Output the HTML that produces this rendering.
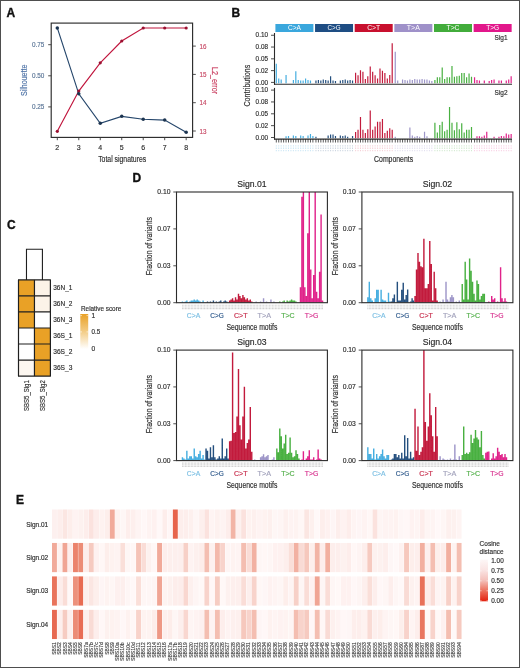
<!DOCTYPE html>
<html><head><meta charset="utf-8"><title>Figure</title>
<style>
html,body{margin:0;padding:0;background:#fff;}
body{width:520px;height:668px;overflow:hidden;}
svg{display:block;font-family:"Liberation Sans", sans-serif;will-change:transform;}
</style></head>
<body>
<svg width="520" height="668" viewBox="0 0 520 668">
<rect x="0" y="0" width="520" height="668" fill="#ffffff"/>
<text x="6.60" y="16.70" font-size="12" fill="#111" text-anchor="start" font-weight="bold" stroke="#111" stroke-width="0.35">A</text>
<polyline points="57.30,131.28 78.78,91.10 100.26,62.80 121.74,41.01 143.22,27.99 164.70,27.99 186.18,27.99" fill="none" stroke="#c0143c" stroke-width="1.15"/>
<polyline points="57.30,27.91 78.78,93.84 100.26,123.32 121.74,116.35 143.22,119.22 164.70,120.09 186.18,132.28" fill="none" stroke="#25466b" stroke-width="1.15"/>
<circle cx="57.30" cy="131.28" r="1.6" fill="#9a1030"/>
<circle cx="78.78" cy="91.10" r="1.6" fill="#9a1030"/>
<circle cx="100.26" cy="62.80" r="1.6" fill="#9a1030"/>
<circle cx="121.74" cy="41.01" r="1.6" fill="#9a1030"/>
<circle cx="143.22" cy="27.99" r="1.6" fill="#9a1030"/>
<circle cx="164.70" cy="27.99" r="1.6" fill="#9a1030"/>
<circle cx="186.18" cy="27.99" r="1.6" fill="#9a1030"/>
<circle cx="57.30" cy="27.91" r="1.75" fill="#1c3450"/>
<circle cx="78.78" cy="93.84" r="1.75" fill="#1c3450"/>
<circle cx="100.26" cy="123.32" r="1.75" fill="#1c3450"/>
<circle cx="121.74" cy="116.35" r="1.75" fill="#1c3450"/>
<circle cx="143.22" cy="119.22" r="1.75" fill="#1c3450"/>
<circle cx="164.70" cy="120.09" r="1.75" fill="#1c3450"/>
<circle cx="186.18" cy="132.28" r="1.75" fill="#1c3450"/>
<rect x="51.2" y="23.1" width="141.40" height="114.30" fill="none" stroke="#2b2b2b" stroke-width="1.15"/>
<line x1="48.20" y1="106.90" x2="51.20" y2="106.90" stroke="#3a3a3a" stroke-width="0.9"/>
<text x="44.40" y="109.40" font-size="7" fill="#5b7697" text-anchor="end" stroke="#5b7697" stroke-width="0.16" textLength="12.4" lengthAdjust="spacingAndGlyphs">0.25</text>
<line x1="48.20" y1="75.80" x2="51.20" y2="75.80" stroke="#3a3a3a" stroke-width="0.9"/>
<text x="44.40" y="78.30" font-size="7" fill="#5b7697" text-anchor="end" stroke="#5b7697" stroke-width="0.16" textLength="12.4" lengthAdjust="spacingAndGlyphs">0.50</text>
<line x1="48.20" y1="44.70" x2="51.20" y2="44.70" stroke="#3a3a3a" stroke-width="0.9"/>
<text x="44.40" y="47.20" font-size="7" fill="#5b7697" text-anchor="end" stroke="#5b7697" stroke-width="0.16" textLength="12.4" lengthAdjust="spacingAndGlyphs">0.75</text>
<line x1="192.60" y1="131.00" x2="195.80" y2="131.00" stroke="#3a3a3a" stroke-width="0.9"/>
<text x="199.40" y="133.50" font-size="7" fill="#c84a66" text-anchor="start" stroke="#c84a66" stroke-width="0.16" textLength="7" lengthAdjust="spacingAndGlyphs">13</text>
<line x1="192.60" y1="102.70" x2="195.80" y2="102.70" stroke="#3a3a3a" stroke-width="0.9"/>
<text x="199.40" y="105.20" font-size="7" fill="#c84a66" text-anchor="start" stroke="#c84a66" stroke-width="0.16" textLength="7" lengthAdjust="spacingAndGlyphs">14</text>
<line x1="192.60" y1="74.40" x2="195.80" y2="74.40" stroke="#3a3a3a" stroke-width="0.9"/>
<text x="199.40" y="76.90" font-size="7" fill="#c84a66" text-anchor="start" stroke="#c84a66" stroke-width="0.16" textLength="7" lengthAdjust="spacingAndGlyphs">15</text>
<line x1="192.60" y1="46.10" x2="195.80" y2="46.10" stroke="#3a3a3a" stroke-width="0.9"/>
<text x="199.40" y="48.60" font-size="7" fill="#c84a66" text-anchor="start" stroke="#c84a66" stroke-width="0.16" textLength="7" lengthAdjust="spacingAndGlyphs">16</text>
<line x1="57.30" y1="137.40" x2="57.30" y2="140.20" stroke="#3a3a3a" stroke-width="0.9"/>
<text x="57.30" y="149.70" font-size="7" fill="#2e2e2e" text-anchor="middle" stroke="#2e2e2e" stroke-width="0.16">2</text>
<line x1="78.78" y1="137.40" x2="78.78" y2="140.20" stroke="#3a3a3a" stroke-width="0.9"/>
<text x="78.78" y="149.70" font-size="7" fill="#2e2e2e" text-anchor="middle" stroke="#2e2e2e" stroke-width="0.16">3</text>
<line x1="100.26" y1="137.40" x2="100.26" y2="140.20" stroke="#3a3a3a" stroke-width="0.9"/>
<text x="100.26" y="149.70" font-size="7" fill="#2e2e2e" text-anchor="middle" stroke="#2e2e2e" stroke-width="0.16">4</text>
<line x1="121.74" y1="137.40" x2="121.74" y2="140.20" stroke="#3a3a3a" stroke-width="0.9"/>
<text x="121.74" y="149.70" font-size="7" fill="#2e2e2e" text-anchor="middle" stroke="#2e2e2e" stroke-width="0.16">5</text>
<line x1="143.22" y1="137.40" x2="143.22" y2="140.20" stroke="#3a3a3a" stroke-width="0.9"/>
<text x="143.22" y="149.70" font-size="7" fill="#2e2e2e" text-anchor="middle" stroke="#2e2e2e" stroke-width="0.16">6</text>
<line x1="164.70" y1="137.40" x2="164.70" y2="140.20" stroke="#3a3a3a" stroke-width="0.9"/>
<text x="164.70" y="149.70" font-size="7" fill="#2e2e2e" text-anchor="middle" stroke="#2e2e2e" stroke-width="0.16">7</text>
<line x1="186.18" y1="137.40" x2="186.18" y2="140.20" stroke="#3a3a3a" stroke-width="0.9"/>
<text x="186.18" y="149.70" font-size="7" fill="#2e2e2e" text-anchor="middle" stroke="#2e2e2e" stroke-width="0.16">8</text>
<text x="122.20" y="161.80" font-size="8.4" fill="#2e2e2e" text-anchor="middle" stroke="#2e2e2e" stroke-width="0.16" textLength="48" lengthAdjust="spacingAndGlyphs">Total signatures</text>
<text x="27.40" y="80.30" font-size="8.4" fill="#4d72a6" text-anchor="middle" stroke="#4d72a6" stroke-width="0.16" textLength="31.4" lengthAdjust="spacingAndGlyphs" transform="rotate(-90 27.40 80.30)">Silhouette</text>
<text x="212.00" y="80.60" font-size="8.4" fill="#c83a5c" text-anchor="middle" stroke="#c83a5c" stroke-width="0.16" textLength="27" lengthAdjust="spacingAndGlyphs" transform="rotate(90 212.00 80.60)">L2_error</text>
<text x="231.40" y="16.90" font-size="12" fill="#111" text-anchor="start" font-weight="bold" stroke="#111" stroke-width="0.35">B</text>
<rect x="275.40" y="24.00" width="38.00" height="8.00" fill="#3aa7dd"/>
<text x="294.40" y="30.40" font-size="6.3" fill="#ffffff" text-anchor="middle" textLength="13" lengthAdjust="spacingAndGlyphs">C&gt;A</text>
<rect x="315.05" y="24.00" width="38.00" height="8.00" fill="#1e4d83"/>
<text x="334.05" y="30.40" font-size="6.3" fill="#ffffff" text-anchor="middle" textLength="13" lengthAdjust="spacingAndGlyphs">C&gt;G</text>
<rect x="354.70" y="24.00" width="38.00" height="8.00" fill="#c8102e"/>
<text x="373.70" y="30.40" font-size="6.3" fill="#ffffff" text-anchor="middle" textLength="13" lengthAdjust="spacingAndGlyphs">C&gt;T</text>
<rect x="394.35" y="24.00" width="38.00" height="8.00" fill="#9f91c9"/>
<text x="413.35" y="30.40" font-size="6.3" fill="#ffffff" text-anchor="middle" textLength="13" lengthAdjust="spacingAndGlyphs">T&gt;A</text>
<rect x="434.00" y="24.00" width="38.00" height="8.00" fill="#42ac3b"/>
<text x="453.00" y="30.40" font-size="6.3" fill="#ffffff" text-anchor="middle" textLength="13" lengthAdjust="spacingAndGlyphs">T&gt;C</text>
<rect x="473.65" y="24.00" width="38.00" height="8.00" fill="#e2178b"/>
<text x="492.65" y="30.40" font-size="6.3" fill="#ffffff" text-anchor="middle" textLength="13" lengthAdjust="spacingAndGlyphs">T&gt;G</text>
<path fill="#46aee0" d="M275.70 63.73h1.20v19.47h-1.20zM278.14 78.61h1.20v4.59h-1.20zM280.58 79.54h1.20v3.66h-1.20zM285.46 74.89h1.20v8.31h-1.20zM292.78 80.01h1.20v3.20h-1.20zM295.22 71.17h1.20v12.03h-1.20zM297.66 80.01h1.20v3.20h-1.20zM300.10 80.47h1.20v2.73h-1.20zM302.54 80.47h1.20v2.73h-1.20zM304.98 78.61h1.20v4.59h-1.20zM307.42 80.01h1.20v3.20h-1.20zM309.86 80.47h1.20v2.73h-1.20zM285.46 136.36h1.20v1.94h-1.20zM287.90 135.88h1.20v2.42h-1.20zM292.78 135.41h1.20v2.89h-1.20zM295.22 135.88h1.20v2.42h-1.20zM300.10 135.41h1.20v2.89h-1.20zM302.54 135.88h1.20v2.42h-1.20zM307.42 135.41h1.20v2.89h-1.20zM309.86 134.00h1.20v4.30h-1.20zM312.30 135.88h1.20v2.42h-1.20z"/>
<path fill="#244f7e" d="M315.35 80.47h1.20v2.73h-1.20zM317.79 80.01h1.20v3.20h-1.20zM320.23 80.47h1.20v2.73h-1.20zM322.67 79.54h1.20v3.66h-1.20zM325.11 80.01h1.20v3.20h-1.20zM327.55 80.47h1.20v2.73h-1.20zM329.99 76.29h1.20v6.91h-1.20zM332.43 80.47h1.20v2.73h-1.20zM334.87 80.94h1.20v2.27h-1.20zM339.75 80.47h1.20v2.73h-1.20zM342.19 80.01h1.20v3.20h-1.20zM344.63 79.54h1.20v3.66h-1.20zM347.07 80.47h1.20v2.73h-1.20zM349.51 80.01h1.20v3.20h-1.20zM351.95 80.47h1.20v2.73h-1.20zM315.35 136.83h1.20v1.47h-1.20zM327.55 135.41h1.20v2.89h-1.20zM329.99 134.47h1.20v3.83h-1.20zM332.43 134.47h1.20v3.83h-1.20zM334.87 135.88h1.20v2.42h-1.20zM339.75 135.41h1.20v2.89h-1.20zM342.19 135.88h1.20v2.42h-1.20zM344.63 135.41h1.20v2.89h-1.20zM347.07 136.83h1.20v1.47h-1.20zM351.95 135.88h1.20v2.42h-1.20z"/>
<path fill="#c21a3c" d="M355.00 72.80h1.20v10.40h-1.20zM357.44 75.36h1.20v7.84h-1.20zM359.88 70.24h1.20v12.96h-1.20zM362.32 71.64h1.20v11.57h-1.20zM364.76 79.08h1.20v4.12h-1.20zM367.20 76.29h1.20v6.91h-1.20zM369.64 66.52h1.20v16.68h-1.20zM372.08 71.64h1.20v11.57h-1.20zM374.52 75.36h1.20v7.84h-1.20zM376.96 78.61h1.20v4.59h-1.20zM379.40 68.38h1.20v14.82h-1.20zM381.84 70.71h1.20v12.50h-1.20zM384.28 73.03h1.20v10.17h-1.20zM386.72 78.61h1.20v4.59h-1.20zM389.16 74.89h1.20v8.31h-1.20zM391.60 43.27h1.20v39.93h-1.20zM355.00 132.11h1.20v6.19h-1.20zM357.44 129.75h1.20v8.55h-1.20zM359.88 117.00h1.20v21.30h-1.20zM362.32 129.75h1.20v8.55h-1.20zM364.76 133.05h1.20v5.25h-1.20zM367.20 129.28h1.20v9.02h-1.20zM369.64 110.40h1.20v27.90h-1.20zM372.08 129.75h1.20v8.55h-1.20zM374.52 126.44h1.20v11.86h-1.20zM376.96 121.72h1.20v16.58h-1.20zM379.40 121.72h1.20v16.58h-1.20zM381.84 118.89h1.20v19.41h-1.20zM384.28 133.05h1.20v5.25h-1.20zM386.72 130.69h1.20v7.61h-1.20zM389.16 128.33h1.20v9.97h-1.20zM391.60 129.75h1.20v8.55h-1.20z"/>
<path fill="#9d95c8" d="M394.65 51.64h1.20v31.56h-1.20zM397.09 80.47h1.20v2.73h-1.20zM401.97 79.54h1.20v3.66h-1.20zM404.41 80.01h1.20v3.20h-1.20zM406.85 80.47h1.20v2.73h-1.20zM409.29 79.54h1.20v3.66h-1.20zM411.73 80.01h1.20v3.20h-1.20zM414.17 79.08h1.20v4.12h-1.20zM416.61 79.54h1.20v3.66h-1.20zM419.05 79.54h1.20v3.66h-1.20zM421.49 79.08h1.20v4.12h-1.20zM423.93 79.54h1.20v3.66h-1.20zM426.37 79.54h1.20v3.66h-1.20zM428.81 80.47h1.20v2.73h-1.20zM431.25 80.94h1.20v2.27h-1.20zM394.65 136.83h1.20v1.47h-1.20zM409.29 127.39h1.20v10.91h-1.20zM411.73 135.41h1.20v2.89h-1.20zM414.17 136.83h1.20v1.47h-1.20zM416.61 135.88h1.20v2.42h-1.20zM419.05 136.83h1.20v1.47h-1.20zM423.93 131.64h1.20v6.66h-1.20zM426.37 136.36h1.20v1.94h-1.20z"/>
<path fill="#48b040" d="M434.30 80.01h1.20v3.20h-1.20zM436.74 77.22h1.20v5.98h-1.20zM439.18 77.22h1.20v5.98h-1.20zM441.62 67.45h1.20v15.75h-1.20zM444.06 79.08h1.20v4.12h-1.20zM446.50 77.22h1.20v5.98h-1.20zM448.94 77.22h1.20v5.98h-1.20zM451.38 66.06h1.20v17.14h-1.20zM453.82 76.75h1.20v6.45h-1.20zM456.26 76.29h1.20v6.91h-1.20zM458.70 75.82h1.20v7.38h-1.20zM461.14 73.03h1.20v10.17h-1.20zM463.58 73.03h1.20v10.17h-1.20zM466.02 77.22h1.20v5.98h-1.20zM468.46 73.50h1.20v9.71h-1.20zM470.90 76.75h1.20v6.45h-1.20zM434.30 122.67h1.20v15.63h-1.20zM436.74 132.58h1.20v5.72h-1.20zM439.18 125.03h1.20v13.27h-1.20zM441.62 121.72h1.20v16.58h-1.20zM444.06 131.16h1.20v7.14h-1.20zM446.50 129.75h1.20v8.55h-1.20zM448.94 107.09h1.20v31.21h-1.20zM451.38 122.67h1.20v15.63h-1.20zM453.82 130.22h1.20v8.08h-1.20zM456.26 122.20h1.20v16.10h-1.20zM458.70 129.28h1.20v9.02h-1.20zM461.14 123.14h1.20v15.16h-1.20zM463.58 132.58h1.20v5.72h-1.20zM466.02 129.75h1.20v8.55h-1.20zM468.46 129.75h1.20v8.55h-1.20zM470.90 126.92h1.20v11.38h-1.20z"/>
<path fill="#e0228a" d="M473.95 77.22h1.20v5.98h-1.20zM476.39 80.01h1.20v3.20h-1.20zM478.83 80.47h1.20v2.73h-1.20zM483.71 80.47h1.20v2.73h-1.20zM488.59 80.94h1.20v2.27h-1.20zM491.03 80.01h1.20v3.20h-1.20zM493.47 79.54h1.20v3.66h-1.20zM498.35 80.47h1.20v2.73h-1.20zM500.79 80.47h1.20v2.73h-1.20zM505.67 80.47h1.20v2.73h-1.20zM508.11 79.54h1.20v3.66h-1.20zM510.55 76.29h1.20v6.91h-1.20zM476.39 136.36h1.20v1.94h-1.20zM478.83 136.36h1.20v1.94h-1.20zM481.27 136.83h1.20v1.47h-1.20zM483.71 135.41h1.20v2.89h-1.20zM486.15 131.64h1.20v6.66h-1.20zM493.47 136.83h1.20v1.47h-1.20zM498.35 136.83h1.20v1.47h-1.20zM500.79 135.88h1.20v2.42h-1.20zM503.23 136.36h1.20v1.94h-1.20zM505.67 133.52h1.20v4.78h-1.20zM508.11 134.47h1.20v3.83h-1.20zM510.55 134.00h1.20v4.30h-1.20z"/>
<line x1="274.50" y1="33.00" x2="274.50" y2="84.80" stroke="#2b2b2b" stroke-width="1.1"/>
<line x1="274.00" y1="84.30" x2="512.00" y2="84.30" stroke="#2b2b2b" stroke-width="1.1"/>
<line x1="274.50" y1="87.90" x2="274.50" y2="139.60" stroke="#2b2b2b" stroke-width="1.1"/>
<line x1="274.00" y1="139.10" x2="512.00" y2="139.10" stroke="#2b2b2b" stroke-width="1.1"/>
<line x1="271.00" y1="82.40" x2="274.60" y2="82.40" stroke="#3a3a3a" stroke-width="0.9"/>
<text x="268.00" y="84.50" font-size="7" fill="#2e2e2e" text-anchor="end" stroke="#2e2e2e" stroke-width="0.16" textLength="12.4" lengthAdjust="spacingAndGlyphs">0.00</text>
<line x1="271.00" y1="70.61" x2="274.60" y2="70.61" stroke="#3a3a3a" stroke-width="0.9"/>
<text x="268.00" y="72.71" font-size="7" fill="#2e2e2e" text-anchor="end" stroke="#2e2e2e" stroke-width="0.16" textLength="12.4" lengthAdjust="spacingAndGlyphs">0.02</text>
<line x1="271.00" y1="58.83" x2="274.60" y2="58.83" stroke="#3a3a3a" stroke-width="0.9"/>
<text x="268.00" y="60.93" font-size="7" fill="#2e2e2e" text-anchor="end" stroke="#2e2e2e" stroke-width="0.16" textLength="12.4" lengthAdjust="spacingAndGlyphs">0.05</text>
<line x1="271.00" y1="47.04" x2="274.60" y2="47.04" stroke="#3a3a3a" stroke-width="0.9"/>
<text x="268.00" y="49.14" font-size="7" fill="#2e2e2e" text-anchor="end" stroke="#2e2e2e" stroke-width="0.16" textLength="12.4" lengthAdjust="spacingAndGlyphs">0.08</text>
<line x1="271.00" y1="35.25" x2="274.60" y2="35.25" stroke="#3a3a3a" stroke-width="0.9"/>
<text x="268.00" y="37.35" font-size="7" fill="#2e2e2e" text-anchor="end" stroke="#2e2e2e" stroke-width="0.16" textLength="12.4" lengthAdjust="spacingAndGlyphs">0.10</text>
<line x1="271.00" y1="137.50" x2="274.60" y2="137.50" stroke="#3a3a3a" stroke-width="0.9"/>
<text x="268.00" y="139.60" font-size="7" fill="#2e2e2e" text-anchor="end" stroke="#2e2e2e" stroke-width="0.16" textLength="12.4" lengthAdjust="spacingAndGlyphs">0.00</text>
<line x1="271.00" y1="125.65" x2="274.60" y2="125.65" stroke="#3a3a3a" stroke-width="0.9"/>
<text x="268.00" y="127.75" font-size="7" fill="#2e2e2e" text-anchor="end" stroke="#2e2e2e" stroke-width="0.16" textLength="12.4" lengthAdjust="spacingAndGlyphs">0.02</text>
<line x1="271.00" y1="113.80" x2="274.60" y2="113.80" stroke="#3a3a3a" stroke-width="0.9"/>
<text x="268.00" y="115.90" font-size="7" fill="#2e2e2e" text-anchor="end" stroke="#2e2e2e" stroke-width="0.16" textLength="12.4" lengthAdjust="spacingAndGlyphs">0.05</text>
<line x1="271.00" y1="101.95" x2="274.60" y2="101.95" stroke="#3a3a3a" stroke-width="0.9"/>
<text x="268.00" y="104.05" font-size="7" fill="#2e2e2e" text-anchor="end" stroke="#2e2e2e" stroke-width="0.16" textLength="12.4" lengthAdjust="spacingAndGlyphs">0.08</text>
<line x1="271.00" y1="90.10" x2="274.60" y2="90.10" stroke="#3a3a3a" stroke-width="0.9"/>
<text x="268.00" y="92.20" font-size="7" fill="#2e2e2e" text-anchor="end" stroke="#2e2e2e" stroke-width="0.16" textLength="12.4" lengthAdjust="spacingAndGlyphs">0.10</text>
<line x1="276.30" y1="139.10" x2="276.30" y2="142.50" stroke="#222" stroke-width="0.75"/>
<line x1="278.74" y1="139.10" x2="278.74" y2="142.50" stroke="#222" stroke-width="0.75"/>
<line x1="281.18" y1="139.10" x2="281.18" y2="142.50" stroke="#222" stroke-width="0.75"/>
<line x1="283.62" y1="139.10" x2="283.62" y2="142.50" stroke="#222" stroke-width="0.75"/>
<line x1="286.06" y1="139.10" x2="286.06" y2="142.50" stroke="#222" stroke-width="0.75"/>
<line x1="288.50" y1="139.10" x2="288.50" y2="142.50" stroke="#222" stroke-width="0.75"/>
<line x1="290.94" y1="139.10" x2="290.94" y2="142.50" stroke="#222" stroke-width="0.75"/>
<line x1="293.38" y1="139.10" x2="293.38" y2="142.50" stroke="#222" stroke-width="0.75"/>
<line x1="295.82" y1="139.10" x2="295.82" y2="142.50" stroke="#222" stroke-width="0.75"/>
<line x1="298.26" y1="139.10" x2="298.26" y2="142.50" stroke="#222" stroke-width="0.75"/>
<line x1="300.70" y1="139.10" x2="300.70" y2="142.50" stroke="#222" stroke-width="0.75"/>
<line x1="303.14" y1="139.10" x2="303.14" y2="142.50" stroke="#222" stroke-width="0.75"/>
<line x1="305.58" y1="139.10" x2="305.58" y2="142.50" stroke="#222" stroke-width="0.75"/>
<line x1="308.02" y1="139.10" x2="308.02" y2="142.50" stroke="#222" stroke-width="0.75"/>
<line x1="310.46" y1="139.10" x2="310.46" y2="142.50" stroke="#222" stroke-width="0.75"/>
<line x1="312.90" y1="139.10" x2="312.90" y2="142.50" stroke="#222" stroke-width="0.75"/>
<line x1="315.95" y1="139.10" x2="315.95" y2="142.50" stroke="#222" stroke-width="0.75"/>
<line x1="318.39" y1="139.10" x2="318.39" y2="142.50" stroke="#222" stroke-width="0.75"/>
<line x1="320.83" y1="139.10" x2="320.83" y2="142.50" stroke="#222" stroke-width="0.75"/>
<line x1="323.27" y1="139.10" x2="323.27" y2="142.50" stroke="#222" stroke-width="0.75"/>
<line x1="325.71" y1="139.10" x2="325.71" y2="142.50" stroke="#222" stroke-width="0.75"/>
<line x1="328.15" y1="139.10" x2="328.15" y2="142.50" stroke="#222" stroke-width="0.75"/>
<line x1="330.59" y1="139.10" x2="330.59" y2="142.50" stroke="#222" stroke-width="0.75"/>
<line x1="333.03" y1="139.10" x2="333.03" y2="142.50" stroke="#222" stroke-width="0.75"/>
<line x1="335.47" y1="139.10" x2="335.47" y2="142.50" stroke="#222" stroke-width="0.75"/>
<line x1="337.91" y1="139.10" x2="337.91" y2="142.50" stroke="#222" stroke-width="0.75"/>
<line x1="340.35" y1="139.10" x2="340.35" y2="142.50" stroke="#222" stroke-width="0.75"/>
<line x1="342.79" y1="139.10" x2="342.79" y2="142.50" stroke="#222" stroke-width="0.75"/>
<line x1="345.23" y1="139.10" x2="345.23" y2="142.50" stroke="#222" stroke-width="0.75"/>
<line x1="347.67" y1="139.10" x2="347.67" y2="142.50" stroke="#222" stroke-width="0.75"/>
<line x1="350.11" y1="139.10" x2="350.11" y2="142.50" stroke="#222" stroke-width="0.75"/>
<line x1="352.55" y1="139.10" x2="352.55" y2="142.50" stroke="#222" stroke-width="0.75"/>
<line x1="355.60" y1="139.10" x2="355.60" y2="142.50" stroke="#222" stroke-width="0.75"/>
<line x1="358.04" y1="139.10" x2="358.04" y2="142.50" stroke="#222" stroke-width="0.75"/>
<line x1="360.48" y1="139.10" x2="360.48" y2="142.50" stroke="#222" stroke-width="0.75"/>
<line x1="362.92" y1="139.10" x2="362.92" y2="142.50" stroke="#222" stroke-width="0.75"/>
<line x1="365.36" y1="139.10" x2="365.36" y2="142.50" stroke="#222" stroke-width="0.75"/>
<line x1="367.80" y1="139.10" x2="367.80" y2="142.50" stroke="#222" stroke-width="0.75"/>
<line x1="370.24" y1="139.10" x2="370.24" y2="142.50" stroke="#222" stroke-width="0.75"/>
<line x1="372.68" y1="139.10" x2="372.68" y2="142.50" stroke="#222" stroke-width="0.75"/>
<line x1="375.12" y1="139.10" x2="375.12" y2="142.50" stroke="#222" stroke-width="0.75"/>
<line x1="377.56" y1="139.10" x2="377.56" y2="142.50" stroke="#222" stroke-width="0.75"/>
<line x1="380.00" y1="139.10" x2="380.00" y2="142.50" stroke="#222" stroke-width="0.75"/>
<line x1="382.44" y1="139.10" x2="382.44" y2="142.50" stroke="#222" stroke-width="0.75"/>
<line x1="384.88" y1="139.10" x2="384.88" y2="142.50" stroke="#222" stroke-width="0.75"/>
<line x1="387.32" y1="139.10" x2="387.32" y2="142.50" stroke="#222" stroke-width="0.75"/>
<line x1="389.76" y1="139.10" x2="389.76" y2="142.50" stroke="#222" stroke-width="0.75"/>
<line x1="392.20" y1="139.10" x2="392.20" y2="142.50" stroke="#222" stroke-width="0.75"/>
<line x1="395.25" y1="139.10" x2="395.25" y2="142.50" stroke="#222" stroke-width="0.75"/>
<line x1="397.69" y1="139.10" x2="397.69" y2="142.50" stroke="#222" stroke-width="0.75"/>
<line x1="400.13" y1="139.10" x2="400.13" y2="142.50" stroke="#222" stroke-width="0.75"/>
<line x1="402.57" y1="139.10" x2="402.57" y2="142.50" stroke="#222" stroke-width="0.75"/>
<line x1="405.01" y1="139.10" x2="405.01" y2="142.50" stroke="#222" stroke-width="0.75"/>
<line x1="407.45" y1="139.10" x2="407.45" y2="142.50" stroke="#222" stroke-width="0.75"/>
<line x1="409.89" y1="139.10" x2="409.89" y2="142.50" stroke="#222" stroke-width="0.75"/>
<line x1="412.33" y1="139.10" x2="412.33" y2="142.50" stroke="#222" stroke-width="0.75"/>
<line x1="414.77" y1="139.10" x2="414.77" y2="142.50" stroke="#222" stroke-width="0.75"/>
<line x1="417.21" y1="139.10" x2="417.21" y2="142.50" stroke="#222" stroke-width="0.75"/>
<line x1="419.65" y1="139.10" x2="419.65" y2="142.50" stroke="#222" stroke-width="0.75"/>
<line x1="422.09" y1="139.10" x2="422.09" y2="142.50" stroke="#222" stroke-width="0.75"/>
<line x1="424.53" y1="139.10" x2="424.53" y2="142.50" stroke="#222" stroke-width="0.75"/>
<line x1="426.97" y1="139.10" x2="426.97" y2="142.50" stroke="#222" stroke-width="0.75"/>
<line x1="429.41" y1="139.10" x2="429.41" y2="142.50" stroke="#222" stroke-width="0.75"/>
<line x1="431.85" y1="139.10" x2="431.85" y2="142.50" stroke="#222" stroke-width="0.75"/>
<line x1="434.90" y1="139.10" x2="434.90" y2="142.50" stroke="#222" stroke-width="0.75"/>
<line x1="437.34" y1="139.10" x2="437.34" y2="142.50" stroke="#222" stroke-width="0.75"/>
<line x1="439.78" y1="139.10" x2="439.78" y2="142.50" stroke="#222" stroke-width="0.75"/>
<line x1="442.22" y1="139.10" x2="442.22" y2="142.50" stroke="#222" stroke-width="0.75"/>
<line x1="444.66" y1="139.10" x2="444.66" y2="142.50" stroke="#222" stroke-width="0.75"/>
<line x1="447.10" y1="139.10" x2="447.10" y2="142.50" stroke="#222" stroke-width="0.75"/>
<line x1="449.54" y1="139.10" x2="449.54" y2="142.50" stroke="#222" stroke-width="0.75"/>
<line x1="451.98" y1="139.10" x2="451.98" y2="142.50" stroke="#222" stroke-width="0.75"/>
<line x1="454.42" y1="139.10" x2="454.42" y2="142.50" stroke="#222" stroke-width="0.75"/>
<line x1="456.86" y1="139.10" x2="456.86" y2="142.50" stroke="#222" stroke-width="0.75"/>
<line x1="459.30" y1="139.10" x2="459.30" y2="142.50" stroke="#222" stroke-width="0.75"/>
<line x1="461.74" y1="139.10" x2="461.74" y2="142.50" stroke="#222" stroke-width="0.75"/>
<line x1="464.18" y1="139.10" x2="464.18" y2="142.50" stroke="#222" stroke-width="0.75"/>
<line x1="466.62" y1="139.10" x2="466.62" y2="142.50" stroke="#222" stroke-width="0.75"/>
<line x1="469.06" y1="139.10" x2="469.06" y2="142.50" stroke="#222" stroke-width="0.75"/>
<line x1="471.50" y1="139.10" x2="471.50" y2="142.50" stroke="#222" stroke-width="0.75"/>
<line x1="474.55" y1="139.10" x2="474.55" y2="142.50" stroke="#222" stroke-width="0.75"/>
<line x1="476.99" y1="139.10" x2="476.99" y2="142.50" stroke="#222" stroke-width="0.75"/>
<line x1="479.43" y1="139.10" x2="479.43" y2="142.50" stroke="#222" stroke-width="0.75"/>
<line x1="481.87" y1="139.10" x2="481.87" y2="142.50" stroke="#222" stroke-width="0.75"/>
<line x1="484.31" y1="139.10" x2="484.31" y2="142.50" stroke="#222" stroke-width="0.75"/>
<line x1="486.75" y1="139.10" x2="486.75" y2="142.50" stroke="#222" stroke-width="0.75"/>
<line x1="489.19" y1="139.10" x2="489.19" y2="142.50" stroke="#222" stroke-width="0.75"/>
<line x1="491.63" y1="139.10" x2="491.63" y2="142.50" stroke="#222" stroke-width="0.75"/>
<line x1="494.07" y1="139.10" x2="494.07" y2="142.50" stroke="#222" stroke-width="0.75"/>
<line x1="496.51" y1="139.10" x2="496.51" y2="142.50" stroke="#222" stroke-width="0.75"/>
<line x1="498.95" y1="139.10" x2="498.95" y2="142.50" stroke="#222" stroke-width="0.75"/>
<line x1="501.39" y1="139.10" x2="501.39" y2="142.50" stroke="#222" stroke-width="0.75"/>
<line x1="503.83" y1="139.10" x2="503.83" y2="142.50" stroke="#222" stroke-width="0.75"/>
<line x1="506.27" y1="139.10" x2="506.27" y2="142.50" stroke="#222" stroke-width="0.75"/>
<line x1="508.71" y1="139.10" x2="508.71" y2="142.50" stroke="#222" stroke-width="0.75"/>
<line x1="511.15" y1="139.10" x2="511.15" y2="142.50" stroke="#222" stroke-width="0.75"/>
<path fill="#a8d6ef" opacity="0.6" d="M275.80 145.30h1.00v1.30h-1.00zM275.80 147.60h1.00v1.30h-1.00zM275.80 149.90h1.00v1.30h-1.00zM278.24 145.30h1.00v1.30h-1.00zM278.24 147.60h1.00v1.30h-1.00zM278.24 149.90h1.00v1.30h-1.00zM280.68 145.30h1.00v1.30h-1.00zM280.68 147.60h1.00v1.30h-1.00zM280.68 149.90h1.00v1.30h-1.00zM283.12 145.30h1.00v1.30h-1.00zM283.12 147.60h1.00v1.30h-1.00zM283.12 149.90h1.00v1.30h-1.00zM285.56 145.30h1.00v1.30h-1.00zM285.56 147.60h1.00v1.30h-1.00zM285.56 149.90h1.00v1.30h-1.00zM288.00 145.30h1.00v1.30h-1.00zM288.00 147.60h1.00v1.30h-1.00zM288.00 149.90h1.00v1.30h-1.00zM290.44 145.30h1.00v1.30h-1.00zM290.44 147.60h1.00v1.30h-1.00zM290.44 149.90h1.00v1.30h-1.00zM292.88 145.30h1.00v1.30h-1.00zM292.88 147.60h1.00v1.30h-1.00zM292.88 149.90h1.00v1.30h-1.00zM295.32 145.30h1.00v1.30h-1.00zM295.32 147.60h1.00v1.30h-1.00zM295.32 149.90h1.00v1.30h-1.00zM297.76 145.30h1.00v1.30h-1.00zM297.76 147.60h1.00v1.30h-1.00zM297.76 149.90h1.00v1.30h-1.00zM300.20 145.30h1.00v1.30h-1.00zM300.20 147.60h1.00v1.30h-1.00zM300.20 149.90h1.00v1.30h-1.00zM302.64 145.30h1.00v1.30h-1.00zM302.64 147.60h1.00v1.30h-1.00zM302.64 149.90h1.00v1.30h-1.00zM305.08 145.30h1.00v1.30h-1.00zM305.08 147.60h1.00v1.30h-1.00zM305.08 149.90h1.00v1.30h-1.00zM307.52 145.30h1.00v1.30h-1.00zM307.52 147.60h1.00v1.30h-1.00zM307.52 149.90h1.00v1.30h-1.00zM309.96 145.30h1.00v1.30h-1.00zM309.96 147.60h1.00v1.30h-1.00zM309.96 149.90h1.00v1.30h-1.00zM312.40 145.30h1.00v1.30h-1.00zM312.40 147.60h1.00v1.30h-1.00zM312.40 149.90h1.00v1.30h-1.00z"/>
<path fill="#a9b9cc" opacity="0.6" d="M315.45 145.30h1.00v1.30h-1.00zM315.45 147.60h1.00v1.30h-1.00zM315.45 149.90h1.00v1.30h-1.00zM317.89 145.30h1.00v1.30h-1.00zM317.89 147.60h1.00v1.30h-1.00zM317.89 149.90h1.00v1.30h-1.00zM320.33 145.30h1.00v1.30h-1.00zM320.33 147.60h1.00v1.30h-1.00zM320.33 149.90h1.00v1.30h-1.00zM322.77 145.30h1.00v1.30h-1.00zM322.77 147.60h1.00v1.30h-1.00zM322.77 149.90h1.00v1.30h-1.00zM325.21 145.30h1.00v1.30h-1.00zM325.21 147.60h1.00v1.30h-1.00zM325.21 149.90h1.00v1.30h-1.00zM327.65 145.30h1.00v1.30h-1.00zM327.65 147.60h1.00v1.30h-1.00zM327.65 149.90h1.00v1.30h-1.00zM330.09 145.30h1.00v1.30h-1.00zM330.09 147.60h1.00v1.30h-1.00zM330.09 149.90h1.00v1.30h-1.00zM332.53 145.30h1.00v1.30h-1.00zM332.53 147.60h1.00v1.30h-1.00zM332.53 149.90h1.00v1.30h-1.00zM334.97 145.30h1.00v1.30h-1.00zM334.97 147.60h1.00v1.30h-1.00zM334.97 149.90h1.00v1.30h-1.00zM337.41 145.30h1.00v1.30h-1.00zM337.41 147.60h1.00v1.30h-1.00zM337.41 149.90h1.00v1.30h-1.00zM339.85 145.30h1.00v1.30h-1.00zM339.85 147.60h1.00v1.30h-1.00zM339.85 149.90h1.00v1.30h-1.00zM342.29 145.30h1.00v1.30h-1.00zM342.29 147.60h1.00v1.30h-1.00zM342.29 149.90h1.00v1.30h-1.00zM344.73 145.30h1.00v1.30h-1.00zM344.73 147.60h1.00v1.30h-1.00zM344.73 149.90h1.00v1.30h-1.00zM347.17 145.30h1.00v1.30h-1.00zM347.17 147.60h1.00v1.30h-1.00zM347.17 149.90h1.00v1.30h-1.00zM349.61 145.30h1.00v1.30h-1.00zM349.61 147.60h1.00v1.30h-1.00zM349.61 149.90h1.00v1.30h-1.00zM352.05 145.30h1.00v1.30h-1.00zM352.05 147.60h1.00v1.30h-1.00zM352.05 149.90h1.00v1.30h-1.00z"/>
<path fill="#eeb0bd" opacity="0.6" d="M355.10 145.30h1.00v1.30h-1.00zM355.10 147.60h1.00v1.30h-1.00zM355.10 149.90h1.00v1.30h-1.00zM357.54 145.30h1.00v1.30h-1.00zM357.54 147.60h1.00v1.30h-1.00zM357.54 149.90h1.00v1.30h-1.00zM359.98 145.30h1.00v1.30h-1.00zM359.98 147.60h1.00v1.30h-1.00zM359.98 149.90h1.00v1.30h-1.00zM362.42 145.30h1.00v1.30h-1.00zM362.42 147.60h1.00v1.30h-1.00zM362.42 149.90h1.00v1.30h-1.00zM364.86 145.30h1.00v1.30h-1.00zM364.86 147.60h1.00v1.30h-1.00zM364.86 149.90h1.00v1.30h-1.00zM367.30 145.30h1.00v1.30h-1.00zM367.30 147.60h1.00v1.30h-1.00zM367.30 149.90h1.00v1.30h-1.00zM369.74 145.30h1.00v1.30h-1.00zM369.74 147.60h1.00v1.30h-1.00zM369.74 149.90h1.00v1.30h-1.00zM372.18 145.30h1.00v1.30h-1.00zM372.18 147.60h1.00v1.30h-1.00zM372.18 149.90h1.00v1.30h-1.00zM374.62 145.30h1.00v1.30h-1.00zM374.62 147.60h1.00v1.30h-1.00zM374.62 149.90h1.00v1.30h-1.00zM377.06 145.30h1.00v1.30h-1.00zM377.06 147.60h1.00v1.30h-1.00zM377.06 149.90h1.00v1.30h-1.00zM379.50 145.30h1.00v1.30h-1.00zM379.50 147.60h1.00v1.30h-1.00zM379.50 149.90h1.00v1.30h-1.00zM381.94 145.30h1.00v1.30h-1.00zM381.94 147.60h1.00v1.30h-1.00zM381.94 149.90h1.00v1.30h-1.00zM384.38 145.30h1.00v1.30h-1.00zM384.38 147.60h1.00v1.30h-1.00zM384.38 149.90h1.00v1.30h-1.00zM386.82 145.30h1.00v1.30h-1.00zM386.82 147.60h1.00v1.30h-1.00zM386.82 149.90h1.00v1.30h-1.00zM389.26 145.30h1.00v1.30h-1.00zM389.26 147.60h1.00v1.30h-1.00zM389.26 149.90h1.00v1.30h-1.00zM391.70 145.30h1.00v1.30h-1.00zM391.70 147.60h1.00v1.30h-1.00zM391.70 149.90h1.00v1.30h-1.00z"/>
<path fill="#cfcae4" opacity="0.6" d="M394.75 145.30h1.00v1.30h-1.00zM394.75 147.60h1.00v1.30h-1.00zM394.75 149.90h1.00v1.30h-1.00zM397.19 145.30h1.00v1.30h-1.00zM397.19 147.60h1.00v1.30h-1.00zM397.19 149.90h1.00v1.30h-1.00zM399.63 145.30h1.00v1.30h-1.00zM399.63 147.60h1.00v1.30h-1.00zM399.63 149.90h1.00v1.30h-1.00zM402.07 145.30h1.00v1.30h-1.00zM402.07 147.60h1.00v1.30h-1.00zM402.07 149.90h1.00v1.30h-1.00zM404.51 145.30h1.00v1.30h-1.00zM404.51 147.60h1.00v1.30h-1.00zM404.51 149.90h1.00v1.30h-1.00zM406.95 145.30h1.00v1.30h-1.00zM406.95 147.60h1.00v1.30h-1.00zM406.95 149.90h1.00v1.30h-1.00zM409.39 145.30h1.00v1.30h-1.00zM409.39 147.60h1.00v1.30h-1.00zM409.39 149.90h1.00v1.30h-1.00zM411.83 145.30h1.00v1.30h-1.00zM411.83 147.60h1.00v1.30h-1.00zM411.83 149.90h1.00v1.30h-1.00zM414.27 145.30h1.00v1.30h-1.00zM414.27 147.60h1.00v1.30h-1.00zM414.27 149.90h1.00v1.30h-1.00zM416.71 145.30h1.00v1.30h-1.00zM416.71 147.60h1.00v1.30h-1.00zM416.71 149.90h1.00v1.30h-1.00zM419.15 145.30h1.00v1.30h-1.00zM419.15 147.60h1.00v1.30h-1.00zM419.15 149.90h1.00v1.30h-1.00zM421.59 145.30h1.00v1.30h-1.00zM421.59 147.60h1.00v1.30h-1.00zM421.59 149.90h1.00v1.30h-1.00zM424.03 145.30h1.00v1.30h-1.00zM424.03 147.60h1.00v1.30h-1.00zM424.03 149.90h1.00v1.30h-1.00zM426.47 145.30h1.00v1.30h-1.00zM426.47 147.60h1.00v1.30h-1.00zM426.47 149.90h1.00v1.30h-1.00zM428.91 145.30h1.00v1.30h-1.00zM428.91 147.60h1.00v1.30h-1.00zM428.91 149.90h1.00v1.30h-1.00zM431.35 145.30h1.00v1.30h-1.00zM431.35 147.60h1.00v1.30h-1.00zM431.35 149.90h1.00v1.30h-1.00z"/>
<path fill="#b5dcb2" opacity="0.6" d="M434.40 145.30h1.00v1.30h-1.00zM434.40 147.60h1.00v1.30h-1.00zM434.40 149.90h1.00v1.30h-1.00zM436.84 145.30h1.00v1.30h-1.00zM436.84 147.60h1.00v1.30h-1.00zM436.84 149.90h1.00v1.30h-1.00zM439.28 145.30h1.00v1.30h-1.00zM439.28 147.60h1.00v1.30h-1.00zM439.28 149.90h1.00v1.30h-1.00zM441.72 145.30h1.00v1.30h-1.00zM441.72 147.60h1.00v1.30h-1.00zM441.72 149.90h1.00v1.30h-1.00zM444.16 145.30h1.00v1.30h-1.00zM444.16 147.60h1.00v1.30h-1.00zM444.16 149.90h1.00v1.30h-1.00zM446.60 145.30h1.00v1.30h-1.00zM446.60 147.60h1.00v1.30h-1.00zM446.60 149.90h1.00v1.30h-1.00zM449.04 145.30h1.00v1.30h-1.00zM449.04 147.60h1.00v1.30h-1.00zM449.04 149.90h1.00v1.30h-1.00zM451.48 145.30h1.00v1.30h-1.00zM451.48 147.60h1.00v1.30h-1.00zM451.48 149.90h1.00v1.30h-1.00zM453.92 145.30h1.00v1.30h-1.00zM453.92 147.60h1.00v1.30h-1.00zM453.92 149.90h1.00v1.30h-1.00zM456.36 145.30h1.00v1.30h-1.00zM456.36 147.60h1.00v1.30h-1.00zM456.36 149.90h1.00v1.30h-1.00zM458.80 145.30h1.00v1.30h-1.00zM458.80 147.60h1.00v1.30h-1.00zM458.80 149.90h1.00v1.30h-1.00zM461.24 145.30h1.00v1.30h-1.00zM461.24 147.60h1.00v1.30h-1.00zM461.24 149.90h1.00v1.30h-1.00zM463.68 145.30h1.00v1.30h-1.00zM463.68 147.60h1.00v1.30h-1.00zM463.68 149.90h1.00v1.30h-1.00zM466.12 145.30h1.00v1.30h-1.00zM466.12 147.60h1.00v1.30h-1.00zM466.12 149.90h1.00v1.30h-1.00zM468.56 145.30h1.00v1.30h-1.00zM468.56 147.60h1.00v1.30h-1.00zM468.56 149.90h1.00v1.30h-1.00zM471.00 145.30h1.00v1.30h-1.00zM471.00 147.60h1.00v1.30h-1.00zM471.00 149.90h1.00v1.30h-1.00z"/>
<path fill="#f3b2d3" opacity="0.6" d="M474.05 145.30h1.00v1.30h-1.00zM474.05 147.60h1.00v1.30h-1.00zM474.05 149.90h1.00v1.30h-1.00zM476.49 145.30h1.00v1.30h-1.00zM476.49 147.60h1.00v1.30h-1.00zM476.49 149.90h1.00v1.30h-1.00zM478.93 145.30h1.00v1.30h-1.00zM478.93 147.60h1.00v1.30h-1.00zM478.93 149.90h1.00v1.30h-1.00zM481.37 145.30h1.00v1.30h-1.00zM481.37 147.60h1.00v1.30h-1.00zM481.37 149.90h1.00v1.30h-1.00zM483.81 145.30h1.00v1.30h-1.00zM483.81 147.60h1.00v1.30h-1.00zM483.81 149.90h1.00v1.30h-1.00zM486.25 145.30h1.00v1.30h-1.00zM486.25 147.60h1.00v1.30h-1.00zM486.25 149.90h1.00v1.30h-1.00zM488.69 145.30h1.00v1.30h-1.00zM488.69 147.60h1.00v1.30h-1.00zM488.69 149.90h1.00v1.30h-1.00zM491.13 145.30h1.00v1.30h-1.00zM491.13 147.60h1.00v1.30h-1.00zM491.13 149.90h1.00v1.30h-1.00zM493.57 145.30h1.00v1.30h-1.00zM493.57 147.60h1.00v1.30h-1.00zM493.57 149.90h1.00v1.30h-1.00zM496.01 145.30h1.00v1.30h-1.00zM496.01 147.60h1.00v1.30h-1.00zM496.01 149.90h1.00v1.30h-1.00zM498.45 145.30h1.00v1.30h-1.00zM498.45 147.60h1.00v1.30h-1.00zM498.45 149.90h1.00v1.30h-1.00zM500.89 145.30h1.00v1.30h-1.00zM500.89 147.60h1.00v1.30h-1.00zM500.89 149.90h1.00v1.30h-1.00zM503.33 145.30h1.00v1.30h-1.00zM503.33 147.60h1.00v1.30h-1.00zM503.33 149.90h1.00v1.30h-1.00zM505.77 145.30h1.00v1.30h-1.00zM505.77 147.60h1.00v1.30h-1.00zM505.77 149.90h1.00v1.30h-1.00zM508.21 145.30h1.00v1.30h-1.00zM508.21 147.60h1.00v1.30h-1.00zM508.21 149.90h1.00v1.30h-1.00zM510.65 145.30h1.00v1.30h-1.00zM510.65 147.60h1.00v1.30h-1.00zM510.65 149.90h1.00v1.30h-1.00z"/>
<text x="507.60" y="39.60" font-size="7" fill="#2e2e2e" text-anchor="end" stroke="#2e2e2e" stroke-width="0.16" textLength="13" lengthAdjust="spacingAndGlyphs">Sig1</text>
<text x="507.60" y="95.20" font-size="7" fill="#2e2e2e" text-anchor="end" stroke="#2e2e2e" stroke-width="0.16" textLength="13" lengthAdjust="spacingAndGlyphs">Sig2</text>
<text x="249.60" y="85.60" font-size="8.4" fill="#2e2e2e" text-anchor="middle" stroke="#2e2e2e" stroke-width="0.16" textLength="41.9" lengthAdjust="spacingAndGlyphs" transform="rotate(-90 249.60 85.60)">Contributions</text>
<text x="393.60" y="161.70" font-size="8.4" fill="#2e2e2e" text-anchor="middle" stroke="#2e2e2e" stroke-width="0.16" textLength="39" lengthAdjust="spacingAndGlyphs">Components</text>
<text x="6.90" y="229.20" font-size="12" fill="#111" text-anchor="start" font-weight="bold" stroke="#111" stroke-width="0.35">C</text>
<rect x="18.50" y="279.90" width="15.95" height="16.03" fill="#e9a126"/>
<rect x="34.45" y="279.90" width="15.95" height="16.03" fill="#fcf3e8"/>
<rect x="18.50" y="295.93" width="15.95" height="16.03" fill="#e9a126"/>
<rect x="34.45" y="295.93" width="15.95" height="16.03" fill="#fcf3e8"/>
<rect x="18.50" y="311.96" width="15.95" height="16.03" fill="#e9a126"/>
<rect x="34.45" y="311.96" width="15.95" height="16.03" fill="#ffffff"/>
<rect x="18.50" y="327.99" width="15.95" height="16.03" fill="#ffffff"/>
<rect x="34.45" y="327.99" width="15.95" height="16.03" fill="#e9a126"/>
<rect x="18.50" y="344.02" width="15.95" height="16.03" fill="#ffffff"/>
<rect x="34.45" y="344.02" width="15.95" height="16.03" fill="#e9a126"/>
<rect x="18.50" y="360.05" width="15.95" height="16.03" fill="#fdf7f0"/>
<rect x="34.45" y="360.05" width="15.95" height="16.03" fill="#e9a126"/>
<line x1="18.00" y1="279.90" x2="50.90" y2="279.90" stroke="#1f1f1f" stroke-width="1.2"/>
<line x1="18.00" y1="295.93" x2="50.90" y2="295.93" stroke="#1f1f1f" stroke-width="1.2"/>
<line x1="18.00" y1="311.96" x2="50.90" y2="311.96" stroke="#1f1f1f" stroke-width="1.2"/>
<line x1="18.00" y1="327.99" x2="50.90" y2="327.99" stroke="#1f1f1f" stroke-width="1.2"/>
<line x1="18.00" y1="344.02" x2="50.90" y2="344.02" stroke="#1f1f1f" stroke-width="1.2"/>
<line x1="18.00" y1="360.05" x2="50.90" y2="360.05" stroke="#1f1f1f" stroke-width="1.2"/>
<line x1="18.00" y1="376.08" x2="50.90" y2="376.08" stroke="#1f1f1f" stroke-width="1.2"/>
<line x1="18.50" y1="279.90" x2="18.50" y2="376.08" stroke="#1f1f1f" stroke-width="1.2"/>
<line x1="34.45" y1="279.90" x2="34.45" y2="376.08" stroke="#1f1f1f" stroke-width="1.2"/>
<line x1="50.40" y1="279.90" x2="50.40" y2="376.08" stroke="#1f1f1f" stroke-width="1.2"/>
<polyline points="26.48,279.9 26.48,249.3 42.42,249.3 42.42,279.9" fill="none" stroke="#1f1f1f" stroke-width="1.1"/>
<text x="53.20" y="290.31" font-size="6.8" fill="#2e2e2e" text-anchor="start" stroke="#2e2e2e" stroke-width="0.16" textLength="19.2" lengthAdjust="spacingAndGlyphs">36N_1</text>
<text x="53.20" y="306.34" font-size="6.8" fill="#2e2e2e" text-anchor="start" stroke="#2e2e2e" stroke-width="0.16" textLength="19.2" lengthAdjust="spacingAndGlyphs">36N_2</text>
<text x="53.20" y="322.37" font-size="6.8" fill="#2e2e2e" text-anchor="start" stroke="#2e2e2e" stroke-width="0.16" textLength="19.2" lengthAdjust="spacingAndGlyphs">36N_3</text>
<text x="53.20" y="338.40" font-size="6.8" fill="#2e2e2e" text-anchor="start" stroke="#2e2e2e" stroke-width="0.16" textLength="19.2" lengthAdjust="spacingAndGlyphs">36S_1</text>
<text x="53.20" y="354.43" font-size="6.8" fill="#2e2e2e" text-anchor="start" stroke="#2e2e2e" stroke-width="0.16" textLength="19.2" lengthAdjust="spacingAndGlyphs">36S_2</text>
<text x="53.20" y="370.46" font-size="6.8" fill="#2e2e2e" text-anchor="start" stroke="#2e2e2e" stroke-width="0.16" textLength="19.2" lengthAdjust="spacingAndGlyphs">36S_3</text>
<text x="28.78" y="380.20" font-size="6.8" fill="#2e2e2e" text-anchor="end" stroke="#2e2e2e" stroke-width="0.16" textLength="30.8" lengthAdjust="spacingAndGlyphs" transform="rotate(-90 28.78 380.20)">SBS5_Sig1</text>
<text x="44.73" y="380.20" font-size="6.8" fill="#2e2e2e" text-anchor="end" stroke="#2e2e2e" stroke-width="0.16" textLength="30.8" lengthAdjust="spacingAndGlyphs" transform="rotate(-90 44.73 380.20)">SBS5_Sig2</text>
<defs><linearGradient id="gC" x1="0" y1="0" x2="0" y2="1"><stop offset="0" stop-color="#e9a126"/><stop offset="0.5" stop-color="#f3cc85"/><stop offset="1" stop-color="#ffffff"/></linearGradient><linearGradient id="gE" x1="0" y1="0" x2="0" y2="1"><stop offset="0" stop-color="#fdf6f6"/><stop offset="0.25" stop-color="#fae4e3"/><stop offset="0.5" stop-color="#f4c0ba"/><stop offset="0.75" stop-color="#ec6e5a"/><stop offset="1" stop-color="#e3200e"/></linearGradient></defs>
<rect x="80.30" y="314.00" width="7.90" height="35.00" fill="url(#gC)"/>
<line x1="80.30" y1="315.60" x2="82.00" y2="315.60" stroke="#ffffff" stroke-width="0.6"/>
<line x1="86.50" y1="315.60" x2="88.20" y2="315.60" stroke="#ffffff" stroke-width="0.6"/>
<line x1="80.30" y1="331.90" x2="82.00" y2="331.90" stroke="#ffffff" stroke-width="0.6"/>
<line x1="86.50" y1="331.90" x2="88.20" y2="331.90" stroke="#ffffff" stroke-width="0.6"/>
<text x="81.00" y="310.60" font-size="6.6" fill="#2e2e2e" text-anchor="start" stroke="#2e2e2e" stroke-width="0.16" textLength="40.3" lengthAdjust="spacingAndGlyphs">Relative score</text>
<text x="91.60" y="317.60" font-size="6.6" fill="#2e2e2e" text-anchor="start" stroke="#2e2e2e" stroke-width="0.16">1</text>
<text x="91.60" y="334.30" font-size="6.6" fill="#2e2e2e" text-anchor="start" stroke="#2e2e2e" stroke-width="0.16" textLength="8.7" lengthAdjust="spacingAndGlyphs">0.5</text>
<text x="91.60" y="350.70" font-size="6.6" fill="#2e2e2e" text-anchor="start" stroke="#2e2e2e" stroke-width="0.16">0</text>
<text x="132.60" y="181.90" font-size="12" fill="#111" text-anchor="start" font-weight="bold" stroke="#111" stroke-width="0.35">D</text>
<clipPath id="cp176192"><rect x="176.5" y="192.0" width="150.89999999999998" height="110.69999999999999"/></clipPath>
<g clip-path="url(#cp176192)">
<path fill="#46aee0" d="M181.73 301.60h1.42v1.10h-1.42zM184.68 301.60h1.42v1.10h-1.42zM186.15 300.49h1.42v2.21h-1.42zM189.10 301.60h1.42v1.10h-1.42zM190.58 300.49h1.42v2.21h-1.42zM192.05 300.49h1.42v2.21h-1.42zM193.53 299.39h1.42v3.31h-1.42zM195.00 300.49h1.42v2.21h-1.42zM196.48 299.39h1.42v3.31h-1.42zM197.95 300.49h1.42v2.21h-1.42zM199.43 301.60h1.42v1.10h-1.42zM202.38 300.49h1.42v2.21h-1.42z"/>
<path fill="#244f7e" d="M206.80 301.60h1.42v1.10h-1.42zM209.75 301.60h1.42v1.10h-1.42zM212.70 300.49h1.42v2.21h-1.42zM215.65 301.60h1.42v1.10h-1.42zM218.60 301.60h1.42v1.10h-1.42zM220.08 300.49h1.42v2.21h-1.42zM223.03 301.60h1.42v1.10h-1.42zM224.50 300.49h1.42v2.21h-1.42zM225.98 301.60h1.42v1.10h-1.42z"/>
<path fill="#c21a3c" d="M228.93 300.49h1.42v2.21h-1.42zM230.40 299.39h1.42v3.31h-1.42zM231.88 298.28h1.42v4.42h-1.42zM233.35 300.49h1.42v2.21h-1.42zM234.83 297.18h1.42v5.52h-1.42zM236.30 299.39h1.42v3.31h-1.42zM237.78 293.87h1.42v8.83h-1.42zM239.25 296.08h1.42v6.62h-1.42zM240.73 298.28h1.42v4.42h-1.42zM242.20 294.97h1.42v7.73h-1.42zM243.68 297.18h1.42v5.52h-1.42zM245.15 299.39h1.42v3.31h-1.42zM246.63 298.28h1.42v4.42h-1.42zM248.10 300.49h1.42v2.21h-1.42zM249.58 299.39h1.42v3.31h-1.42zM251.05 301.60h1.42v1.10h-1.42z"/>
<path fill="#9d95c8" d="M255.48 301.60h1.42v1.10h-1.42zM259.90 301.60h1.42v1.10h-1.42zM262.85 298.28h1.42v4.42h-1.42zM265.80 301.60h1.42v1.10h-1.42zM270.23 299.39h1.42v3.31h-1.42zM273.18 301.60h1.42v1.10h-1.42z"/>
<path fill="#48b040" d="M279.08 301.60h1.42v1.10h-1.42zM282.03 301.60h1.42v1.10h-1.42zM283.50 300.49h1.42v2.21h-1.42zM286.45 300.49h1.42v2.21h-1.42zM287.93 301.60h1.42v1.10h-1.42zM289.40 300.49h1.42v2.21h-1.42zM290.88 299.39h1.42v3.31h-1.42zM292.35 300.49h1.42v2.21h-1.42zM293.83 300.49h1.42v2.21h-1.42zM295.30 301.60h1.42v1.10h-1.42z"/>
<path fill="#e0228a" d="M299.73 287.24h1.42v15.46h-1.42zM301.20 196.72h1.42v105.98h-1.42zM302.68 170.22h1.42v132.48h-1.42zM304.15 287.24h1.42v15.46h-1.42zM305.63 296.08h1.42v6.62h-1.42zM307.10 233.15h1.42v69.55h-1.42zM308.58 170.22h1.42v132.48h-1.42zM310.05 269.58h1.42v33.12h-1.42zM311.53 298.28h1.42v4.42h-1.42zM313.00 275.10h1.42v27.60h-1.42zM314.48 170.22h1.42v132.48h-1.42zM315.95 291.66h1.42v11.04h-1.42zM317.43 298.28h1.42v4.42h-1.42zM318.90 271.79h1.42v30.91h-1.42zM320.38 214.38h1.42v88.32h-1.42zM321.85 300.49h1.42v2.21h-1.42z"/>
</g>
<rect x="176.5" y="192.0" width="150.90" height="110.70" fill="none" stroke="#2b2b2b" stroke-width="1.1"/>
<line x1="173.30" y1="302.70" x2="176.50" y2="302.70" stroke="#3a3a3a" stroke-width="0.9"/>
<text x="170.50" y="304.60" font-size="7.2" fill="#2e2e2e" text-anchor="end" stroke="#2e2e2e" stroke-width="0.16" textLength="13.2" lengthAdjust="spacingAndGlyphs">0.00</text>
<line x1="173.30" y1="265.80" x2="176.50" y2="265.80" stroke="#3a3a3a" stroke-width="0.9"/>
<text x="170.50" y="267.70" font-size="7.2" fill="#2e2e2e" text-anchor="end" stroke="#2e2e2e" stroke-width="0.16" textLength="13.2" lengthAdjust="spacingAndGlyphs">0.03</text>
<line x1="173.30" y1="228.90" x2="176.50" y2="228.90" stroke="#3a3a3a" stroke-width="0.9"/>
<text x="170.50" y="230.80" font-size="7.2" fill="#2e2e2e" text-anchor="end" stroke="#2e2e2e" stroke-width="0.16" textLength="13.2" lengthAdjust="spacingAndGlyphs">0.07</text>
<line x1="173.30" y1="192.00" x2="176.50" y2="192.00" stroke="#3a3a3a" stroke-width="0.9"/>
<text x="170.50" y="193.90" font-size="7.2" fill="#2e2e2e" text-anchor="end" stroke="#2e2e2e" stroke-width="0.16" textLength="13.2" lengthAdjust="spacingAndGlyphs">0.10</text>
<path fill="#9a9a9a" opacity="0.55" d="M182.04 304.70h0.80v1.10h-0.80zM182.04 306.40h0.80v1.10h-0.80zM182.04 308.10h0.80v1.10h-0.80zM183.51 304.70h0.80v1.10h-0.80zM183.51 306.40h0.80v1.10h-0.80zM183.51 308.10h0.80v1.10h-0.80zM184.99 304.70h0.80v1.10h-0.80zM184.99 306.40h0.80v1.10h-0.80zM184.99 308.10h0.80v1.10h-0.80zM186.46 304.70h0.80v1.10h-0.80zM186.46 306.40h0.80v1.10h-0.80zM186.46 308.10h0.80v1.10h-0.80zM187.94 304.70h0.80v1.10h-0.80zM187.94 306.40h0.80v1.10h-0.80zM187.94 308.10h0.80v1.10h-0.80zM189.41 304.70h0.80v1.10h-0.80zM189.41 306.40h0.80v1.10h-0.80zM189.41 308.10h0.80v1.10h-0.80zM190.89 304.70h0.80v1.10h-0.80zM190.89 306.40h0.80v1.10h-0.80zM190.89 308.10h0.80v1.10h-0.80zM192.36 304.70h0.80v1.10h-0.80zM192.36 306.40h0.80v1.10h-0.80zM192.36 308.10h0.80v1.10h-0.80zM193.84 304.70h0.80v1.10h-0.80zM193.84 306.40h0.80v1.10h-0.80zM193.84 308.10h0.80v1.10h-0.80zM195.31 304.70h0.80v1.10h-0.80zM195.31 306.40h0.80v1.10h-0.80zM195.31 308.10h0.80v1.10h-0.80zM196.79 304.70h0.80v1.10h-0.80zM196.79 306.40h0.80v1.10h-0.80zM196.79 308.10h0.80v1.10h-0.80zM198.26 304.70h0.80v1.10h-0.80zM198.26 306.40h0.80v1.10h-0.80zM198.26 308.10h0.80v1.10h-0.80zM199.74 304.70h0.80v1.10h-0.80zM199.74 306.40h0.80v1.10h-0.80zM199.74 308.10h0.80v1.10h-0.80zM201.21 304.70h0.80v1.10h-0.80zM201.21 306.40h0.80v1.10h-0.80zM201.21 308.10h0.80v1.10h-0.80zM202.69 304.70h0.80v1.10h-0.80zM202.69 306.40h0.80v1.10h-0.80zM202.69 308.10h0.80v1.10h-0.80zM204.16 304.70h0.80v1.10h-0.80zM204.16 306.40h0.80v1.10h-0.80zM204.16 308.10h0.80v1.10h-0.80zM205.64 304.70h0.80v1.10h-0.80zM205.64 306.40h0.80v1.10h-0.80zM205.64 308.10h0.80v1.10h-0.80zM207.11 304.70h0.80v1.10h-0.80zM207.11 306.40h0.80v1.10h-0.80zM207.11 308.10h0.80v1.10h-0.80zM208.59 304.70h0.80v1.10h-0.80zM208.59 306.40h0.80v1.10h-0.80zM208.59 308.10h0.80v1.10h-0.80zM210.06 304.70h0.80v1.10h-0.80zM210.06 306.40h0.80v1.10h-0.80zM210.06 308.10h0.80v1.10h-0.80zM211.54 304.70h0.80v1.10h-0.80zM211.54 306.40h0.80v1.10h-0.80zM211.54 308.10h0.80v1.10h-0.80zM213.01 304.70h0.80v1.10h-0.80zM213.01 306.40h0.80v1.10h-0.80zM213.01 308.10h0.80v1.10h-0.80zM214.49 304.70h0.80v1.10h-0.80zM214.49 306.40h0.80v1.10h-0.80zM214.49 308.10h0.80v1.10h-0.80zM215.96 304.70h0.80v1.10h-0.80zM215.96 306.40h0.80v1.10h-0.80zM215.96 308.10h0.80v1.10h-0.80zM217.44 304.70h0.80v1.10h-0.80zM217.44 306.40h0.80v1.10h-0.80zM217.44 308.10h0.80v1.10h-0.80zM218.91 304.70h0.80v1.10h-0.80zM218.91 306.40h0.80v1.10h-0.80zM218.91 308.10h0.80v1.10h-0.80zM220.39 304.70h0.80v1.10h-0.80zM220.39 306.40h0.80v1.10h-0.80zM220.39 308.10h0.80v1.10h-0.80zM221.86 304.70h0.80v1.10h-0.80zM221.86 306.40h0.80v1.10h-0.80zM221.86 308.10h0.80v1.10h-0.80zM223.34 304.70h0.80v1.10h-0.80zM223.34 306.40h0.80v1.10h-0.80zM223.34 308.10h0.80v1.10h-0.80zM224.81 304.70h0.80v1.10h-0.80zM224.81 306.40h0.80v1.10h-0.80zM224.81 308.10h0.80v1.10h-0.80zM226.29 304.70h0.80v1.10h-0.80zM226.29 306.40h0.80v1.10h-0.80zM226.29 308.10h0.80v1.10h-0.80zM227.76 304.70h0.80v1.10h-0.80zM227.76 306.40h0.80v1.10h-0.80zM227.76 308.10h0.80v1.10h-0.80zM229.24 304.70h0.80v1.10h-0.80zM229.24 306.40h0.80v1.10h-0.80zM229.24 308.10h0.80v1.10h-0.80zM230.71 304.70h0.80v1.10h-0.80zM230.71 306.40h0.80v1.10h-0.80zM230.71 308.10h0.80v1.10h-0.80zM232.19 304.70h0.80v1.10h-0.80zM232.19 306.40h0.80v1.10h-0.80zM232.19 308.10h0.80v1.10h-0.80zM233.66 304.70h0.80v1.10h-0.80zM233.66 306.40h0.80v1.10h-0.80zM233.66 308.10h0.80v1.10h-0.80zM235.14 304.70h0.80v1.10h-0.80zM235.14 306.40h0.80v1.10h-0.80zM235.14 308.10h0.80v1.10h-0.80zM236.61 304.70h0.80v1.10h-0.80zM236.61 306.40h0.80v1.10h-0.80zM236.61 308.10h0.80v1.10h-0.80zM238.09 304.70h0.80v1.10h-0.80zM238.09 306.40h0.80v1.10h-0.80zM238.09 308.10h0.80v1.10h-0.80zM239.56 304.70h0.80v1.10h-0.80zM239.56 306.40h0.80v1.10h-0.80zM239.56 308.10h0.80v1.10h-0.80zM241.04 304.70h0.80v1.10h-0.80zM241.04 306.40h0.80v1.10h-0.80zM241.04 308.10h0.80v1.10h-0.80zM242.51 304.70h0.80v1.10h-0.80zM242.51 306.40h0.80v1.10h-0.80zM242.51 308.10h0.80v1.10h-0.80zM243.99 304.70h0.80v1.10h-0.80zM243.99 306.40h0.80v1.10h-0.80zM243.99 308.10h0.80v1.10h-0.80zM245.46 304.70h0.80v1.10h-0.80zM245.46 306.40h0.80v1.10h-0.80zM245.46 308.10h0.80v1.10h-0.80zM246.94 304.70h0.80v1.10h-0.80zM246.94 306.40h0.80v1.10h-0.80zM246.94 308.10h0.80v1.10h-0.80zM248.41 304.70h0.80v1.10h-0.80zM248.41 306.40h0.80v1.10h-0.80zM248.41 308.10h0.80v1.10h-0.80zM249.89 304.70h0.80v1.10h-0.80zM249.89 306.40h0.80v1.10h-0.80zM249.89 308.10h0.80v1.10h-0.80zM251.36 304.70h0.80v1.10h-0.80zM251.36 306.40h0.80v1.10h-0.80zM251.36 308.10h0.80v1.10h-0.80zM252.84 304.70h0.80v1.10h-0.80zM252.84 306.40h0.80v1.10h-0.80zM252.84 308.10h0.80v1.10h-0.80zM254.31 304.70h0.80v1.10h-0.80zM254.31 306.40h0.80v1.10h-0.80zM254.31 308.10h0.80v1.10h-0.80zM255.79 304.70h0.80v1.10h-0.80zM255.79 306.40h0.80v1.10h-0.80zM255.79 308.10h0.80v1.10h-0.80zM257.26 304.70h0.80v1.10h-0.80zM257.26 306.40h0.80v1.10h-0.80zM257.26 308.10h0.80v1.10h-0.80zM258.74 304.70h0.80v1.10h-0.80zM258.74 306.40h0.80v1.10h-0.80zM258.74 308.10h0.80v1.10h-0.80zM260.21 304.70h0.80v1.10h-0.80zM260.21 306.40h0.80v1.10h-0.80zM260.21 308.10h0.80v1.10h-0.80zM261.69 304.70h0.80v1.10h-0.80zM261.69 306.40h0.80v1.10h-0.80zM261.69 308.10h0.80v1.10h-0.80zM263.16 304.70h0.80v1.10h-0.80zM263.16 306.40h0.80v1.10h-0.80zM263.16 308.10h0.80v1.10h-0.80zM264.64 304.70h0.80v1.10h-0.80zM264.64 306.40h0.80v1.10h-0.80zM264.64 308.10h0.80v1.10h-0.80zM266.11 304.70h0.80v1.10h-0.80zM266.11 306.40h0.80v1.10h-0.80zM266.11 308.10h0.80v1.10h-0.80zM267.59 304.70h0.80v1.10h-0.80zM267.59 306.40h0.80v1.10h-0.80zM267.59 308.10h0.80v1.10h-0.80zM269.06 304.70h0.80v1.10h-0.80zM269.06 306.40h0.80v1.10h-0.80zM269.06 308.10h0.80v1.10h-0.80zM270.54 304.70h0.80v1.10h-0.80zM270.54 306.40h0.80v1.10h-0.80zM270.54 308.10h0.80v1.10h-0.80zM272.01 304.70h0.80v1.10h-0.80zM272.01 306.40h0.80v1.10h-0.80zM272.01 308.10h0.80v1.10h-0.80zM273.49 304.70h0.80v1.10h-0.80zM273.49 306.40h0.80v1.10h-0.80zM273.49 308.10h0.80v1.10h-0.80zM274.96 304.70h0.80v1.10h-0.80zM274.96 306.40h0.80v1.10h-0.80zM274.96 308.10h0.80v1.10h-0.80zM276.44 304.70h0.80v1.10h-0.80zM276.44 306.40h0.80v1.10h-0.80zM276.44 308.10h0.80v1.10h-0.80zM277.91 304.70h0.80v1.10h-0.80zM277.91 306.40h0.80v1.10h-0.80zM277.91 308.10h0.80v1.10h-0.80zM279.39 304.70h0.80v1.10h-0.80zM279.39 306.40h0.80v1.10h-0.80zM279.39 308.10h0.80v1.10h-0.80zM280.86 304.70h0.80v1.10h-0.80zM280.86 306.40h0.80v1.10h-0.80zM280.86 308.10h0.80v1.10h-0.80zM282.34 304.70h0.80v1.10h-0.80zM282.34 306.40h0.80v1.10h-0.80zM282.34 308.10h0.80v1.10h-0.80zM283.81 304.70h0.80v1.10h-0.80zM283.81 306.40h0.80v1.10h-0.80zM283.81 308.10h0.80v1.10h-0.80zM285.29 304.70h0.80v1.10h-0.80zM285.29 306.40h0.80v1.10h-0.80zM285.29 308.10h0.80v1.10h-0.80zM286.76 304.70h0.80v1.10h-0.80zM286.76 306.40h0.80v1.10h-0.80zM286.76 308.10h0.80v1.10h-0.80zM288.24 304.70h0.80v1.10h-0.80zM288.24 306.40h0.80v1.10h-0.80zM288.24 308.10h0.80v1.10h-0.80zM289.71 304.70h0.80v1.10h-0.80zM289.71 306.40h0.80v1.10h-0.80zM289.71 308.10h0.80v1.10h-0.80zM291.19 304.70h0.80v1.10h-0.80zM291.19 306.40h0.80v1.10h-0.80zM291.19 308.10h0.80v1.10h-0.80zM292.66 304.70h0.80v1.10h-0.80zM292.66 306.40h0.80v1.10h-0.80zM292.66 308.10h0.80v1.10h-0.80zM294.14 304.70h0.80v1.10h-0.80zM294.14 306.40h0.80v1.10h-0.80zM294.14 308.10h0.80v1.10h-0.80zM295.61 304.70h0.80v1.10h-0.80zM295.61 306.40h0.80v1.10h-0.80zM295.61 308.10h0.80v1.10h-0.80zM297.09 304.70h0.80v1.10h-0.80zM297.09 306.40h0.80v1.10h-0.80zM297.09 308.10h0.80v1.10h-0.80zM298.56 304.70h0.80v1.10h-0.80zM298.56 306.40h0.80v1.10h-0.80zM298.56 308.10h0.80v1.10h-0.80zM300.04 304.70h0.80v1.10h-0.80zM300.04 306.40h0.80v1.10h-0.80zM300.04 308.10h0.80v1.10h-0.80zM301.51 304.70h0.80v1.10h-0.80zM301.51 306.40h0.80v1.10h-0.80zM301.51 308.10h0.80v1.10h-0.80zM302.99 304.70h0.80v1.10h-0.80zM302.99 306.40h0.80v1.10h-0.80zM302.99 308.10h0.80v1.10h-0.80zM304.46 304.70h0.80v1.10h-0.80zM304.46 306.40h0.80v1.10h-0.80zM304.46 308.10h0.80v1.10h-0.80zM305.94 304.70h0.80v1.10h-0.80zM305.94 306.40h0.80v1.10h-0.80zM305.94 308.10h0.80v1.10h-0.80zM307.41 304.70h0.80v1.10h-0.80zM307.41 306.40h0.80v1.10h-0.80zM307.41 308.10h0.80v1.10h-0.80zM308.89 304.70h0.80v1.10h-0.80zM308.89 306.40h0.80v1.10h-0.80zM308.89 308.10h0.80v1.10h-0.80zM310.36 304.70h0.80v1.10h-0.80zM310.36 306.40h0.80v1.10h-0.80zM310.36 308.10h0.80v1.10h-0.80zM311.84 304.70h0.80v1.10h-0.80zM311.84 306.40h0.80v1.10h-0.80zM311.84 308.10h0.80v1.10h-0.80zM313.31 304.70h0.80v1.10h-0.80zM313.31 306.40h0.80v1.10h-0.80zM313.31 308.10h0.80v1.10h-0.80zM314.79 304.70h0.80v1.10h-0.80zM314.79 306.40h0.80v1.10h-0.80zM314.79 308.10h0.80v1.10h-0.80zM316.26 304.70h0.80v1.10h-0.80zM316.26 306.40h0.80v1.10h-0.80zM316.26 308.10h0.80v1.10h-0.80zM317.74 304.70h0.80v1.10h-0.80zM317.74 306.40h0.80v1.10h-0.80zM317.74 308.10h0.80v1.10h-0.80zM319.21 304.70h0.80v1.10h-0.80zM319.21 306.40h0.80v1.10h-0.80zM319.21 308.10h0.80v1.10h-0.80zM320.69 304.70h0.80v1.10h-0.80zM320.69 306.40h0.80v1.10h-0.80zM320.69 308.10h0.80v1.10h-0.80zM322.16 304.70h0.80v1.10h-0.80zM322.16 306.40h0.80v1.10h-0.80zM322.16 308.10h0.80v1.10h-0.80z"/>
<text x="193.50" y="317.90" font-size="6.6" fill="#7cbfe3" text-anchor="middle" stroke="#7cbfe3" stroke-width="0.16" textLength="13.5" lengthAdjust="spacingAndGlyphs">C&gt;A</text>
<text x="217.10" y="317.90" font-size="6.6" fill="#2f5a8c" text-anchor="middle" stroke="#2f5a8c" stroke-width="0.16" textLength="13.5" lengthAdjust="spacingAndGlyphs">C&gt;G</text>
<text x="240.70" y="317.90" font-size="6.6" fill="#c8304e" text-anchor="middle" stroke="#c8304e" stroke-width="0.16" textLength="13.5" lengthAdjust="spacingAndGlyphs">C&gt;T</text>
<text x="264.30" y="317.90" font-size="6.6" fill="#a3a3bc" text-anchor="middle" stroke="#a3a3bc" stroke-width="0.16" textLength="13.5" lengthAdjust="spacingAndGlyphs">T&gt;A</text>
<text x="287.90" y="317.90" font-size="6.6" fill="#55b04c" text-anchor="middle" stroke="#55b04c" stroke-width="0.16" textLength="13.5" lengthAdjust="spacingAndGlyphs">T&gt;C</text>
<text x="311.50" y="317.90" font-size="6.6" fill="#d8338f" text-anchor="middle" stroke="#d8338f" stroke-width="0.16" textLength="13.5" lengthAdjust="spacingAndGlyphs">T&gt;G</text>
<text x="251.95" y="330.10" font-size="8.2" fill="#2e2e2e" text-anchor="middle" stroke="#2e2e2e" stroke-width="0.16" textLength="51" lengthAdjust="spacingAndGlyphs">Sequence motifs</text>
<text x="251.95" y="187.20" font-size="9.0" fill="#2a2a2a" text-anchor="middle" stroke="#2a2a2a" stroke-width="0.16" textLength="29.4" lengthAdjust="spacingAndGlyphs">Sign.01</text>
<text x="152.50" y="246.15" font-size="8.4" fill="#2e2e2e" text-anchor="middle" stroke="#2e2e2e" stroke-width="0.16" textLength="58.2" lengthAdjust="spacingAndGlyphs" transform="rotate(-90 152.50 246.15)">Fraction of variants</text>
<clipPath id="cp361192"><rect x="361.9" y="192.0" width="151.0" height="110.69999999999999"/></clipPath>
<g clip-path="url(#cp361192)">
<path fill="#46aee0" d="M367.13 297.18h1.42v5.52h-1.42zM368.60 281.72h1.42v20.98h-1.42zM370.08 298.28h1.42v4.42h-1.42zM371.55 300.49h1.42v2.21h-1.42zM374.50 298.28h1.42v4.42h-1.42zM375.98 289.78h1.42v12.92h-1.42zM377.45 289.78h1.42v12.92h-1.42zM380.40 289.78h1.42v12.92h-1.42zM381.88 299.39h1.42v3.31h-1.42zM383.35 300.49h1.42v2.21h-1.42zM384.83 300.49h1.42v2.21h-1.42zM387.78 292.76h1.42v9.94h-1.42zM389.25 301.60h1.42v1.10h-1.42z"/>
<path fill="#244f7e" d="M390.73 301.60h1.42v1.10h-1.42zM392.20 298.28h1.42v4.42h-1.42zM393.68 294.42h1.42v8.28h-1.42zM396.63 281.72h1.42v20.98h-1.42zM398.10 300.49h1.42v2.21h-1.42zM399.58 300.49h1.42v2.21h-1.42zM401.05 289.78h1.42v12.92h-1.42zM402.53 282.83h1.42v19.87h-1.42zM404.00 299.39h1.42v3.31h-1.42zM405.48 294.97h1.42v7.73h-1.42zM406.95 289.45h1.42v13.25h-1.42zM409.90 301.60h1.42v1.10h-1.42zM411.38 298.28h1.42v4.42h-1.42zM412.85 300.49h1.42v2.21h-1.42z"/>
<path fill="#c21a3c" d="M414.33 296.08h1.42v6.62h-1.42zM415.80 269.58h1.42v33.12h-1.42zM417.28 253.02h1.42v49.68h-1.42zM418.75 261.85h1.42v40.85h-1.42zM420.23 266.27h1.42v36.43h-1.42zM421.70 267.37h1.42v35.33h-1.42zM423.18 238.67h1.42v64.03h-1.42zM424.65 288.35h1.42v14.35h-1.42zM426.13 288.35h1.42v14.35h-1.42zM427.60 283.93h1.42v18.77h-1.42zM429.08 240.88h1.42v61.82h-1.42zM430.55 264.06h1.42v38.64h-1.42zM432.03 300.49h1.42v2.21h-1.42zM433.50 271.79h1.42v30.91h-1.42zM434.98 288.35h1.42v14.35h-1.42zM436.45 300.49h1.42v2.21h-1.42z"/>
<path fill="#9d95c8" d="M439.40 301.60h1.42v1.10h-1.42zM442.35 299.39h1.42v3.31h-1.42zM445.30 281.72h1.42v20.98h-1.42zM446.78 299.39h1.42v3.31h-1.42zM448.25 301.60h1.42v1.10h-1.42zM449.73 297.18h1.42v5.52h-1.42zM451.20 294.97h1.42v7.73h-1.42zM452.68 297.18h1.42v5.52h-1.42zM455.63 301.60h1.42v1.10h-1.42zM458.58 300.49h1.42v2.21h-1.42z"/>
<path fill="#48b040" d="M461.53 283.93h1.42v18.77h-1.42zM463.00 299.39h1.42v3.31h-1.42zM464.48 261.85h1.42v40.85h-1.42zM465.95 279.52h1.42v23.18h-1.42zM467.43 299.39h1.42v3.31h-1.42zM468.90 258.54h1.42v44.16h-1.42zM470.38 270.68h1.42v32.02h-1.42zM471.85 281.72h1.42v20.98h-1.42zM473.33 293.87h1.42v8.83h-1.42zM474.80 300.49h1.42v2.21h-1.42zM476.28 280.62h1.42v22.08h-1.42zM477.75 283.93h1.42v18.77h-1.42zM479.23 299.39h1.42v3.31h-1.42zM480.70 296.08h1.42v6.62h-1.42zM482.18 293.87h1.42v8.83h-1.42zM483.65 293.87h1.42v8.83h-1.42z"/>
<path fill="#e0228a" d="M488.08 301.60h1.42v1.10h-1.42zM491.03 296.08h1.42v6.62h-1.42zM492.50 299.39h1.42v3.31h-1.42zM493.98 298.28h1.42v4.42h-1.42zM496.93 301.60h1.42v1.10h-1.42zM499.88 267.37h1.42v35.33h-1.42zM501.35 298.28h1.42v4.42h-1.42zM502.83 301.60h1.42v1.10h-1.42zM504.30 298.28h1.42v4.42h-1.42zM505.78 301.60h1.42v1.10h-1.42z"/>
</g>
<rect x="361.9" y="192.0" width="151.00" height="110.70" fill="none" stroke="#2b2b2b" stroke-width="1.1"/>
<line x1="358.70" y1="302.70" x2="361.90" y2="302.70" stroke="#3a3a3a" stroke-width="0.9"/>
<text x="355.90" y="304.60" font-size="7.2" fill="#2e2e2e" text-anchor="end" stroke="#2e2e2e" stroke-width="0.16" textLength="13.2" lengthAdjust="spacingAndGlyphs">0.00</text>
<line x1="358.70" y1="265.80" x2="361.90" y2="265.80" stroke="#3a3a3a" stroke-width="0.9"/>
<text x="355.90" y="267.70" font-size="7.2" fill="#2e2e2e" text-anchor="end" stroke="#2e2e2e" stroke-width="0.16" textLength="13.2" lengthAdjust="spacingAndGlyphs">0.03</text>
<line x1="358.70" y1="228.90" x2="361.90" y2="228.90" stroke="#3a3a3a" stroke-width="0.9"/>
<text x="355.90" y="230.80" font-size="7.2" fill="#2e2e2e" text-anchor="end" stroke="#2e2e2e" stroke-width="0.16" textLength="13.2" lengthAdjust="spacingAndGlyphs">0.07</text>
<line x1="358.70" y1="192.00" x2="361.90" y2="192.00" stroke="#3a3a3a" stroke-width="0.9"/>
<text x="355.90" y="193.90" font-size="7.2" fill="#2e2e2e" text-anchor="end" stroke="#2e2e2e" stroke-width="0.16" textLength="13.2" lengthAdjust="spacingAndGlyphs">0.10</text>
<path fill="#9a9a9a" opacity="0.55" d="M367.44 304.70h0.80v1.10h-0.80zM367.44 306.40h0.80v1.10h-0.80zM367.44 308.10h0.80v1.10h-0.80zM368.91 304.70h0.80v1.10h-0.80zM368.91 306.40h0.80v1.10h-0.80zM368.91 308.10h0.80v1.10h-0.80zM370.39 304.70h0.80v1.10h-0.80zM370.39 306.40h0.80v1.10h-0.80zM370.39 308.10h0.80v1.10h-0.80zM371.86 304.70h0.80v1.10h-0.80zM371.86 306.40h0.80v1.10h-0.80zM371.86 308.10h0.80v1.10h-0.80zM373.34 304.70h0.80v1.10h-0.80zM373.34 306.40h0.80v1.10h-0.80zM373.34 308.10h0.80v1.10h-0.80zM374.81 304.70h0.80v1.10h-0.80zM374.81 306.40h0.80v1.10h-0.80zM374.81 308.10h0.80v1.10h-0.80zM376.29 304.70h0.80v1.10h-0.80zM376.29 306.40h0.80v1.10h-0.80zM376.29 308.10h0.80v1.10h-0.80zM377.76 304.70h0.80v1.10h-0.80zM377.76 306.40h0.80v1.10h-0.80zM377.76 308.10h0.80v1.10h-0.80zM379.24 304.70h0.80v1.10h-0.80zM379.24 306.40h0.80v1.10h-0.80zM379.24 308.10h0.80v1.10h-0.80zM380.71 304.70h0.80v1.10h-0.80zM380.71 306.40h0.80v1.10h-0.80zM380.71 308.10h0.80v1.10h-0.80zM382.19 304.70h0.80v1.10h-0.80zM382.19 306.40h0.80v1.10h-0.80zM382.19 308.10h0.80v1.10h-0.80zM383.66 304.70h0.80v1.10h-0.80zM383.66 306.40h0.80v1.10h-0.80zM383.66 308.10h0.80v1.10h-0.80zM385.14 304.70h0.80v1.10h-0.80zM385.14 306.40h0.80v1.10h-0.80zM385.14 308.10h0.80v1.10h-0.80zM386.61 304.70h0.80v1.10h-0.80zM386.61 306.40h0.80v1.10h-0.80zM386.61 308.10h0.80v1.10h-0.80zM388.09 304.70h0.80v1.10h-0.80zM388.09 306.40h0.80v1.10h-0.80zM388.09 308.10h0.80v1.10h-0.80zM389.56 304.70h0.80v1.10h-0.80zM389.56 306.40h0.80v1.10h-0.80zM389.56 308.10h0.80v1.10h-0.80zM391.04 304.70h0.80v1.10h-0.80zM391.04 306.40h0.80v1.10h-0.80zM391.04 308.10h0.80v1.10h-0.80zM392.51 304.70h0.80v1.10h-0.80zM392.51 306.40h0.80v1.10h-0.80zM392.51 308.10h0.80v1.10h-0.80zM393.99 304.70h0.80v1.10h-0.80zM393.99 306.40h0.80v1.10h-0.80zM393.99 308.10h0.80v1.10h-0.80zM395.46 304.70h0.80v1.10h-0.80zM395.46 306.40h0.80v1.10h-0.80zM395.46 308.10h0.80v1.10h-0.80zM396.94 304.70h0.80v1.10h-0.80zM396.94 306.40h0.80v1.10h-0.80zM396.94 308.10h0.80v1.10h-0.80zM398.41 304.70h0.80v1.10h-0.80zM398.41 306.40h0.80v1.10h-0.80zM398.41 308.10h0.80v1.10h-0.80zM399.89 304.70h0.80v1.10h-0.80zM399.89 306.40h0.80v1.10h-0.80zM399.89 308.10h0.80v1.10h-0.80zM401.36 304.70h0.80v1.10h-0.80zM401.36 306.40h0.80v1.10h-0.80zM401.36 308.10h0.80v1.10h-0.80zM402.84 304.70h0.80v1.10h-0.80zM402.84 306.40h0.80v1.10h-0.80zM402.84 308.10h0.80v1.10h-0.80zM404.31 304.70h0.80v1.10h-0.80zM404.31 306.40h0.80v1.10h-0.80zM404.31 308.10h0.80v1.10h-0.80zM405.79 304.70h0.80v1.10h-0.80zM405.79 306.40h0.80v1.10h-0.80zM405.79 308.10h0.80v1.10h-0.80zM407.26 304.70h0.80v1.10h-0.80zM407.26 306.40h0.80v1.10h-0.80zM407.26 308.10h0.80v1.10h-0.80zM408.74 304.70h0.80v1.10h-0.80zM408.74 306.40h0.80v1.10h-0.80zM408.74 308.10h0.80v1.10h-0.80zM410.21 304.70h0.80v1.10h-0.80zM410.21 306.40h0.80v1.10h-0.80zM410.21 308.10h0.80v1.10h-0.80zM411.69 304.70h0.80v1.10h-0.80zM411.69 306.40h0.80v1.10h-0.80zM411.69 308.10h0.80v1.10h-0.80zM413.16 304.70h0.80v1.10h-0.80zM413.16 306.40h0.80v1.10h-0.80zM413.16 308.10h0.80v1.10h-0.80zM414.64 304.70h0.80v1.10h-0.80zM414.64 306.40h0.80v1.10h-0.80zM414.64 308.10h0.80v1.10h-0.80zM416.11 304.70h0.80v1.10h-0.80zM416.11 306.40h0.80v1.10h-0.80zM416.11 308.10h0.80v1.10h-0.80zM417.59 304.70h0.80v1.10h-0.80zM417.59 306.40h0.80v1.10h-0.80zM417.59 308.10h0.80v1.10h-0.80zM419.06 304.70h0.80v1.10h-0.80zM419.06 306.40h0.80v1.10h-0.80zM419.06 308.10h0.80v1.10h-0.80zM420.54 304.70h0.80v1.10h-0.80zM420.54 306.40h0.80v1.10h-0.80zM420.54 308.10h0.80v1.10h-0.80zM422.01 304.70h0.80v1.10h-0.80zM422.01 306.40h0.80v1.10h-0.80zM422.01 308.10h0.80v1.10h-0.80zM423.49 304.70h0.80v1.10h-0.80zM423.49 306.40h0.80v1.10h-0.80zM423.49 308.10h0.80v1.10h-0.80zM424.96 304.70h0.80v1.10h-0.80zM424.96 306.40h0.80v1.10h-0.80zM424.96 308.10h0.80v1.10h-0.80zM426.44 304.70h0.80v1.10h-0.80zM426.44 306.40h0.80v1.10h-0.80zM426.44 308.10h0.80v1.10h-0.80zM427.91 304.70h0.80v1.10h-0.80zM427.91 306.40h0.80v1.10h-0.80zM427.91 308.10h0.80v1.10h-0.80zM429.39 304.70h0.80v1.10h-0.80zM429.39 306.40h0.80v1.10h-0.80zM429.39 308.10h0.80v1.10h-0.80zM430.86 304.70h0.80v1.10h-0.80zM430.86 306.40h0.80v1.10h-0.80zM430.86 308.10h0.80v1.10h-0.80zM432.34 304.70h0.80v1.10h-0.80zM432.34 306.40h0.80v1.10h-0.80zM432.34 308.10h0.80v1.10h-0.80zM433.81 304.70h0.80v1.10h-0.80zM433.81 306.40h0.80v1.10h-0.80zM433.81 308.10h0.80v1.10h-0.80zM435.29 304.70h0.80v1.10h-0.80zM435.29 306.40h0.80v1.10h-0.80zM435.29 308.10h0.80v1.10h-0.80zM436.76 304.70h0.80v1.10h-0.80zM436.76 306.40h0.80v1.10h-0.80zM436.76 308.10h0.80v1.10h-0.80zM438.24 304.70h0.80v1.10h-0.80zM438.24 306.40h0.80v1.10h-0.80zM438.24 308.10h0.80v1.10h-0.80zM439.71 304.70h0.80v1.10h-0.80zM439.71 306.40h0.80v1.10h-0.80zM439.71 308.10h0.80v1.10h-0.80zM441.19 304.70h0.80v1.10h-0.80zM441.19 306.40h0.80v1.10h-0.80zM441.19 308.10h0.80v1.10h-0.80zM442.66 304.70h0.80v1.10h-0.80zM442.66 306.40h0.80v1.10h-0.80zM442.66 308.10h0.80v1.10h-0.80zM444.14 304.70h0.80v1.10h-0.80zM444.14 306.40h0.80v1.10h-0.80zM444.14 308.10h0.80v1.10h-0.80zM445.61 304.70h0.80v1.10h-0.80zM445.61 306.40h0.80v1.10h-0.80zM445.61 308.10h0.80v1.10h-0.80zM447.09 304.70h0.80v1.10h-0.80zM447.09 306.40h0.80v1.10h-0.80zM447.09 308.10h0.80v1.10h-0.80zM448.56 304.70h0.80v1.10h-0.80zM448.56 306.40h0.80v1.10h-0.80zM448.56 308.10h0.80v1.10h-0.80zM450.04 304.70h0.80v1.10h-0.80zM450.04 306.40h0.80v1.10h-0.80zM450.04 308.10h0.80v1.10h-0.80zM451.51 304.70h0.80v1.10h-0.80zM451.51 306.40h0.80v1.10h-0.80zM451.51 308.10h0.80v1.10h-0.80zM452.99 304.70h0.80v1.10h-0.80zM452.99 306.40h0.80v1.10h-0.80zM452.99 308.10h0.80v1.10h-0.80zM454.46 304.70h0.80v1.10h-0.80zM454.46 306.40h0.80v1.10h-0.80zM454.46 308.10h0.80v1.10h-0.80zM455.94 304.70h0.80v1.10h-0.80zM455.94 306.40h0.80v1.10h-0.80zM455.94 308.10h0.80v1.10h-0.80zM457.41 304.70h0.80v1.10h-0.80zM457.41 306.40h0.80v1.10h-0.80zM457.41 308.10h0.80v1.10h-0.80zM458.89 304.70h0.80v1.10h-0.80zM458.89 306.40h0.80v1.10h-0.80zM458.89 308.10h0.80v1.10h-0.80zM460.36 304.70h0.80v1.10h-0.80zM460.36 306.40h0.80v1.10h-0.80zM460.36 308.10h0.80v1.10h-0.80zM461.84 304.70h0.80v1.10h-0.80zM461.84 306.40h0.80v1.10h-0.80zM461.84 308.10h0.80v1.10h-0.80zM463.31 304.70h0.80v1.10h-0.80zM463.31 306.40h0.80v1.10h-0.80zM463.31 308.10h0.80v1.10h-0.80zM464.79 304.70h0.80v1.10h-0.80zM464.79 306.40h0.80v1.10h-0.80zM464.79 308.10h0.80v1.10h-0.80zM466.26 304.70h0.80v1.10h-0.80zM466.26 306.40h0.80v1.10h-0.80zM466.26 308.10h0.80v1.10h-0.80zM467.74 304.70h0.80v1.10h-0.80zM467.74 306.40h0.80v1.10h-0.80zM467.74 308.10h0.80v1.10h-0.80zM469.21 304.70h0.80v1.10h-0.80zM469.21 306.40h0.80v1.10h-0.80zM469.21 308.10h0.80v1.10h-0.80zM470.69 304.70h0.80v1.10h-0.80zM470.69 306.40h0.80v1.10h-0.80zM470.69 308.10h0.80v1.10h-0.80zM472.16 304.70h0.80v1.10h-0.80zM472.16 306.40h0.80v1.10h-0.80zM472.16 308.10h0.80v1.10h-0.80zM473.64 304.70h0.80v1.10h-0.80zM473.64 306.40h0.80v1.10h-0.80zM473.64 308.10h0.80v1.10h-0.80zM475.11 304.70h0.80v1.10h-0.80zM475.11 306.40h0.80v1.10h-0.80zM475.11 308.10h0.80v1.10h-0.80zM476.59 304.70h0.80v1.10h-0.80zM476.59 306.40h0.80v1.10h-0.80zM476.59 308.10h0.80v1.10h-0.80zM478.06 304.70h0.80v1.10h-0.80zM478.06 306.40h0.80v1.10h-0.80zM478.06 308.10h0.80v1.10h-0.80zM479.54 304.70h0.80v1.10h-0.80zM479.54 306.40h0.80v1.10h-0.80zM479.54 308.10h0.80v1.10h-0.80zM481.01 304.70h0.80v1.10h-0.80zM481.01 306.40h0.80v1.10h-0.80zM481.01 308.10h0.80v1.10h-0.80zM482.49 304.70h0.80v1.10h-0.80zM482.49 306.40h0.80v1.10h-0.80zM482.49 308.10h0.80v1.10h-0.80zM483.96 304.70h0.80v1.10h-0.80zM483.96 306.40h0.80v1.10h-0.80zM483.96 308.10h0.80v1.10h-0.80zM485.44 304.70h0.80v1.10h-0.80zM485.44 306.40h0.80v1.10h-0.80zM485.44 308.10h0.80v1.10h-0.80zM486.91 304.70h0.80v1.10h-0.80zM486.91 306.40h0.80v1.10h-0.80zM486.91 308.10h0.80v1.10h-0.80zM488.39 304.70h0.80v1.10h-0.80zM488.39 306.40h0.80v1.10h-0.80zM488.39 308.10h0.80v1.10h-0.80zM489.86 304.70h0.80v1.10h-0.80zM489.86 306.40h0.80v1.10h-0.80zM489.86 308.10h0.80v1.10h-0.80zM491.34 304.70h0.80v1.10h-0.80zM491.34 306.40h0.80v1.10h-0.80zM491.34 308.10h0.80v1.10h-0.80zM492.81 304.70h0.80v1.10h-0.80zM492.81 306.40h0.80v1.10h-0.80zM492.81 308.10h0.80v1.10h-0.80zM494.29 304.70h0.80v1.10h-0.80zM494.29 306.40h0.80v1.10h-0.80zM494.29 308.10h0.80v1.10h-0.80zM495.76 304.70h0.80v1.10h-0.80zM495.76 306.40h0.80v1.10h-0.80zM495.76 308.10h0.80v1.10h-0.80zM497.24 304.70h0.80v1.10h-0.80zM497.24 306.40h0.80v1.10h-0.80zM497.24 308.10h0.80v1.10h-0.80zM498.71 304.70h0.80v1.10h-0.80zM498.71 306.40h0.80v1.10h-0.80zM498.71 308.10h0.80v1.10h-0.80zM500.19 304.70h0.80v1.10h-0.80zM500.19 306.40h0.80v1.10h-0.80zM500.19 308.10h0.80v1.10h-0.80zM501.66 304.70h0.80v1.10h-0.80zM501.66 306.40h0.80v1.10h-0.80zM501.66 308.10h0.80v1.10h-0.80zM503.14 304.70h0.80v1.10h-0.80zM503.14 306.40h0.80v1.10h-0.80zM503.14 308.10h0.80v1.10h-0.80zM504.61 304.70h0.80v1.10h-0.80zM504.61 306.40h0.80v1.10h-0.80zM504.61 308.10h0.80v1.10h-0.80zM506.09 304.70h0.80v1.10h-0.80zM506.09 306.40h0.80v1.10h-0.80zM506.09 308.10h0.80v1.10h-0.80zM507.56 304.70h0.80v1.10h-0.80zM507.56 306.40h0.80v1.10h-0.80zM507.56 308.10h0.80v1.10h-0.80z"/>
<text x="378.90" y="317.90" font-size="6.6" fill="#7cbfe3" text-anchor="middle" stroke="#7cbfe3" stroke-width="0.16" textLength="13.5" lengthAdjust="spacingAndGlyphs">C&gt;A</text>
<text x="402.50" y="317.90" font-size="6.6" fill="#2f5a8c" text-anchor="middle" stroke="#2f5a8c" stroke-width="0.16" textLength="13.5" lengthAdjust="spacingAndGlyphs">C&gt;G</text>
<text x="426.10" y="317.90" font-size="6.6" fill="#c8304e" text-anchor="middle" stroke="#c8304e" stroke-width="0.16" textLength="13.5" lengthAdjust="spacingAndGlyphs">C&gt;T</text>
<text x="449.70" y="317.90" font-size="6.6" fill="#a3a3bc" text-anchor="middle" stroke="#a3a3bc" stroke-width="0.16" textLength="13.5" lengthAdjust="spacingAndGlyphs">T&gt;A</text>
<text x="473.30" y="317.90" font-size="6.6" fill="#55b04c" text-anchor="middle" stroke="#55b04c" stroke-width="0.16" textLength="13.5" lengthAdjust="spacingAndGlyphs">T&gt;C</text>
<text x="496.90" y="317.90" font-size="6.6" fill="#d8338f" text-anchor="middle" stroke="#d8338f" stroke-width="0.16" textLength="13.5" lengthAdjust="spacingAndGlyphs">T&gt;G</text>
<text x="437.40" y="330.10" font-size="8.2" fill="#2e2e2e" text-anchor="middle" stroke="#2e2e2e" stroke-width="0.16" textLength="51" lengthAdjust="spacingAndGlyphs">Sequence motifs</text>
<text x="437.40" y="187.20" font-size="9.0" fill="#2a2a2a" text-anchor="middle" stroke="#2a2a2a" stroke-width="0.16" textLength="29.4" lengthAdjust="spacingAndGlyphs">Sign.02</text>
<text x="337.90" y="246.15" font-size="8.4" fill="#2e2e2e" text-anchor="middle" stroke="#2e2e2e" stroke-width="0.16" textLength="58.2" lengthAdjust="spacingAndGlyphs" transform="rotate(-90 337.90 246.15)">Fraction of variants</text>
<clipPath id="cp176350"><rect x="176.5" y="350.1" width="150.89999999999998" height="110.5"/></clipPath>
<g clip-path="url(#cp176350)">
<path fill="#46aee0" d="M181.73 457.29h1.42v3.31h-1.42zM183.20 458.39h1.42v2.21h-1.42zM184.68 459.50h1.42v1.10h-1.42zM186.15 450.66h1.42v9.94h-1.42zM187.63 458.39h1.42v2.21h-1.42zM189.10 456.18h1.42v4.42h-1.42zM190.58 456.18h1.42v4.42h-1.42zM192.05 458.39h1.42v2.21h-1.42zM193.53 448.46h1.42v12.14h-1.42zM195.00 456.18h1.42v4.42h-1.42zM196.48 457.29h1.42v3.31h-1.42zM197.95 453.98h1.42v6.62h-1.42zM199.43 450.66h1.42v9.94h-1.42zM200.90 458.39h1.42v2.21h-1.42zM202.38 455.08h1.42v5.52h-1.42zM203.85 459.50h1.42v1.10h-1.42z"/>
<path fill="#244f7e" d="M205.33 448.46h1.42v12.14h-1.42zM206.80 450.66h1.42v9.94h-1.42zM208.28 458.39h1.42v2.21h-1.42zM209.75 447.35h1.42v13.25h-1.42zM211.23 457.29h1.42v3.31h-1.42zM212.70 445.14h1.42v15.46h-1.42zM214.18 457.29h1.42v3.31h-1.42zM215.65 459.50h1.42v1.10h-1.42zM217.13 458.39h1.42v2.21h-1.42zM218.60 456.18h1.42v4.42h-1.42zM220.08 458.39h1.42v2.21h-1.42zM221.55 438.52h1.42v22.08h-1.42zM223.03 458.39h1.42v2.21h-1.42zM224.50 456.18h1.42v4.42h-1.42zM225.98 448.46h1.42v12.14h-1.42zM227.45 458.39h1.42v2.21h-1.42z"/>
<path fill="#c21a3c" d="M228.93 441.17h1.42v19.43h-1.42zM230.40 440.73h1.42v19.87h-1.42zM231.88 352.41h1.42v108.19h-1.42zM233.35 433.00h1.42v27.60h-1.42zM234.83 431.90h1.42v28.70h-1.42zM236.30 416.44h1.42v44.16h-1.42zM237.78 368.97h1.42v91.63h-1.42zM239.25 425.27h1.42v35.33h-1.42zM240.73 439.62h1.42v20.98h-1.42zM242.20 416.44h1.42v44.16h-1.42zM243.68 386.63h1.42v73.97h-1.42zM245.15 448.46h1.42v12.14h-1.42zM246.63 442.94h1.42v17.66h-1.42zM248.10 439.62h1.42v20.98h-1.42zM249.58 407.06h1.42v53.54h-1.42zM251.05 451.77h1.42v8.83h-1.42z"/>
<path fill="#9d95c8" d="M254.00 459.50h1.42v1.10h-1.42zM259.90 457.29h1.42v3.31h-1.42zM261.38 456.18h1.42v4.42h-1.42zM262.85 454.31h1.42v6.29h-1.42zM264.33 457.29h1.42v3.31h-1.42zM265.80 456.18h1.42v4.42h-1.42zM267.28 455.08h1.42v5.52h-1.42zM271.70 459.50h1.42v1.10h-1.42zM273.18 457.29h1.42v3.31h-1.42z"/>
<path fill="#48b040" d="M276.13 448.46h1.42v12.14h-1.42zM277.60 452.32h1.42v8.28h-1.42zM279.08 428.58h1.42v32.02h-1.42zM280.55 436.31h1.42v24.29h-1.42zM282.03 448.46h1.42v12.14h-1.42zM283.50 443.49h1.42v17.11h-1.42zM284.98 434.66h1.42v25.94h-1.42zM286.45 453.98h1.42v6.62h-1.42zM287.93 452.87h1.42v7.73h-1.42zM289.40 437.42h1.42v23.18h-1.42zM290.88 452.87h1.42v7.73h-1.42zM292.35 457.29h1.42v3.31h-1.42zM293.83 456.18h1.42v4.42h-1.42zM295.30 450.33h1.42v10.27h-1.42zM296.78 453.98h1.42v6.62h-1.42zM298.25 458.39h1.42v2.21h-1.42z"/>
<path fill="#e0228a" d="M301.20 459.50h1.42v1.10h-1.42zM302.68 451.22h1.42v9.38h-1.42zM305.63 458.39h1.42v2.21h-1.42zM307.10 456.18h1.42v4.42h-1.42zM308.58 450.33h1.42v10.27h-1.42zM310.05 459.50h1.42v1.10h-1.42zM311.53 459.50h1.42v1.10h-1.42zM313.00 457.29h1.42v3.31h-1.42zM315.95 459.50h1.42v1.10h-1.42zM317.43 449.56h1.42v11.04h-1.42zM318.90 458.39h1.42v2.21h-1.42zM320.38 459.50h1.42v1.10h-1.42z"/>
</g>
<rect x="176.5" y="350.1" width="150.90" height="110.50" fill="none" stroke="#2b2b2b" stroke-width="1.1"/>
<line x1="173.30" y1="460.60" x2="176.50" y2="460.60" stroke="#3a3a3a" stroke-width="0.9"/>
<text x="170.50" y="462.50" font-size="7.2" fill="#2e2e2e" text-anchor="end" stroke="#2e2e2e" stroke-width="0.16" textLength="13.2" lengthAdjust="spacingAndGlyphs">0.00</text>
<line x1="173.30" y1="423.77" x2="176.50" y2="423.77" stroke="#3a3a3a" stroke-width="0.9"/>
<text x="170.50" y="425.67" font-size="7.2" fill="#2e2e2e" text-anchor="end" stroke="#2e2e2e" stroke-width="0.16" textLength="13.2" lengthAdjust="spacingAndGlyphs">0.03</text>
<line x1="173.30" y1="386.93" x2="176.50" y2="386.93" stroke="#3a3a3a" stroke-width="0.9"/>
<text x="170.50" y="388.83" font-size="7.2" fill="#2e2e2e" text-anchor="end" stroke="#2e2e2e" stroke-width="0.16" textLength="13.2" lengthAdjust="spacingAndGlyphs">0.07</text>
<line x1="173.30" y1="350.10" x2="176.50" y2="350.10" stroke="#3a3a3a" stroke-width="0.9"/>
<text x="170.50" y="352.00" font-size="7.2" fill="#2e2e2e" text-anchor="end" stroke="#2e2e2e" stroke-width="0.16" textLength="13.2" lengthAdjust="spacingAndGlyphs">0.10</text>
<path fill="#9a9a9a" opacity="0.55" d="M182.04 462.60h0.80v1.10h-0.80zM182.04 464.30h0.80v1.10h-0.80zM182.04 466.00h0.80v1.10h-0.80zM183.51 462.60h0.80v1.10h-0.80zM183.51 464.30h0.80v1.10h-0.80zM183.51 466.00h0.80v1.10h-0.80zM184.99 462.60h0.80v1.10h-0.80zM184.99 464.30h0.80v1.10h-0.80zM184.99 466.00h0.80v1.10h-0.80zM186.46 462.60h0.80v1.10h-0.80zM186.46 464.30h0.80v1.10h-0.80zM186.46 466.00h0.80v1.10h-0.80zM187.94 462.60h0.80v1.10h-0.80zM187.94 464.30h0.80v1.10h-0.80zM187.94 466.00h0.80v1.10h-0.80zM189.41 462.60h0.80v1.10h-0.80zM189.41 464.30h0.80v1.10h-0.80zM189.41 466.00h0.80v1.10h-0.80zM190.89 462.60h0.80v1.10h-0.80zM190.89 464.30h0.80v1.10h-0.80zM190.89 466.00h0.80v1.10h-0.80zM192.36 462.60h0.80v1.10h-0.80zM192.36 464.30h0.80v1.10h-0.80zM192.36 466.00h0.80v1.10h-0.80zM193.84 462.60h0.80v1.10h-0.80zM193.84 464.30h0.80v1.10h-0.80zM193.84 466.00h0.80v1.10h-0.80zM195.31 462.60h0.80v1.10h-0.80zM195.31 464.30h0.80v1.10h-0.80zM195.31 466.00h0.80v1.10h-0.80zM196.79 462.60h0.80v1.10h-0.80zM196.79 464.30h0.80v1.10h-0.80zM196.79 466.00h0.80v1.10h-0.80zM198.26 462.60h0.80v1.10h-0.80zM198.26 464.30h0.80v1.10h-0.80zM198.26 466.00h0.80v1.10h-0.80zM199.74 462.60h0.80v1.10h-0.80zM199.74 464.30h0.80v1.10h-0.80zM199.74 466.00h0.80v1.10h-0.80zM201.21 462.60h0.80v1.10h-0.80zM201.21 464.30h0.80v1.10h-0.80zM201.21 466.00h0.80v1.10h-0.80zM202.69 462.60h0.80v1.10h-0.80zM202.69 464.30h0.80v1.10h-0.80zM202.69 466.00h0.80v1.10h-0.80zM204.16 462.60h0.80v1.10h-0.80zM204.16 464.30h0.80v1.10h-0.80zM204.16 466.00h0.80v1.10h-0.80zM205.64 462.60h0.80v1.10h-0.80zM205.64 464.30h0.80v1.10h-0.80zM205.64 466.00h0.80v1.10h-0.80zM207.11 462.60h0.80v1.10h-0.80zM207.11 464.30h0.80v1.10h-0.80zM207.11 466.00h0.80v1.10h-0.80zM208.59 462.60h0.80v1.10h-0.80zM208.59 464.30h0.80v1.10h-0.80zM208.59 466.00h0.80v1.10h-0.80zM210.06 462.60h0.80v1.10h-0.80zM210.06 464.30h0.80v1.10h-0.80zM210.06 466.00h0.80v1.10h-0.80zM211.54 462.60h0.80v1.10h-0.80zM211.54 464.30h0.80v1.10h-0.80zM211.54 466.00h0.80v1.10h-0.80zM213.01 462.60h0.80v1.10h-0.80zM213.01 464.30h0.80v1.10h-0.80zM213.01 466.00h0.80v1.10h-0.80zM214.49 462.60h0.80v1.10h-0.80zM214.49 464.30h0.80v1.10h-0.80zM214.49 466.00h0.80v1.10h-0.80zM215.96 462.60h0.80v1.10h-0.80zM215.96 464.30h0.80v1.10h-0.80zM215.96 466.00h0.80v1.10h-0.80zM217.44 462.60h0.80v1.10h-0.80zM217.44 464.30h0.80v1.10h-0.80zM217.44 466.00h0.80v1.10h-0.80zM218.91 462.60h0.80v1.10h-0.80zM218.91 464.30h0.80v1.10h-0.80zM218.91 466.00h0.80v1.10h-0.80zM220.39 462.60h0.80v1.10h-0.80zM220.39 464.30h0.80v1.10h-0.80zM220.39 466.00h0.80v1.10h-0.80zM221.86 462.60h0.80v1.10h-0.80zM221.86 464.30h0.80v1.10h-0.80zM221.86 466.00h0.80v1.10h-0.80zM223.34 462.60h0.80v1.10h-0.80zM223.34 464.30h0.80v1.10h-0.80zM223.34 466.00h0.80v1.10h-0.80zM224.81 462.60h0.80v1.10h-0.80zM224.81 464.30h0.80v1.10h-0.80zM224.81 466.00h0.80v1.10h-0.80zM226.29 462.60h0.80v1.10h-0.80zM226.29 464.30h0.80v1.10h-0.80zM226.29 466.00h0.80v1.10h-0.80zM227.76 462.60h0.80v1.10h-0.80zM227.76 464.30h0.80v1.10h-0.80zM227.76 466.00h0.80v1.10h-0.80zM229.24 462.60h0.80v1.10h-0.80zM229.24 464.30h0.80v1.10h-0.80zM229.24 466.00h0.80v1.10h-0.80zM230.71 462.60h0.80v1.10h-0.80zM230.71 464.30h0.80v1.10h-0.80zM230.71 466.00h0.80v1.10h-0.80zM232.19 462.60h0.80v1.10h-0.80zM232.19 464.30h0.80v1.10h-0.80zM232.19 466.00h0.80v1.10h-0.80zM233.66 462.60h0.80v1.10h-0.80zM233.66 464.30h0.80v1.10h-0.80zM233.66 466.00h0.80v1.10h-0.80zM235.14 462.60h0.80v1.10h-0.80zM235.14 464.30h0.80v1.10h-0.80zM235.14 466.00h0.80v1.10h-0.80zM236.61 462.60h0.80v1.10h-0.80zM236.61 464.30h0.80v1.10h-0.80zM236.61 466.00h0.80v1.10h-0.80zM238.09 462.60h0.80v1.10h-0.80zM238.09 464.30h0.80v1.10h-0.80zM238.09 466.00h0.80v1.10h-0.80zM239.56 462.60h0.80v1.10h-0.80zM239.56 464.30h0.80v1.10h-0.80zM239.56 466.00h0.80v1.10h-0.80zM241.04 462.60h0.80v1.10h-0.80zM241.04 464.30h0.80v1.10h-0.80zM241.04 466.00h0.80v1.10h-0.80zM242.51 462.60h0.80v1.10h-0.80zM242.51 464.30h0.80v1.10h-0.80zM242.51 466.00h0.80v1.10h-0.80zM243.99 462.60h0.80v1.10h-0.80zM243.99 464.30h0.80v1.10h-0.80zM243.99 466.00h0.80v1.10h-0.80zM245.46 462.60h0.80v1.10h-0.80zM245.46 464.30h0.80v1.10h-0.80zM245.46 466.00h0.80v1.10h-0.80zM246.94 462.60h0.80v1.10h-0.80zM246.94 464.30h0.80v1.10h-0.80zM246.94 466.00h0.80v1.10h-0.80zM248.41 462.60h0.80v1.10h-0.80zM248.41 464.30h0.80v1.10h-0.80zM248.41 466.00h0.80v1.10h-0.80zM249.89 462.60h0.80v1.10h-0.80zM249.89 464.30h0.80v1.10h-0.80zM249.89 466.00h0.80v1.10h-0.80zM251.36 462.60h0.80v1.10h-0.80zM251.36 464.30h0.80v1.10h-0.80zM251.36 466.00h0.80v1.10h-0.80zM252.84 462.60h0.80v1.10h-0.80zM252.84 464.30h0.80v1.10h-0.80zM252.84 466.00h0.80v1.10h-0.80zM254.31 462.60h0.80v1.10h-0.80zM254.31 464.30h0.80v1.10h-0.80zM254.31 466.00h0.80v1.10h-0.80zM255.79 462.60h0.80v1.10h-0.80zM255.79 464.30h0.80v1.10h-0.80zM255.79 466.00h0.80v1.10h-0.80zM257.26 462.60h0.80v1.10h-0.80zM257.26 464.30h0.80v1.10h-0.80zM257.26 466.00h0.80v1.10h-0.80zM258.74 462.60h0.80v1.10h-0.80zM258.74 464.30h0.80v1.10h-0.80zM258.74 466.00h0.80v1.10h-0.80zM260.21 462.60h0.80v1.10h-0.80zM260.21 464.30h0.80v1.10h-0.80zM260.21 466.00h0.80v1.10h-0.80zM261.69 462.60h0.80v1.10h-0.80zM261.69 464.30h0.80v1.10h-0.80zM261.69 466.00h0.80v1.10h-0.80zM263.16 462.60h0.80v1.10h-0.80zM263.16 464.30h0.80v1.10h-0.80zM263.16 466.00h0.80v1.10h-0.80zM264.64 462.60h0.80v1.10h-0.80zM264.64 464.30h0.80v1.10h-0.80zM264.64 466.00h0.80v1.10h-0.80zM266.11 462.60h0.80v1.10h-0.80zM266.11 464.30h0.80v1.10h-0.80zM266.11 466.00h0.80v1.10h-0.80zM267.59 462.60h0.80v1.10h-0.80zM267.59 464.30h0.80v1.10h-0.80zM267.59 466.00h0.80v1.10h-0.80zM269.06 462.60h0.80v1.10h-0.80zM269.06 464.30h0.80v1.10h-0.80zM269.06 466.00h0.80v1.10h-0.80zM270.54 462.60h0.80v1.10h-0.80zM270.54 464.30h0.80v1.10h-0.80zM270.54 466.00h0.80v1.10h-0.80zM272.01 462.60h0.80v1.10h-0.80zM272.01 464.30h0.80v1.10h-0.80zM272.01 466.00h0.80v1.10h-0.80zM273.49 462.60h0.80v1.10h-0.80zM273.49 464.30h0.80v1.10h-0.80zM273.49 466.00h0.80v1.10h-0.80zM274.96 462.60h0.80v1.10h-0.80zM274.96 464.30h0.80v1.10h-0.80zM274.96 466.00h0.80v1.10h-0.80zM276.44 462.60h0.80v1.10h-0.80zM276.44 464.30h0.80v1.10h-0.80zM276.44 466.00h0.80v1.10h-0.80zM277.91 462.60h0.80v1.10h-0.80zM277.91 464.30h0.80v1.10h-0.80zM277.91 466.00h0.80v1.10h-0.80zM279.39 462.60h0.80v1.10h-0.80zM279.39 464.30h0.80v1.10h-0.80zM279.39 466.00h0.80v1.10h-0.80zM280.86 462.60h0.80v1.10h-0.80zM280.86 464.30h0.80v1.10h-0.80zM280.86 466.00h0.80v1.10h-0.80zM282.34 462.60h0.80v1.10h-0.80zM282.34 464.30h0.80v1.10h-0.80zM282.34 466.00h0.80v1.10h-0.80zM283.81 462.60h0.80v1.10h-0.80zM283.81 464.30h0.80v1.10h-0.80zM283.81 466.00h0.80v1.10h-0.80zM285.29 462.60h0.80v1.10h-0.80zM285.29 464.30h0.80v1.10h-0.80zM285.29 466.00h0.80v1.10h-0.80zM286.76 462.60h0.80v1.10h-0.80zM286.76 464.30h0.80v1.10h-0.80zM286.76 466.00h0.80v1.10h-0.80zM288.24 462.60h0.80v1.10h-0.80zM288.24 464.30h0.80v1.10h-0.80zM288.24 466.00h0.80v1.10h-0.80zM289.71 462.60h0.80v1.10h-0.80zM289.71 464.30h0.80v1.10h-0.80zM289.71 466.00h0.80v1.10h-0.80zM291.19 462.60h0.80v1.10h-0.80zM291.19 464.30h0.80v1.10h-0.80zM291.19 466.00h0.80v1.10h-0.80zM292.66 462.60h0.80v1.10h-0.80zM292.66 464.30h0.80v1.10h-0.80zM292.66 466.00h0.80v1.10h-0.80zM294.14 462.60h0.80v1.10h-0.80zM294.14 464.30h0.80v1.10h-0.80zM294.14 466.00h0.80v1.10h-0.80zM295.61 462.60h0.80v1.10h-0.80zM295.61 464.30h0.80v1.10h-0.80zM295.61 466.00h0.80v1.10h-0.80zM297.09 462.60h0.80v1.10h-0.80zM297.09 464.30h0.80v1.10h-0.80zM297.09 466.00h0.80v1.10h-0.80zM298.56 462.60h0.80v1.10h-0.80zM298.56 464.30h0.80v1.10h-0.80zM298.56 466.00h0.80v1.10h-0.80zM300.04 462.60h0.80v1.10h-0.80zM300.04 464.30h0.80v1.10h-0.80zM300.04 466.00h0.80v1.10h-0.80zM301.51 462.60h0.80v1.10h-0.80zM301.51 464.30h0.80v1.10h-0.80zM301.51 466.00h0.80v1.10h-0.80zM302.99 462.60h0.80v1.10h-0.80zM302.99 464.30h0.80v1.10h-0.80zM302.99 466.00h0.80v1.10h-0.80zM304.46 462.60h0.80v1.10h-0.80zM304.46 464.30h0.80v1.10h-0.80zM304.46 466.00h0.80v1.10h-0.80zM305.94 462.60h0.80v1.10h-0.80zM305.94 464.30h0.80v1.10h-0.80zM305.94 466.00h0.80v1.10h-0.80zM307.41 462.60h0.80v1.10h-0.80zM307.41 464.30h0.80v1.10h-0.80zM307.41 466.00h0.80v1.10h-0.80zM308.89 462.60h0.80v1.10h-0.80zM308.89 464.30h0.80v1.10h-0.80zM308.89 466.00h0.80v1.10h-0.80zM310.36 462.60h0.80v1.10h-0.80zM310.36 464.30h0.80v1.10h-0.80zM310.36 466.00h0.80v1.10h-0.80zM311.84 462.60h0.80v1.10h-0.80zM311.84 464.30h0.80v1.10h-0.80zM311.84 466.00h0.80v1.10h-0.80zM313.31 462.60h0.80v1.10h-0.80zM313.31 464.30h0.80v1.10h-0.80zM313.31 466.00h0.80v1.10h-0.80zM314.79 462.60h0.80v1.10h-0.80zM314.79 464.30h0.80v1.10h-0.80zM314.79 466.00h0.80v1.10h-0.80zM316.26 462.60h0.80v1.10h-0.80zM316.26 464.30h0.80v1.10h-0.80zM316.26 466.00h0.80v1.10h-0.80zM317.74 462.60h0.80v1.10h-0.80zM317.74 464.30h0.80v1.10h-0.80zM317.74 466.00h0.80v1.10h-0.80zM319.21 462.60h0.80v1.10h-0.80zM319.21 464.30h0.80v1.10h-0.80zM319.21 466.00h0.80v1.10h-0.80zM320.69 462.60h0.80v1.10h-0.80zM320.69 464.30h0.80v1.10h-0.80zM320.69 466.00h0.80v1.10h-0.80zM322.16 462.60h0.80v1.10h-0.80zM322.16 464.30h0.80v1.10h-0.80zM322.16 466.00h0.80v1.10h-0.80z"/>
<text x="193.50" y="475.80" font-size="6.6" fill="#7cbfe3" text-anchor="middle" stroke="#7cbfe3" stroke-width="0.16" textLength="13.5" lengthAdjust="spacingAndGlyphs">C&gt;A</text>
<text x="217.10" y="475.80" font-size="6.6" fill="#2f5a8c" text-anchor="middle" stroke="#2f5a8c" stroke-width="0.16" textLength="13.5" lengthAdjust="spacingAndGlyphs">C&gt;G</text>
<text x="240.70" y="475.80" font-size="6.6" fill="#c8304e" text-anchor="middle" stroke="#c8304e" stroke-width="0.16" textLength="13.5" lengthAdjust="spacingAndGlyphs">C&gt;T</text>
<text x="264.30" y="475.80" font-size="6.6" fill="#a3a3bc" text-anchor="middle" stroke="#a3a3bc" stroke-width="0.16" textLength="13.5" lengthAdjust="spacingAndGlyphs">T&gt;A</text>
<text x="287.90" y="475.80" font-size="6.6" fill="#55b04c" text-anchor="middle" stroke="#55b04c" stroke-width="0.16" textLength="13.5" lengthAdjust="spacingAndGlyphs">T&gt;C</text>
<text x="311.50" y="475.80" font-size="6.6" fill="#d8338f" text-anchor="middle" stroke="#d8338f" stroke-width="0.16" textLength="13.5" lengthAdjust="spacingAndGlyphs">T&gt;G</text>
<text x="251.95" y="488.00" font-size="8.2" fill="#2e2e2e" text-anchor="middle" stroke="#2e2e2e" stroke-width="0.16" textLength="51" lengthAdjust="spacingAndGlyphs">Sequence motifs</text>
<text x="251.95" y="345.30" font-size="9.0" fill="#2a2a2a" text-anchor="middle" stroke="#2a2a2a" stroke-width="0.16" textLength="29.4" lengthAdjust="spacingAndGlyphs">Sign.03</text>
<text x="152.50" y="404.15" font-size="8.4" fill="#2e2e2e" text-anchor="middle" stroke="#2e2e2e" stroke-width="0.16" textLength="58.2" lengthAdjust="spacingAndGlyphs" transform="rotate(-90 152.50 404.15)">Fraction of variants</text>
<clipPath id="cp361350"><rect x="361.9" y="350.1" width="151.0" height="110.5"/></clipPath>
<g clip-path="url(#cp361350)">
<path fill="#46aee0" d="M367.13 447.35h1.42v13.25h-1.42zM368.60 453.98h1.42v6.62h-1.42zM370.08 453.98h1.42v6.62h-1.42zM371.55 458.39h1.42v2.21h-1.42zM373.03 448.46h1.42v12.14h-1.42zM374.50 459.50h1.42v1.10h-1.42zM375.98 453.98h1.42v6.62h-1.42zM377.45 458.39h1.42v2.21h-1.42zM378.93 456.18h1.42v4.42h-1.42zM380.40 453.98h1.42v6.62h-1.42zM381.88 449.56h1.42v11.04h-1.42zM383.35 456.18h1.42v4.42h-1.42zM384.83 458.39h1.42v2.21h-1.42zM386.30 455.08h1.42v5.52h-1.42zM387.78 455.08h1.42v5.52h-1.42z"/>
<path fill="#244f7e" d="M390.73 459.50h1.42v1.10h-1.42zM392.20 458.39h1.42v2.21h-1.42zM393.68 453.98h1.42v6.62h-1.42zM395.15 453.98h1.42v6.62h-1.42zM396.63 457.29h1.42v3.31h-1.42zM398.10 455.08h1.42v5.52h-1.42zM399.58 458.39h1.42v2.21h-1.42zM401.05 452.87h1.42v7.73h-1.42zM402.53 458.39h1.42v2.21h-1.42zM404.00 435.21h1.42v25.39h-1.42zM405.48 456.18h1.42v4.42h-1.42zM406.95 437.97h1.42v22.63h-1.42zM408.43 458.39h1.42v2.21h-1.42zM409.90 451.77h1.42v8.83h-1.42zM411.38 458.39h1.42v2.21h-1.42zM412.85 457.29h1.42v3.31h-1.42z"/>
<path fill="#c21a3c" d="M414.33 408.71h1.42v51.89h-1.42zM415.80 450.66h1.42v9.94h-1.42zM417.28 426.38h1.42v34.22h-1.42zM418.75 455.08h1.42v5.52h-1.42zM420.23 451.77h1.42v8.83h-1.42zM421.70 447.35h1.42v13.25h-1.42zM423.18 328.12h1.42v132.48h-1.42zM424.65 421.96h1.42v38.64h-1.42zM426.13 440.73h1.42v19.87h-1.42zM427.60 426.38h1.42v34.22h-1.42zM429.08 393.26h1.42v67.34h-1.42zM430.55 415.34h1.42v45.26h-1.42zM432.03 436.31h1.42v24.29h-1.42zM433.50 451.77h1.42v8.83h-1.42zM434.98 407.06h1.42v53.54h-1.42zM436.45 436.31h1.42v24.29h-1.42z"/>
<path fill="#9d95c8" d="M439.40 456.18h1.42v4.42h-1.42zM442.35 458.39h1.42v2.21h-1.42zM443.83 459.50h1.42v1.10h-1.42zM446.78 459.50h1.42v1.10h-1.42zM449.73 458.39h1.42v2.21h-1.42zM452.68 459.50h1.42v1.10h-1.42zM454.15 444.59h1.42v16.01h-1.42zM455.63 459.50h1.42v1.10h-1.42zM458.58 456.18h1.42v4.42h-1.42z"/>
<path fill="#48b040" d="M461.53 455.08h1.42v5.52h-1.42zM463.00 426.38h1.42v34.22h-1.42zM464.48 453.98h1.42v6.62h-1.42zM465.95 452.87h1.42v7.73h-1.42zM467.43 453.98h1.42v6.62h-1.42zM468.90 452.32h1.42v8.28h-1.42zM470.38 434.66h1.42v25.94h-1.42zM471.85 442.94h1.42v17.66h-1.42zM473.33 438.52h1.42v22.08h-1.42zM474.80 430.02h1.42v30.58h-1.42zM476.28 437.42h1.42v23.18h-1.42zM477.75 439.62h1.42v20.98h-1.42zM479.23 447.35h1.42v13.25h-1.42zM480.70 431.12h1.42v29.48h-1.42zM482.18 455.08h1.42v5.52h-1.42zM483.65 458.39h1.42v2.21h-1.42z"/>
<path fill="#e0228a" d="M485.13 452.87h1.42v7.73h-1.42zM486.60 451.77h1.42v8.83h-1.42zM488.08 451.44h1.42v9.16h-1.42zM491.03 458.39h1.42v2.21h-1.42zM492.50 453.31h1.42v7.29h-1.42zM493.98 458.39h1.42v2.21h-1.42zM495.45 456.18h1.42v4.42h-1.42zM496.93 447.79h1.42v12.81h-1.42zM498.40 451.77h1.42v8.83h-1.42zM499.88 455.08h1.42v5.52h-1.42zM501.35 453.98h1.42v6.62h-1.42zM502.83 457.29h1.42v3.31h-1.42zM504.30 453.98h1.42v6.62h-1.42zM505.78 457.29h1.42v3.31h-1.42z"/>
</g>
<rect x="361.9" y="350.1" width="151.00" height="110.50" fill="none" stroke="#2b2b2b" stroke-width="1.1"/>
<line x1="358.70" y1="460.60" x2="361.90" y2="460.60" stroke="#3a3a3a" stroke-width="0.9"/>
<text x="355.90" y="462.50" font-size="7.2" fill="#2e2e2e" text-anchor="end" stroke="#2e2e2e" stroke-width="0.16" textLength="13.2" lengthAdjust="spacingAndGlyphs">0.00</text>
<line x1="358.70" y1="423.77" x2="361.90" y2="423.77" stroke="#3a3a3a" stroke-width="0.9"/>
<text x="355.90" y="425.67" font-size="7.2" fill="#2e2e2e" text-anchor="end" stroke="#2e2e2e" stroke-width="0.16" textLength="13.2" lengthAdjust="spacingAndGlyphs">0.03</text>
<line x1="358.70" y1="386.93" x2="361.90" y2="386.93" stroke="#3a3a3a" stroke-width="0.9"/>
<text x="355.90" y="388.83" font-size="7.2" fill="#2e2e2e" text-anchor="end" stroke="#2e2e2e" stroke-width="0.16" textLength="13.2" lengthAdjust="spacingAndGlyphs">0.07</text>
<line x1="358.70" y1="350.10" x2="361.90" y2="350.10" stroke="#3a3a3a" stroke-width="0.9"/>
<text x="355.90" y="352.00" font-size="7.2" fill="#2e2e2e" text-anchor="end" stroke="#2e2e2e" stroke-width="0.16" textLength="13.2" lengthAdjust="spacingAndGlyphs">0.10</text>
<path fill="#9a9a9a" opacity="0.55" d="M367.44 462.60h0.80v1.10h-0.80zM367.44 464.30h0.80v1.10h-0.80zM367.44 466.00h0.80v1.10h-0.80zM368.91 462.60h0.80v1.10h-0.80zM368.91 464.30h0.80v1.10h-0.80zM368.91 466.00h0.80v1.10h-0.80zM370.39 462.60h0.80v1.10h-0.80zM370.39 464.30h0.80v1.10h-0.80zM370.39 466.00h0.80v1.10h-0.80zM371.86 462.60h0.80v1.10h-0.80zM371.86 464.30h0.80v1.10h-0.80zM371.86 466.00h0.80v1.10h-0.80zM373.34 462.60h0.80v1.10h-0.80zM373.34 464.30h0.80v1.10h-0.80zM373.34 466.00h0.80v1.10h-0.80zM374.81 462.60h0.80v1.10h-0.80zM374.81 464.30h0.80v1.10h-0.80zM374.81 466.00h0.80v1.10h-0.80zM376.29 462.60h0.80v1.10h-0.80zM376.29 464.30h0.80v1.10h-0.80zM376.29 466.00h0.80v1.10h-0.80zM377.76 462.60h0.80v1.10h-0.80zM377.76 464.30h0.80v1.10h-0.80zM377.76 466.00h0.80v1.10h-0.80zM379.24 462.60h0.80v1.10h-0.80zM379.24 464.30h0.80v1.10h-0.80zM379.24 466.00h0.80v1.10h-0.80zM380.71 462.60h0.80v1.10h-0.80zM380.71 464.30h0.80v1.10h-0.80zM380.71 466.00h0.80v1.10h-0.80zM382.19 462.60h0.80v1.10h-0.80zM382.19 464.30h0.80v1.10h-0.80zM382.19 466.00h0.80v1.10h-0.80zM383.66 462.60h0.80v1.10h-0.80zM383.66 464.30h0.80v1.10h-0.80zM383.66 466.00h0.80v1.10h-0.80zM385.14 462.60h0.80v1.10h-0.80zM385.14 464.30h0.80v1.10h-0.80zM385.14 466.00h0.80v1.10h-0.80zM386.61 462.60h0.80v1.10h-0.80zM386.61 464.30h0.80v1.10h-0.80zM386.61 466.00h0.80v1.10h-0.80zM388.09 462.60h0.80v1.10h-0.80zM388.09 464.30h0.80v1.10h-0.80zM388.09 466.00h0.80v1.10h-0.80zM389.56 462.60h0.80v1.10h-0.80zM389.56 464.30h0.80v1.10h-0.80zM389.56 466.00h0.80v1.10h-0.80zM391.04 462.60h0.80v1.10h-0.80zM391.04 464.30h0.80v1.10h-0.80zM391.04 466.00h0.80v1.10h-0.80zM392.51 462.60h0.80v1.10h-0.80zM392.51 464.30h0.80v1.10h-0.80zM392.51 466.00h0.80v1.10h-0.80zM393.99 462.60h0.80v1.10h-0.80zM393.99 464.30h0.80v1.10h-0.80zM393.99 466.00h0.80v1.10h-0.80zM395.46 462.60h0.80v1.10h-0.80zM395.46 464.30h0.80v1.10h-0.80zM395.46 466.00h0.80v1.10h-0.80zM396.94 462.60h0.80v1.10h-0.80zM396.94 464.30h0.80v1.10h-0.80zM396.94 466.00h0.80v1.10h-0.80zM398.41 462.60h0.80v1.10h-0.80zM398.41 464.30h0.80v1.10h-0.80zM398.41 466.00h0.80v1.10h-0.80zM399.89 462.60h0.80v1.10h-0.80zM399.89 464.30h0.80v1.10h-0.80zM399.89 466.00h0.80v1.10h-0.80zM401.36 462.60h0.80v1.10h-0.80zM401.36 464.30h0.80v1.10h-0.80zM401.36 466.00h0.80v1.10h-0.80zM402.84 462.60h0.80v1.10h-0.80zM402.84 464.30h0.80v1.10h-0.80zM402.84 466.00h0.80v1.10h-0.80zM404.31 462.60h0.80v1.10h-0.80zM404.31 464.30h0.80v1.10h-0.80zM404.31 466.00h0.80v1.10h-0.80zM405.79 462.60h0.80v1.10h-0.80zM405.79 464.30h0.80v1.10h-0.80zM405.79 466.00h0.80v1.10h-0.80zM407.26 462.60h0.80v1.10h-0.80zM407.26 464.30h0.80v1.10h-0.80zM407.26 466.00h0.80v1.10h-0.80zM408.74 462.60h0.80v1.10h-0.80zM408.74 464.30h0.80v1.10h-0.80zM408.74 466.00h0.80v1.10h-0.80zM410.21 462.60h0.80v1.10h-0.80zM410.21 464.30h0.80v1.10h-0.80zM410.21 466.00h0.80v1.10h-0.80zM411.69 462.60h0.80v1.10h-0.80zM411.69 464.30h0.80v1.10h-0.80zM411.69 466.00h0.80v1.10h-0.80zM413.16 462.60h0.80v1.10h-0.80zM413.16 464.30h0.80v1.10h-0.80zM413.16 466.00h0.80v1.10h-0.80zM414.64 462.60h0.80v1.10h-0.80zM414.64 464.30h0.80v1.10h-0.80zM414.64 466.00h0.80v1.10h-0.80zM416.11 462.60h0.80v1.10h-0.80zM416.11 464.30h0.80v1.10h-0.80zM416.11 466.00h0.80v1.10h-0.80zM417.59 462.60h0.80v1.10h-0.80zM417.59 464.30h0.80v1.10h-0.80zM417.59 466.00h0.80v1.10h-0.80zM419.06 462.60h0.80v1.10h-0.80zM419.06 464.30h0.80v1.10h-0.80zM419.06 466.00h0.80v1.10h-0.80zM420.54 462.60h0.80v1.10h-0.80zM420.54 464.30h0.80v1.10h-0.80zM420.54 466.00h0.80v1.10h-0.80zM422.01 462.60h0.80v1.10h-0.80zM422.01 464.30h0.80v1.10h-0.80zM422.01 466.00h0.80v1.10h-0.80zM423.49 462.60h0.80v1.10h-0.80zM423.49 464.30h0.80v1.10h-0.80zM423.49 466.00h0.80v1.10h-0.80zM424.96 462.60h0.80v1.10h-0.80zM424.96 464.30h0.80v1.10h-0.80zM424.96 466.00h0.80v1.10h-0.80zM426.44 462.60h0.80v1.10h-0.80zM426.44 464.30h0.80v1.10h-0.80zM426.44 466.00h0.80v1.10h-0.80zM427.91 462.60h0.80v1.10h-0.80zM427.91 464.30h0.80v1.10h-0.80zM427.91 466.00h0.80v1.10h-0.80zM429.39 462.60h0.80v1.10h-0.80zM429.39 464.30h0.80v1.10h-0.80zM429.39 466.00h0.80v1.10h-0.80zM430.86 462.60h0.80v1.10h-0.80zM430.86 464.30h0.80v1.10h-0.80zM430.86 466.00h0.80v1.10h-0.80zM432.34 462.60h0.80v1.10h-0.80zM432.34 464.30h0.80v1.10h-0.80zM432.34 466.00h0.80v1.10h-0.80zM433.81 462.60h0.80v1.10h-0.80zM433.81 464.30h0.80v1.10h-0.80zM433.81 466.00h0.80v1.10h-0.80zM435.29 462.60h0.80v1.10h-0.80zM435.29 464.30h0.80v1.10h-0.80zM435.29 466.00h0.80v1.10h-0.80zM436.76 462.60h0.80v1.10h-0.80zM436.76 464.30h0.80v1.10h-0.80zM436.76 466.00h0.80v1.10h-0.80zM438.24 462.60h0.80v1.10h-0.80zM438.24 464.30h0.80v1.10h-0.80zM438.24 466.00h0.80v1.10h-0.80zM439.71 462.60h0.80v1.10h-0.80zM439.71 464.30h0.80v1.10h-0.80zM439.71 466.00h0.80v1.10h-0.80zM441.19 462.60h0.80v1.10h-0.80zM441.19 464.30h0.80v1.10h-0.80zM441.19 466.00h0.80v1.10h-0.80zM442.66 462.60h0.80v1.10h-0.80zM442.66 464.30h0.80v1.10h-0.80zM442.66 466.00h0.80v1.10h-0.80zM444.14 462.60h0.80v1.10h-0.80zM444.14 464.30h0.80v1.10h-0.80zM444.14 466.00h0.80v1.10h-0.80zM445.61 462.60h0.80v1.10h-0.80zM445.61 464.30h0.80v1.10h-0.80zM445.61 466.00h0.80v1.10h-0.80zM447.09 462.60h0.80v1.10h-0.80zM447.09 464.30h0.80v1.10h-0.80zM447.09 466.00h0.80v1.10h-0.80zM448.56 462.60h0.80v1.10h-0.80zM448.56 464.30h0.80v1.10h-0.80zM448.56 466.00h0.80v1.10h-0.80zM450.04 462.60h0.80v1.10h-0.80zM450.04 464.30h0.80v1.10h-0.80zM450.04 466.00h0.80v1.10h-0.80zM451.51 462.60h0.80v1.10h-0.80zM451.51 464.30h0.80v1.10h-0.80zM451.51 466.00h0.80v1.10h-0.80zM452.99 462.60h0.80v1.10h-0.80zM452.99 464.30h0.80v1.10h-0.80zM452.99 466.00h0.80v1.10h-0.80zM454.46 462.60h0.80v1.10h-0.80zM454.46 464.30h0.80v1.10h-0.80zM454.46 466.00h0.80v1.10h-0.80zM455.94 462.60h0.80v1.10h-0.80zM455.94 464.30h0.80v1.10h-0.80zM455.94 466.00h0.80v1.10h-0.80zM457.41 462.60h0.80v1.10h-0.80zM457.41 464.30h0.80v1.10h-0.80zM457.41 466.00h0.80v1.10h-0.80zM458.89 462.60h0.80v1.10h-0.80zM458.89 464.30h0.80v1.10h-0.80zM458.89 466.00h0.80v1.10h-0.80zM460.36 462.60h0.80v1.10h-0.80zM460.36 464.30h0.80v1.10h-0.80zM460.36 466.00h0.80v1.10h-0.80zM461.84 462.60h0.80v1.10h-0.80zM461.84 464.30h0.80v1.10h-0.80zM461.84 466.00h0.80v1.10h-0.80zM463.31 462.60h0.80v1.10h-0.80zM463.31 464.30h0.80v1.10h-0.80zM463.31 466.00h0.80v1.10h-0.80zM464.79 462.60h0.80v1.10h-0.80zM464.79 464.30h0.80v1.10h-0.80zM464.79 466.00h0.80v1.10h-0.80zM466.26 462.60h0.80v1.10h-0.80zM466.26 464.30h0.80v1.10h-0.80zM466.26 466.00h0.80v1.10h-0.80zM467.74 462.60h0.80v1.10h-0.80zM467.74 464.30h0.80v1.10h-0.80zM467.74 466.00h0.80v1.10h-0.80zM469.21 462.60h0.80v1.10h-0.80zM469.21 464.30h0.80v1.10h-0.80zM469.21 466.00h0.80v1.10h-0.80zM470.69 462.60h0.80v1.10h-0.80zM470.69 464.30h0.80v1.10h-0.80zM470.69 466.00h0.80v1.10h-0.80zM472.16 462.60h0.80v1.10h-0.80zM472.16 464.30h0.80v1.10h-0.80zM472.16 466.00h0.80v1.10h-0.80zM473.64 462.60h0.80v1.10h-0.80zM473.64 464.30h0.80v1.10h-0.80zM473.64 466.00h0.80v1.10h-0.80zM475.11 462.60h0.80v1.10h-0.80zM475.11 464.30h0.80v1.10h-0.80zM475.11 466.00h0.80v1.10h-0.80zM476.59 462.60h0.80v1.10h-0.80zM476.59 464.30h0.80v1.10h-0.80zM476.59 466.00h0.80v1.10h-0.80zM478.06 462.60h0.80v1.10h-0.80zM478.06 464.30h0.80v1.10h-0.80zM478.06 466.00h0.80v1.10h-0.80zM479.54 462.60h0.80v1.10h-0.80zM479.54 464.30h0.80v1.10h-0.80zM479.54 466.00h0.80v1.10h-0.80zM481.01 462.60h0.80v1.10h-0.80zM481.01 464.30h0.80v1.10h-0.80zM481.01 466.00h0.80v1.10h-0.80zM482.49 462.60h0.80v1.10h-0.80zM482.49 464.30h0.80v1.10h-0.80zM482.49 466.00h0.80v1.10h-0.80zM483.96 462.60h0.80v1.10h-0.80zM483.96 464.30h0.80v1.10h-0.80zM483.96 466.00h0.80v1.10h-0.80zM485.44 462.60h0.80v1.10h-0.80zM485.44 464.30h0.80v1.10h-0.80zM485.44 466.00h0.80v1.10h-0.80zM486.91 462.60h0.80v1.10h-0.80zM486.91 464.30h0.80v1.10h-0.80zM486.91 466.00h0.80v1.10h-0.80zM488.39 462.60h0.80v1.10h-0.80zM488.39 464.30h0.80v1.10h-0.80zM488.39 466.00h0.80v1.10h-0.80zM489.86 462.60h0.80v1.10h-0.80zM489.86 464.30h0.80v1.10h-0.80zM489.86 466.00h0.80v1.10h-0.80zM491.34 462.60h0.80v1.10h-0.80zM491.34 464.30h0.80v1.10h-0.80zM491.34 466.00h0.80v1.10h-0.80zM492.81 462.60h0.80v1.10h-0.80zM492.81 464.30h0.80v1.10h-0.80zM492.81 466.00h0.80v1.10h-0.80zM494.29 462.60h0.80v1.10h-0.80zM494.29 464.30h0.80v1.10h-0.80zM494.29 466.00h0.80v1.10h-0.80zM495.76 462.60h0.80v1.10h-0.80zM495.76 464.30h0.80v1.10h-0.80zM495.76 466.00h0.80v1.10h-0.80zM497.24 462.60h0.80v1.10h-0.80zM497.24 464.30h0.80v1.10h-0.80zM497.24 466.00h0.80v1.10h-0.80zM498.71 462.60h0.80v1.10h-0.80zM498.71 464.30h0.80v1.10h-0.80zM498.71 466.00h0.80v1.10h-0.80zM500.19 462.60h0.80v1.10h-0.80zM500.19 464.30h0.80v1.10h-0.80zM500.19 466.00h0.80v1.10h-0.80zM501.66 462.60h0.80v1.10h-0.80zM501.66 464.30h0.80v1.10h-0.80zM501.66 466.00h0.80v1.10h-0.80zM503.14 462.60h0.80v1.10h-0.80zM503.14 464.30h0.80v1.10h-0.80zM503.14 466.00h0.80v1.10h-0.80zM504.61 462.60h0.80v1.10h-0.80zM504.61 464.30h0.80v1.10h-0.80zM504.61 466.00h0.80v1.10h-0.80zM506.09 462.60h0.80v1.10h-0.80zM506.09 464.30h0.80v1.10h-0.80zM506.09 466.00h0.80v1.10h-0.80zM507.56 462.60h0.80v1.10h-0.80zM507.56 464.30h0.80v1.10h-0.80zM507.56 466.00h0.80v1.10h-0.80z"/>
<text x="378.90" y="475.80" font-size="6.6" fill="#7cbfe3" text-anchor="middle" stroke="#7cbfe3" stroke-width="0.16" textLength="13.5" lengthAdjust="spacingAndGlyphs">C&gt;A</text>
<text x="402.50" y="475.80" font-size="6.6" fill="#2f5a8c" text-anchor="middle" stroke="#2f5a8c" stroke-width="0.16" textLength="13.5" lengthAdjust="spacingAndGlyphs">C&gt;G</text>
<text x="426.10" y="475.80" font-size="6.6" fill="#c8304e" text-anchor="middle" stroke="#c8304e" stroke-width="0.16" textLength="13.5" lengthAdjust="spacingAndGlyphs">C&gt;T</text>
<text x="449.70" y="475.80" font-size="6.6" fill="#a3a3bc" text-anchor="middle" stroke="#a3a3bc" stroke-width="0.16" textLength="13.5" lengthAdjust="spacingAndGlyphs">T&gt;A</text>
<text x="473.30" y="475.80" font-size="6.6" fill="#55b04c" text-anchor="middle" stroke="#55b04c" stroke-width="0.16" textLength="13.5" lengthAdjust="spacingAndGlyphs">T&gt;C</text>
<text x="496.90" y="475.80" font-size="6.6" fill="#d8338f" text-anchor="middle" stroke="#d8338f" stroke-width="0.16" textLength="13.5" lengthAdjust="spacingAndGlyphs">T&gt;G</text>
<text x="437.40" y="488.00" font-size="8.2" fill="#2e2e2e" text-anchor="middle" stroke="#2e2e2e" stroke-width="0.16" textLength="51" lengthAdjust="spacingAndGlyphs">Sequence motifs</text>
<text x="437.40" y="345.30" font-size="9.0" fill="#2a2a2a" text-anchor="middle" stroke="#2a2a2a" stroke-width="0.16" textLength="29.4" lengthAdjust="spacingAndGlyphs">Sign.04</text>
<text x="337.90" y="404.15" font-size="8.4" fill="#2e2e2e" text-anchor="middle" stroke="#2e2e2e" stroke-width="0.16" textLength="58.2" lengthAdjust="spacingAndGlyphs" transform="rotate(-90 337.90 404.15)">Fraction of variants</text>
<text x="15.90" y="503.60" font-size="12" fill="#111" text-anchor="start" font-weight="bold" stroke="#111" stroke-width="0.35">E</text>
<rect x="52.00" y="509.50" width="4.91" height="29.20" fill="#fdf0ef"/>
<rect x="57.26" y="509.50" width="4.91" height="29.20" fill="#fdeeec"/>
<rect x="62.51" y="509.50" width="4.91" height="29.20" fill="#fbe6e2"/>
<rect x="67.77" y="509.50" width="4.91" height="29.20" fill="#fdeeeb"/>
<rect x="73.02" y="509.50" width="4.91" height="29.20" fill="#fef3f2"/>
<rect x="78.28" y="509.50" width="4.91" height="29.20" fill="#fdf1ef"/>
<rect x="83.53" y="509.50" width="4.91" height="29.20" fill="#fdedeb"/>
<rect x="88.79" y="509.50" width="4.91" height="29.20" fill="#fbe2de"/>
<rect x="94.04" y="509.50" width="4.91" height="29.20" fill="#fdedeb"/>
<rect x="99.30" y="509.50" width="4.91" height="29.20" fill="#fef2f0"/>
<rect x="104.55" y="509.50" width="4.91" height="29.20" fill="#fdeeeb"/>
<rect x="109.81" y="509.50" width="4.91" height="29.20" fill="#f1aa9a"/>
<rect x="115.06" y="509.50" width="4.91" height="29.20" fill="#fef2f0"/>
<rect x="120.32" y="509.50" width="4.91" height="29.20" fill="#fef6f5"/>
<rect x="125.57" y="509.50" width="4.91" height="29.20" fill="#fdeeec"/>
<rect x="130.83" y="509.50" width="4.91" height="29.20" fill="#fdefed"/>
<rect x="136.08" y="509.50" width="4.91" height="29.20" fill="#fef4f3"/>
<rect x="141.34" y="509.50" width="4.91" height="29.20" fill="#fff7f7"/>
<rect x="146.59" y="509.50" width="4.91" height="29.20" fill="#fef3f2"/>
<rect x="151.85" y="509.50" width="4.91" height="29.20" fill="#fef1f0"/>
<rect x="157.10" y="509.50" width="4.91" height="29.20" fill="#fff8f8"/>
<rect x="162.36" y="509.50" width="4.91" height="29.20" fill="#fdedeb"/>
<rect x="167.61" y="509.50" width="4.91" height="29.20" fill="#fff6f6"/>
<rect x="172.87" y="509.50" width="4.91" height="29.20" fill="#e7644c"/>
<rect x="178.12" y="509.50" width="4.91" height="29.20" fill="#fdeeec"/>
<rect x="183.38" y="509.50" width="4.91" height="29.20" fill="#fdeeec"/>
<rect x="188.63" y="509.50" width="4.91" height="29.20" fill="#fdf0ee"/>
<rect x="193.89" y="509.50" width="4.91" height="29.20" fill="#fef6f5"/>
<rect x="199.14" y="509.50" width="4.91" height="29.20" fill="#fdefed"/>
<rect x="204.40" y="509.50" width="4.91" height="29.20" fill="#fbe2de"/>
<rect x="209.65" y="509.50" width="4.91" height="29.20" fill="#fef4f3"/>
<rect x="214.91" y="509.50" width="4.91" height="29.20" fill="#fdf1ef"/>
<rect x="220.16" y="509.50" width="4.91" height="29.20" fill="#fef3f2"/>
<rect x="225.42" y="509.50" width="4.91" height="29.20" fill="#fdedeb"/>
<rect x="230.67" y="509.50" width="4.91" height="29.20" fill="#f2b4a5"/>
<rect x="235.93" y="509.50" width="4.91" height="29.20" fill="#fdefed"/>
<rect x="241.18" y="509.50" width="4.91" height="29.20" fill="#fbe2de"/>
<rect x="246.44" y="509.50" width="4.91" height="29.20" fill="#fef2f0"/>
<rect x="251.69" y="509.50" width="4.91" height="29.20" fill="#fdf0ee"/>
<rect x="256.95" y="509.50" width="4.91" height="29.20" fill="#fef3f2"/>
<rect x="262.21" y="509.50" width="4.91" height="29.20" fill="#fef2f0"/>
<rect x="267.46" y="509.50" width="4.91" height="29.20" fill="#fdf0ee"/>
<rect x="272.72" y="509.50" width="4.91" height="29.20" fill="#fef6f5"/>
<rect x="277.97" y="509.50" width="4.91" height="29.20" fill="#fef5f4"/>
<rect x="283.23" y="509.50" width="4.91" height="29.20" fill="#fdf0ee"/>
<rect x="288.48" y="509.50" width="4.91" height="29.20" fill="#fef3f2"/>
<rect x="293.74" y="509.50" width="4.91" height="29.20" fill="#fef3f1"/>
<rect x="298.99" y="509.50" width="4.91" height="29.20" fill="#fff7f6"/>
<rect x="304.25" y="509.50" width="4.91" height="29.20" fill="#fbe6e2"/>
<rect x="309.50" y="509.50" width="4.91" height="29.20" fill="#fdf0ee"/>
<rect x="314.76" y="509.50" width="4.91" height="29.20" fill="#fff8f8"/>
<rect x="320.01" y="509.50" width="4.91" height="29.20" fill="#fdeeec"/>
<rect x="325.27" y="509.50" width="4.91" height="29.20" fill="#fef1f0"/>
<rect x="330.52" y="509.50" width="4.91" height="29.20" fill="#fef5f5"/>
<rect x="335.78" y="509.50" width="4.91" height="29.20" fill="#fdeeec"/>
<rect x="341.03" y="509.50" width="4.91" height="29.20" fill="#fef2f1"/>
<rect x="346.29" y="509.50" width="4.91" height="29.20" fill="#fdedeb"/>
<rect x="351.54" y="509.50" width="4.91" height="29.20" fill="#fef4f3"/>
<rect x="356.80" y="509.50" width="4.91" height="29.20" fill="#fef5f5"/>
<rect x="362.05" y="509.50" width="4.91" height="29.20" fill="#fef3f2"/>
<rect x="367.31" y="509.50" width="4.91" height="29.20" fill="#fff7f6"/>
<rect x="372.56" y="509.50" width="4.91" height="29.20" fill="#fbe2de"/>
<rect x="377.82" y="509.50" width="4.91" height="29.20" fill="#fef5f4"/>
<rect x="383.07" y="509.50" width="4.91" height="29.20" fill="#fef3f2"/>
<rect x="388.33" y="509.50" width="4.91" height="29.20" fill="#fef3f2"/>
<rect x="393.58" y="509.50" width="4.91" height="29.20" fill="#fef2f0"/>
<rect x="398.84" y="509.50" width="4.91" height="29.20" fill="#fef6f6"/>
<rect x="404.09" y="509.50" width="4.91" height="29.20" fill="#fff7f7"/>
<rect x="409.35" y="509.50" width="4.91" height="29.20" fill="#fef2f1"/>
<rect x="414.60" y="509.50" width="4.91" height="29.20" fill="#fef4f3"/>
<rect x="419.86" y="509.50" width="4.91" height="29.20" fill="#fdedeb"/>
<rect x="425.11" y="509.50" width="4.91" height="29.20" fill="#fef5f4"/>
<rect x="430.37" y="509.50" width="4.91" height="29.20" fill="#fef4f3"/>
<rect x="435.62" y="509.50" width="4.91" height="29.20" fill="#fff8f8"/>
<rect x="440.88" y="509.50" width="4.91" height="29.20" fill="#fef6f5"/>
<rect x="446.13" y="509.50" width="4.91" height="29.20" fill="#fdf0ee"/>
<rect x="451.39" y="509.50" width="4.91" height="29.20" fill="#fdf1ef"/>
<rect x="456.64" y="509.50" width="4.91" height="29.20" fill="#fef4f3"/>
<text x="48.20" y="526.50" font-size="6.8" fill="#2e2e2e" text-anchor="end" stroke="#2e2e2e" stroke-width="0.16" textLength="22" lengthAdjust="spacingAndGlyphs">Sign.01</text>
<rect x="52.00" y="542.95" width="4.91" height="29.20" fill="#f1aa9a"/>
<rect x="57.26" y="542.95" width="4.91" height="29.20" fill="#fef2f0"/>
<rect x="62.51" y="542.95" width="4.91" height="29.20" fill="#f0a594"/>
<rect x="67.77" y="542.95" width="4.91" height="29.20" fill="#fdeeec"/>
<rect x="73.02" y="542.95" width="4.91" height="29.20" fill="#eb836c"/>
<rect x="78.28" y="542.95" width="4.91" height="29.20" fill="#ec8c76"/>
<rect x="83.53" y="542.95" width="4.91" height="29.20" fill="#fdeeec"/>
<rect x="88.79" y="542.95" width="4.91" height="29.20" fill="#f6cac0"/>
<rect x="94.04" y="542.95" width="4.91" height="29.20" fill="#fef1f0"/>
<rect x="99.30" y="542.95" width="4.91" height="29.20" fill="#fff7f6"/>
<rect x="104.55" y="542.95" width="4.91" height="29.20" fill="#fdeeeb"/>
<rect x="109.81" y="542.95" width="4.91" height="29.20" fill="#fef2f0"/>
<rect x="115.06" y="542.95" width="4.91" height="29.20" fill="#fef3f2"/>
<rect x="120.32" y="542.95" width="4.91" height="29.20" fill="#fadfd9"/>
<rect x="125.57" y="542.95" width="4.91" height="29.20" fill="#fef6f5"/>
<rect x="130.83" y="542.95" width="4.91" height="29.20" fill="#fff7f6"/>
<rect x="136.08" y="542.95" width="4.91" height="29.20" fill="#f5c3b7"/>
<rect x="141.34" y="542.95" width="4.91" height="29.20" fill="#faddd7"/>
<rect x="146.59" y="542.95" width="4.91" height="29.20" fill="#fdf1ef"/>
<rect x="151.85" y="542.95" width="4.91" height="29.20" fill="#fff7f6"/>
<rect x="157.10" y="542.95" width="4.91" height="29.20" fill="#f1aa9a"/>
<rect x="162.36" y="542.95" width="4.91" height="29.20" fill="#fdeeec"/>
<rect x="167.61" y="542.95" width="4.91" height="29.20" fill="#fdefed"/>
<rect x="172.87" y="542.95" width="4.91" height="29.20" fill="#fdefed"/>
<rect x="178.12" y="542.95" width="4.91" height="29.20" fill="#fdefed"/>
<rect x="183.38" y="542.95" width="4.91" height="29.20" fill="#f7d0c7"/>
<rect x="188.63" y="542.95" width="4.91" height="29.20" fill="#fef3f2"/>
<rect x="193.89" y="542.95" width="4.91" height="29.20" fill="#fdf0ee"/>
<rect x="199.14" y="542.95" width="4.91" height="29.20" fill="#fdedea"/>
<rect x="204.40" y="542.95" width="4.91" height="29.20" fill="#f4beb1"/>
<rect x="209.65" y="542.95" width="4.91" height="29.20" fill="#fdf1ef"/>
<rect x="214.91" y="542.95" width="4.91" height="29.20" fill="#f3b9ab"/>
<rect x="220.16" y="542.95" width="4.91" height="29.20" fill="#f8d3cb"/>
<rect x="225.42" y="542.95" width="4.91" height="29.20" fill="#fef5f4"/>
<rect x="230.67" y="542.95" width="4.91" height="29.20" fill="#fef3f1"/>
<rect x="235.93" y="542.95" width="4.91" height="29.20" fill="#fef4f3"/>
<rect x="241.18" y="542.95" width="4.91" height="29.20" fill="#f4beb1"/>
<rect x="246.44" y="542.95" width="4.91" height="29.20" fill="#faddd7"/>
<rect x="251.69" y="542.95" width="4.91" height="29.20" fill="#f2b1a2"/>
<rect x="256.95" y="542.95" width="4.91" height="29.20" fill="#fef6f5"/>
<rect x="262.21" y="542.95" width="4.91" height="29.20" fill="#fff7f6"/>
<rect x="267.46" y="542.95" width="4.91" height="29.20" fill="#fef6f5"/>
<rect x="272.72" y="542.95" width="4.91" height="29.20" fill="#fef1f0"/>
<rect x="277.97" y="542.95" width="4.91" height="29.20" fill="#fef1f0"/>
<rect x="283.23" y="542.95" width="4.91" height="29.20" fill="#fdeeec"/>
<rect x="288.48" y="542.95" width="4.91" height="29.20" fill="#fadfd9"/>
<rect x="293.74" y="542.95" width="4.91" height="29.20" fill="#f2b1a2"/>
<rect x="298.99" y="542.95" width="4.91" height="29.20" fill="#f9dbd5"/>
<rect x="304.25" y="542.95" width="4.91" height="29.20" fill="#f6c8bd"/>
<rect x="309.50" y="542.95" width="4.91" height="29.20" fill="#fdefec"/>
<rect x="314.76" y="542.95" width="4.91" height="29.20" fill="#f2b4a5"/>
<rect x="320.01" y="542.95" width="4.91" height="29.20" fill="#fdedeb"/>
<rect x="325.27" y="542.95" width="4.91" height="29.20" fill="#f2af9f"/>
<rect x="330.52" y="542.95" width="4.91" height="29.20" fill="#fdeeec"/>
<rect x="335.78" y="542.95" width="4.91" height="29.20" fill="#fdeeec"/>
<rect x="341.03" y="542.95" width="4.91" height="29.20" fill="#fdf1ef"/>
<rect x="346.29" y="542.95" width="4.91" height="29.20" fill="#fdedeb"/>
<rect x="351.54" y="542.95" width="4.91" height="29.20" fill="#fff7f6"/>
<rect x="356.80" y="542.95" width="4.91" height="29.20" fill="#fef4f3"/>
<rect x="362.05" y="542.95" width="4.91" height="29.20" fill="#fdeeec"/>
<rect x="367.31" y="542.95" width="4.91" height="29.20" fill="#f6cac0"/>
<rect x="372.56" y="542.95" width="4.91" height="29.20" fill="#fdf1ef"/>
<rect x="377.82" y="542.95" width="4.91" height="29.20" fill="#fdf1ef"/>
<rect x="383.07" y="542.95" width="4.91" height="29.20" fill="#fdeeec"/>
<rect x="388.33" y="542.95" width="4.91" height="29.20" fill="#fef6f6"/>
<rect x="393.58" y="542.95" width="4.91" height="29.20" fill="#fff8f8"/>
<rect x="398.84" y="542.95" width="4.91" height="29.20" fill="#fef2f1"/>
<rect x="404.09" y="542.95" width="4.91" height="29.20" fill="#f6c8bd"/>
<rect x="409.35" y="542.95" width="4.91" height="29.20" fill="#fdeeeb"/>
<rect x="414.60" y="542.95" width="4.91" height="29.20" fill="#fdeeec"/>
<rect x="419.86" y="542.95" width="4.91" height="29.20" fill="#f2af9f"/>
<rect x="425.11" y="542.95" width="4.91" height="29.20" fill="#fdf0ee"/>
<rect x="430.37" y="542.95" width="4.91" height="29.20" fill="#f4beb1"/>
<rect x="435.62" y="542.95" width="4.91" height="29.20" fill="#fdefec"/>
<rect x="440.88" y="542.95" width="4.91" height="29.20" fill="#fdedea"/>
<rect x="446.13" y="542.95" width="4.91" height="29.20" fill="#f2af9f"/>
<rect x="451.39" y="542.95" width="4.91" height="29.20" fill="#fef3f1"/>
<rect x="456.64" y="542.95" width="4.91" height="29.20" fill="#f4beb1"/>
<text x="48.20" y="559.95" font-size="6.8" fill="#2e2e2e" text-anchor="end" stroke="#2e2e2e" stroke-width="0.16" textLength="22" lengthAdjust="spacingAndGlyphs">Sign.02</text>
<rect x="52.00" y="576.40" width="4.91" height="29.20" fill="#e9735b"/>
<rect x="57.26" y="576.40" width="4.91" height="29.20" fill="#fdedeb"/>
<rect x="62.51" y="576.40" width="4.91" height="29.20" fill="#faddd7"/>
<rect x="67.77" y="576.40" width="4.91" height="29.20" fill="#fff8f8"/>
<rect x="73.02" y="576.40" width="4.91" height="29.20" fill="#ed917c"/>
<rect x="78.28" y="576.40" width="4.91" height="29.20" fill="#e86c53"/>
<rect x="83.53" y="576.40" width="4.91" height="29.20" fill="#fdf0ee"/>
<rect x="88.79" y="576.40" width="4.91" height="29.20" fill="#fbe6e2"/>
<rect x="94.04" y="576.40" width="4.91" height="29.20" fill="#fdefec"/>
<rect x="99.30" y="576.40" width="4.91" height="29.20" fill="#fef5f5"/>
<rect x="104.55" y="576.40" width="4.91" height="29.20" fill="#fef3f1"/>
<rect x="109.81" y="576.40" width="4.91" height="29.20" fill="#fef6f5"/>
<rect x="115.06" y="576.40" width="4.91" height="29.20" fill="#fdf0ef"/>
<rect x="120.32" y="576.40" width="4.91" height="29.20" fill="#fdefed"/>
<rect x="125.57" y="576.40" width="4.91" height="29.20" fill="#fef6f5"/>
<rect x="130.83" y="576.40" width="4.91" height="29.20" fill="#fff8f8"/>
<rect x="136.08" y="576.40" width="4.91" height="29.20" fill="#fadfd9"/>
<rect x="141.34" y="576.40" width="4.91" height="29.20" fill="#fef6f5"/>
<rect x="146.59" y="576.40" width="4.91" height="29.20" fill="#fef6f5"/>
<rect x="151.85" y="576.40" width="4.91" height="29.20" fill="#fef5f4"/>
<rect x="157.10" y="576.40" width="4.91" height="29.20" fill="#f0a594"/>
<rect x="162.36" y="576.40" width="4.91" height="29.20" fill="#fef3f1"/>
<rect x="167.61" y="576.40" width="4.91" height="29.20" fill="#fdf1ef"/>
<rect x="172.87" y="576.40" width="4.91" height="29.20" fill="#fdedeb"/>
<rect x="178.12" y="576.40" width="4.91" height="29.20" fill="#fdedeb"/>
<rect x="183.38" y="576.40" width="4.91" height="29.20" fill="#f9d7d0"/>
<rect x="188.63" y="576.40" width="4.91" height="29.20" fill="#fdf0ee"/>
<rect x="193.89" y="576.40" width="4.91" height="29.20" fill="#fef5f4"/>
<rect x="199.14" y="576.40" width="4.91" height="29.20" fill="#fff8f7"/>
<rect x="204.40" y="576.40" width="4.91" height="29.20" fill="#f8d3cb"/>
<rect x="209.65" y="576.40" width="4.91" height="29.20" fill="#fff7f7"/>
<rect x="214.91" y="576.40" width="4.91" height="29.20" fill="#f6ccc2"/>
<rect x="220.16" y="576.40" width="4.91" height="29.20" fill="#fff8f7"/>
<rect x="225.42" y="576.40" width="4.91" height="29.20" fill="#fdf1ef"/>
<rect x="230.67" y="576.40" width="4.91" height="29.20" fill="#fdefed"/>
<rect x="235.93" y="576.40" width="4.91" height="29.20" fill="#fdefed"/>
<rect x="241.18" y="576.40" width="4.91" height="29.20" fill="#faddd7"/>
<rect x="246.44" y="576.40" width="4.91" height="29.20" fill="#fdefed"/>
<rect x="251.69" y="576.40" width="4.91" height="29.20" fill="#f8d3cb"/>
<rect x="256.95" y="576.40" width="4.91" height="29.20" fill="#fff7f6"/>
<rect x="262.21" y="576.40" width="4.91" height="29.20" fill="#fef6f6"/>
<rect x="267.46" y="576.40" width="4.91" height="29.20" fill="#fef2f1"/>
<rect x="272.72" y="576.40" width="4.91" height="29.20" fill="#fef4f3"/>
<rect x="277.97" y="576.40" width="4.91" height="29.20" fill="#fef6f5"/>
<rect x="283.23" y="576.40" width="4.91" height="29.20" fill="#fdeeeb"/>
<rect x="288.48" y="576.40" width="4.91" height="29.20" fill="#fef4f3"/>
<rect x="293.74" y="576.40" width="4.91" height="29.20" fill="#f7d0c7"/>
<rect x="298.99" y="576.40" width="4.91" height="29.20" fill="#fef6f5"/>
<rect x="304.25" y="576.40" width="4.91" height="29.20" fill="#faddd7"/>
<rect x="309.50" y="576.40" width="4.91" height="29.20" fill="#fef2f1"/>
<rect x="314.76" y="576.40" width="4.91" height="29.20" fill="#f0a594"/>
<rect x="320.01" y="576.40" width="4.91" height="29.20" fill="#fef6f5"/>
<rect x="325.27" y="576.40" width="4.91" height="29.20" fill="#faddd7"/>
<rect x="330.52" y="576.40" width="4.91" height="29.20" fill="#fef6f5"/>
<rect x="335.78" y="576.40" width="4.91" height="29.20" fill="#fff8f7"/>
<rect x="341.03" y="576.40" width="4.91" height="29.20" fill="#fef1f0"/>
<rect x="346.29" y="576.40" width="4.91" height="29.20" fill="#fef1f0"/>
<rect x="351.54" y="576.40" width="4.91" height="29.20" fill="#fff7f7"/>
<rect x="356.80" y="576.40" width="4.91" height="29.20" fill="#fef5f4"/>
<rect x="362.05" y="576.40" width="4.91" height="29.20" fill="#fdefed"/>
<rect x="367.31" y="576.40" width="4.91" height="29.20" fill="#fadfd9"/>
<rect x="372.56" y="576.40" width="4.91" height="29.20" fill="#fdeeec"/>
<rect x="377.82" y="576.40" width="4.91" height="29.20" fill="#fff7f7"/>
<rect x="383.07" y="576.40" width="4.91" height="29.20" fill="#fef6f5"/>
<rect x="388.33" y="576.40" width="4.91" height="29.20" fill="#fdeeec"/>
<rect x="393.58" y="576.40" width="4.91" height="29.20" fill="#fef6f5"/>
<rect x="398.84" y="576.40" width="4.91" height="29.20" fill="#fff8f8"/>
<rect x="404.09" y="576.40" width="4.91" height="29.20" fill="#f9dbd5"/>
<rect x="409.35" y="576.40" width="4.91" height="29.20" fill="#fdf1ef"/>
<rect x="414.60" y="576.40" width="4.91" height="29.20" fill="#fef3f2"/>
<rect x="419.86" y="576.40" width="4.91" height="29.20" fill="#e87159"/>
<rect x="425.11" y="576.40" width="4.91" height="29.20" fill="#fdedea"/>
<rect x="430.37" y="576.40" width="4.91" height="29.20" fill="#faddd7"/>
<rect x="435.62" y="576.40" width="4.91" height="29.20" fill="#fef4f3"/>
<rect x="440.88" y="576.40" width="4.91" height="29.20" fill="#fef3f1"/>
<rect x="446.13" y="576.40" width="4.91" height="29.20" fill="#f7d0c7"/>
<rect x="451.39" y="576.40" width="4.91" height="29.20" fill="#fef2f0"/>
<rect x="456.64" y="576.40" width="4.91" height="29.20" fill="#f8d3cb"/>
<text x="48.20" y="593.40" font-size="6.8" fill="#2e2e2e" text-anchor="end" stroke="#2e2e2e" stroke-width="0.16" textLength="22" lengthAdjust="spacingAndGlyphs">Sign.03</text>
<rect x="52.00" y="609.85" width="4.91" height="29.20" fill="#e76850"/>
<rect x="57.26" y="609.85" width="4.91" height="29.20" fill="#fdefed"/>
<rect x="62.51" y="609.85" width="4.91" height="29.20" fill="#f6ccc2"/>
<rect x="67.77" y="609.85" width="4.91" height="29.20" fill="#fdf0ee"/>
<rect x="73.02" y="609.85" width="4.91" height="29.20" fill="#ec8c76"/>
<rect x="78.28" y="609.85" width="4.91" height="29.20" fill="#e86d55"/>
<rect x="83.53" y="609.85" width="4.91" height="29.20" fill="#fdf0ee"/>
<rect x="88.79" y="609.85" width="4.91" height="29.20" fill="#f9dbd5"/>
<rect x="94.04" y="609.85" width="4.91" height="29.20" fill="#fdeeec"/>
<rect x="99.30" y="609.85" width="4.91" height="29.20" fill="#fff7f7"/>
<rect x="104.55" y="609.85" width="4.91" height="29.20" fill="#fdf1ef"/>
<rect x="109.81" y="609.85" width="4.91" height="29.20" fill="#fef2f0"/>
<rect x="115.06" y="609.85" width="4.91" height="29.20" fill="#fef3f2"/>
<rect x="120.32" y="609.85" width="4.91" height="29.20" fill="#fff7f7"/>
<rect x="125.57" y="609.85" width="4.91" height="29.20" fill="#fef2f0"/>
<rect x="130.83" y="609.85" width="4.91" height="29.20" fill="#fff7f7"/>
<rect x="136.08" y="609.85" width="4.91" height="29.20" fill="#f8d3cb"/>
<rect x="141.34" y="609.85" width="4.91" height="29.20" fill="#fef3f1"/>
<rect x="146.59" y="609.85" width="4.91" height="29.20" fill="#fef3f1"/>
<rect x="151.85" y="609.85" width="4.91" height="29.20" fill="#fdedea"/>
<rect x="157.10" y="609.85" width="4.91" height="29.20" fill="#ee9885"/>
<rect x="162.36" y="609.85" width="4.91" height="29.20" fill="#fdefed"/>
<rect x="167.61" y="609.85" width="4.91" height="29.20" fill="#fdedea"/>
<rect x="172.87" y="609.85" width="4.91" height="29.20" fill="#fef6f5"/>
<rect x="178.12" y="609.85" width="4.91" height="29.20" fill="#fdefed"/>
<rect x="183.38" y="609.85" width="4.91" height="29.20" fill="#f9d7d0"/>
<rect x="188.63" y="609.85" width="4.91" height="29.20" fill="#fef5f4"/>
<rect x="193.89" y="609.85" width="4.91" height="29.20" fill="#fef3f2"/>
<rect x="199.14" y="609.85" width="4.91" height="29.20" fill="#fdf0ef"/>
<rect x="204.40" y="609.85" width="4.91" height="29.20" fill="#f4beb1"/>
<rect x="209.65" y="609.85" width="4.91" height="29.20" fill="#fef3f2"/>
<rect x="214.91" y="609.85" width="4.91" height="29.20" fill="#f4beb1"/>
<rect x="220.16" y="609.85" width="4.91" height="29.20" fill="#fdeeec"/>
<rect x="225.42" y="609.85" width="4.91" height="29.20" fill="#fef3f2"/>
<rect x="230.67" y="609.85" width="4.91" height="29.20" fill="#fdf0ee"/>
<rect x="235.93" y="609.85" width="4.91" height="29.20" fill="#fdf0ee"/>
<rect x="241.18" y="609.85" width="4.91" height="29.20" fill="#f6c8bd"/>
<rect x="246.44" y="609.85" width="4.91" height="29.20" fill="#f8d3cb"/>
<rect x="251.69" y="609.85" width="4.91" height="29.20" fill="#f4beb1"/>
<rect x="256.95" y="609.85" width="4.91" height="29.20" fill="#fef5f5"/>
<rect x="262.21" y="609.85" width="4.91" height="29.20" fill="#fff7f7"/>
<rect x="267.46" y="609.85" width="4.91" height="29.20" fill="#fef2f0"/>
<rect x="272.72" y="609.85" width="4.91" height="29.20" fill="#fef4f3"/>
<rect x="277.97" y="609.85" width="4.91" height="29.20" fill="#fef2f1"/>
<rect x="283.23" y="609.85" width="4.91" height="29.20" fill="#fef3f1"/>
<rect x="288.48" y="609.85" width="4.91" height="29.20" fill="#fef5f4"/>
<rect x="293.74" y="609.85" width="4.91" height="29.20" fill="#f4beb1"/>
<rect x="298.99" y="609.85" width="4.91" height="29.20" fill="#f8d3cb"/>
<rect x="304.25" y="609.85" width="4.91" height="29.20" fill="#f6cac0"/>
<rect x="309.50" y="609.85" width="4.91" height="29.20" fill="#fff7f7"/>
<rect x="314.76" y="609.85" width="4.91" height="29.20" fill="#f4beb1"/>
<rect x="320.01" y="609.85" width="4.91" height="29.20" fill="#fff7f6"/>
<rect x="325.27" y="609.85" width="4.91" height="29.20" fill="#f9dbd5"/>
<rect x="330.52" y="609.85" width="4.91" height="29.20" fill="#fdf0ee"/>
<rect x="335.78" y="609.85" width="4.91" height="29.20" fill="#fef3f2"/>
<rect x="341.03" y="609.85" width="4.91" height="29.20" fill="#fff7f7"/>
<rect x="346.29" y="609.85" width="4.91" height="29.20" fill="#fef6f6"/>
<rect x="351.54" y="609.85" width="4.91" height="29.20" fill="#fdeeec"/>
<rect x="356.80" y="609.85" width="4.91" height="29.20" fill="#fdeeec"/>
<rect x="362.05" y="609.85" width="4.91" height="29.20" fill="#fef2f0"/>
<rect x="367.31" y="609.85" width="4.91" height="29.20" fill="#f9dbd5"/>
<rect x="372.56" y="609.85" width="4.91" height="29.20" fill="#fdefed"/>
<rect x="377.82" y="609.85" width="4.91" height="29.20" fill="#fdeeeb"/>
<rect x="383.07" y="609.85" width="4.91" height="29.20" fill="#fef4f3"/>
<rect x="388.33" y="609.85" width="4.91" height="29.20" fill="#fef6f5"/>
<rect x="393.58" y="609.85" width="4.91" height="29.20" fill="#fff7f6"/>
<rect x="398.84" y="609.85" width="4.91" height="29.20" fill="#fdefec"/>
<rect x="404.09" y="609.85" width="4.91" height="29.20" fill="#f8d3cb"/>
<rect x="409.35" y="609.85" width="4.91" height="29.20" fill="#fef4f3"/>
<rect x="414.60" y="609.85" width="4.91" height="29.20" fill="#fdeeec"/>
<rect x="419.86" y="609.85" width="4.91" height="29.20" fill="#e9765f"/>
<rect x="425.11" y="609.85" width="4.91" height="29.20" fill="#fff8f7"/>
<rect x="430.37" y="609.85" width="4.91" height="29.20" fill="#f8d3cb"/>
<rect x="435.62" y="609.85" width="4.91" height="29.20" fill="#fff8f7"/>
<rect x="440.88" y="609.85" width="4.91" height="29.20" fill="#fef1f0"/>
<rect x="446.13" y="609.85" width="4.91" height="29.20" fill="#f4beb1"/>
<rect x="451.39" y="609.85" width="4.91" height="29.20" fill="#fff8f8"/>
<rect x="456.64" y="609.85" width="4.91" height="29.20" fill="#f6cac0"/>
<text x="48.20" y="626.85" font-size="6.8" fill="#2e2e2e" text-anchor="end" stroke="#2e2e2e" stroke-width="0.16" textLength="22" lengthAdjust="spacingAndGlyphs">Sign.04</text>
<text x="56.03" y="642.30" font-size="4.6" fill="#4a4a4a" text-anchor="end" stroke="#4a4a4a" stroke-width="0.16" textLength="12.4" lengthAdjust="spacingAndGlyphs" transform="rotate(-90 56.03 642.30)">SBS1</text>
<text x="61.28" y="642.30" font-size="4.6" fill="#4a4a4a" text-anchor="end" stroke="#4a4a4a" stroke-width="0.16" textLength="12.4" lengthAdjust="spacingAndGlyphs" transform="rotate(-90 61.28 642.30)">SBS2</text>
<text x="66.54" y="642.30" font-size="4.6" fill="#4a4a4a" text-anchor="end" stroke="#4a4a4a" stroke-width="0.16" textLength="12.4" lengthAdjust="spacingAndGlyphs" transform="rotate(-90 66.54 642.30)">SBS3</text>
<text x="71.79" y="642.30" font-size="4.6" fill="#4a4a4a" text-anchor="end" stroke="#4a4a4a" stroke-width="0.16" textLength="12.4" lengthAdjust="spacingAndGlyphs" transform="rotate(-90 71.79 642.30)">SBS4</text>
<text x="77.05" y="642.30" font-size="4.6" fill="#4a4a4a" text-anchor="end" stroke="#4a4a4a" stroke-width="0.16" textLength="12.4" lengthAdjust="spacingAndGlyphs" transform="rotate(-90 77.05 642.30)">SBS5</text>
<text x="82.30" y="642.30" font-size="4.6" fill="#4a4a4a" text-anchor="end" stroke="#4a4a4a" stroke-width="0.16" textLength="12.4" lengthAdjust="spacingAndGlyphs" transform="rotate(-90 82.30 642.30)">SBS6</text>
<text x="87.56" y="642.30" font-size="4.6" fill="#4a4a4a" text-anchor="end" stroke="#4a4a4a" stroke-width="0.16" textLength="15.5" lengthAdjust="spacingAndGlyphs" transform="rotate(-90 87.56 642.30)">SBS7a</text>
<text x="92.81" y="642.30" font-size="4.6" fill="#4a4a4a" text-anchor="end" stroke="#4a4a4a" stroke-width="0.16" textLength="15.5" lengthAdjust="spacingAndGlyphs" transform="rotate(-90 92.81 642.30)">SBS7b</text>
<text x="98.07" y="642.30" font-size="4.6" fill="#4a4a4a" text-anchor="end" stroke="#4a4a4a" stroke-width="0.16" textLength="15.5" lengthAdjust="spacingAndGlyphs" transform="rotate(-90 98.07 642.30)">SBS7c</text>
<text x="103.32" y="642.30" font-size="4.6" fill="#4a4a4a" text-anchor="end" stroke="#4a4a4a" stroke-width="0.16" textLength="15.5" lengthAdjust="spacingAndGlyphs" transform="rotate(-90 103.32 642.30)">SBS7d</text>
<text x="108.58" y="642.30" font-size="4.6" fill="#4a4a4a" text-anchor="end" stroke="#4a4a4a" stroke-width="0.16" textLength="12.4" lengthAdjust="spacingAndGlyphs" transform="rotate(-90 108.58 642.30)">SBS8</text>
<text x="113.83" y="642.30" font-size="4.6" fill="#4a4a4a" text-anchor="end" stroke="#4a4a4a" stroke-width="0.16" textLength="12.4" lengthAdjust="spacingAndGlyphs" transform="rotate(-90 113.83 642.30)">SBS9</text>
<text x="119.09" y="642.30" font-size="4.6" fill="#4a4a4a" text-anchor="end" stroke="#4a4a4a" stroke-width="0.16" textLength="18.6" lengthAdjust="spacingAndGlyphs" transform="rotate(-90 119.09 642.30)">SBS10a</text>
<text x="124.34" y="642.30" font-size="4.6" fill="#4a4a4a" text-anchor="end" stroke="#4a4a4a" stroke-width="0.16" textLength="18.6" lengthAdjust="spacingAndGlyphs" transform="rotate(-90 124.34 642.30)">SBS10b</text>
<text x="129.60" y="642.30" font-size="4.6" fill="#4a4a4a" text-anchor="end" stroke="#4a4a4a" stroke-width="0.16" textLength="18.6" lengthAdjust="spacingAndGlyphs" transform="rotate(-90 129.60 642.30)">SBS10c</text>
<text x="134.85" y="642.30" font-size="4.6" fill="#4a4a4a" text-anchor="end" stroke="#4a4a4a" stroke-width="0.16" textLength="18.6" lengthAdjust="spacingAndGlyphs" transform="rotate(-90 134.85 642.30)">SBS10d</text>
<text x="140.11" y="642.30" font-size="4.6" fill="#4a4a4a" text-anchor="end" stroke="#4a4a4a" stroke-width="0.16" textLength="15.5" lengthAdjust="spacingAndGlyphs" transform="rotate(-90 140.11 642.30)">SBS11</text>
<text x="145.36" y="642.30" font-size="4.6" fill="#4a4a4a" text-anchor="end" stroke="#4a4a4a" stroke-width="0.16" textLength="15.5" lengthAdjust="spacingAndGlyphs" transform="rotate(-90 145.36 642.30)">SBS12</text>
<text x="150.62" y="642.30" font-size="4.6" fill="#4a4a4a" text-anchor="end" stroke="#4a4a4a" stroke-width="0.16" textLength="15.5" lengthAdjust="spacingAndGlyphs" transform="rotate(-90 150.62 642.30)">SBS13</text>
<text x="155.88" y="642.30" font-size="4.6" fill="#4a4a4a" text-anchor="end" stroke="#4a4a4a" stroke-width="0.16" textLength="15.5" lengthAdjust="spacingAndGlyphs" transform="rotate(-90 155.88 642.30)">SBS14</text>
<text x="161.13" y="642.30" font-size="4.6" fill="#4a4a4a" text-anchor="end" stroke="#4a4a4a" stroke-width="0.16" textLength="15.5" lengthAdjust="spacingAndGlyphs" transform="rotate(-90 161.13 642.30)">SBS15</text>
<text x="166.39" y="642.30" font-size="4.6" fill="#4a4a4a" text-anchor="end" stroke="#4a4a4a" stroke-width="0.16" textLength="15.5" lengthAdjust="spacingAndGlyphs" transform="rotate(-90 166.39 642.30)">SBS16</text>
<text x="171.64" y="642.30" font-size="4.6" fill="#4a4a4a" text-anchor="end" stroke="#4a4a4a" stroke-width="0.16" textLength="18.6" lengthAdjust="spacingAndGlyphs" transform="rotate(-90 171.64 642.30)">SBS17a</text>
<text x="176.90" y="642.30" font-size="4.6" fill="#4a4a4a" text-anchor="end" stroke="#4a4a4a" stroke-width="0.16" textLength="18.6" lengthAdjust="spacingAndGlyphs" transform="rotate(-90 176.90 642.30)">SBS17b</text>
<text x="182.15" y="642.30" font-size="4.6" fill="#4a4a4a" text-anchor="end" stroke="#4a4a4a" stroke-width="0.16" textLength="15.5" lengthAdjust="spacingAndGlyphs" transform="rotate(-90 182.15 642.30)">SBS18</text>
<text x="187.41" y="642.30" font-size="4.6" fill="#4a4a4a" text-anchor="end" stroke="#4a4a4a" stroke-width="0.16" textLength="15.5" lengthAdjust="spacingAndGlyphs" transform="rotate(-90 187.41 642.30)">SBS19</text>
<text x="192.66" y="642.30" font-size="4.6" fill="#4a4a4a" text-anchor="end" stroke="#4a4a4a" stroke-width="0.16" textLength="15.5" lengthAdjust="spacingAndGlyphs" transform="rotate(-90 192.66 642.30)">SBS20</text>
<text x="197.92" y="642.30" font-size="4.6" fill="#4a4a4a" text-anchor="end" stroke="#4a4a4a" stroke-width="0.16" textLength="15.5" lengthAdjust="spacingAndGlyphs" transform="rotate(-90 197.92 642.30)">SBS21</text>
<text x="203.17" y="642.30" font-size="4.6" fill="#4a4a4a" text-anchor="end" stroke="#4a4a4a" stroke-width="0.16" textLength="15.5" lengthAdjust="spacingAndGlyphs" transform="rotate(-90 203.17 642.30)">SBS22</text>
<text x="208.43" y="642.30" font-size="4.6" fill="#4a4a4a" text-anchor="end" stroke="#4a4a4a" stroke-width="0.16" textLength="15.5" lengthAdjust="spacingAndGlyphs" transform="rotate(-90 208.43 642.30)">SBS23</text>
<text x="213.68" y="642.30" font-size="4.6" fill="#4a4a4a" text-anchor="end" stroke="#4a4a4a" stroke-width="0.16" textLength="15.5" lengthAdjust="spacingAndGlyphs" transform="rotate(-90 213.68 642.30)">SBS24</text>
<text x="218.94" y="642.30" font-size="4.6" fill="#4a4a4a" text-anchor="end" stroke="#4a4a4a" stroke-width="0.16" textLength="15.5" lengthAdjust="spacingAndGlyphs" transform="rotate(-90 218.94 642.30)">SBS25</text>
<text x="224.19" y="642.30" font-size="4.6" fill="#4a4a4a" text-anchor="end" stroke="#4a4a4a" stroke-width="0.16" textLength="15.5" lengthAdjust="spacingAndGlyphs" transform="rotate(-90 224.19 642.30)">SBS26</text>
<text x="229.45" y="642.30" font-size="4.6" fill="#4a4a4a" text-anchor="end" stroke="#4a4a4a" stroke-width="0.16" textLength="15.5" lengthAdjust="spacingAndGlyphs" transform="rotate(-90 229.45 642.30)">SBS27</text>
<text x="234.70" y="642.30" font-size="4.6" fill="#4a4a4a" text-anchor="end" stroke="#4a4a4a" stroke-width="0.16" textLength="15.5" lengthAdjust="spacingAndGlyphs" transform="rotate(-90 234.70 642.30)">SBS28</text>
<text x="239.96" y="642.30" font-size="4.6" fill="#4a4a4a" text-anchor="end" stroke="#4a4a4a" stroke-width="0.16" textLength="15.5" lengthAdjust="spacingAndGlyphs" transform="rotate(-90 239.96 642.30)">SBS29</text>
<text x="245.21" y="642.30" font-size="4.6" fill="#4a4a4a" text-anchor="end" stroke="#4a4a4a" stroke-width="0.16" textLength="15.5" lengthAdjust="spacingAndGlyphs" transform="rotate(-90 245.21 642.30)">SBS30</text>
<text x="250.47" y="642.30" font-size="4.6" fill="#4a4a4a" text-anchor="end" stroke="#4a4a4a" stroke-width="0.16" textLength="15.5" lengthAdjust="spacingAndGlyphs" transform="rotate(-90 250.47 642.30)">SBS31</text>
<text x="255.72" y="642.30" font-size="4.6" fill="#4a4a4a" text-anchor="end" stroke="#4a4a4a" stroke-width="0.16" textLength="15.5" lengthAdjust="spacingAndGlyphs" transform="rotate(-90 255.72 642.30)">SBS32</text>
<text x="260.98" y="642.30" font-size="4.6" fill="#4a4a4a" text-anchor="end" stroke="#4a4a4a" stroke-width="0.16" textLength="15.5" lengthAdjust="spacingAndGlyphs" transform="rotate(-90 260.98 642.30)">SBS33</text>
<text x="266.23" y="642.30" font-size="4.6" fill="#4a4a4a" text-anchor="end" stroke="#4a4a4a" stroke-width="0.16" textLength="15.5" lengthAdjust="spacingAndGlyphs" transform="rotate(-90 266.23 642.30)">SBS34</text>
<text x="271.49" y="642.30" font-size="4.6" fill="#4a4a4a" text-anchor="end" stroke="#4a4a4a" stroke-width="0.16" textLength="15.5" lengthAdjust="spacingAndGlyphs" transform="rotate(-90 271.49 642.30)">SBS35</text>
<text x="276.74" y="642.30" font-size="4.6" fill="#4a4a4a" text-anchor="end" stroke="#4a4a4a" stroke-width="0.16" textLength="15.5" lengthAdjust="spacingAndGlyphs" transform="rotate(-90 276.74 642.30)">SBS36</text>
<text x="282.00" y="642.30" font-size="4.6" fill="#4a4a4a" text-anchor="end" stroke="#4a4a4a" stroke-width="0.16" textLength="15.5" lengthAdjust="spacingAndGlyphs" transform="rotate(-90 282.00 642.30)">SBS37</text>
<text x="287.25" y="642.30" font-size="4.6" fill="#4a4a4a" text-anchor="end" stroke="#4a4a4a" stroke-width="0.16" textLength="15.5" lengthAdjust="spacingAndGlyphs" transform="rotate(-90 287.25 642.30)">SBS38</text>
<text x="292.51" y="642.30" font-size="4.6" fill="#4a4a4a" text-anchor="end" stroke="#4a4a4a" stroke-width="0.16" textLength="15.5" lengthAdjust="spacingAndGlyphs" transform="rotate(-90 292.51 642.30)">SBS39</text>
<text x="297.76" y="642.30" font-size="4.6" fill="#4a4a4a" text-anchor="end" stroke="#4a4a4a" stroke-width="0.16" textLength="15.5" lengthAdjust="spacingAndGlyphs" transform="rotate(-90 297.76 642.30)">SBS40</text>
<text x="303.02" y="642.30" font-size="4.6" fill="#4a4a4a" text-anchor="end" stroke="#4a4a4a" stroke-width="0.16" textLength="15.5" lengthAdjust="spacingAndGlyphs" transform="rotate(-90 303.02 642.30)">SBS41</text>
<text x="308.27" y="642.30" font-size="4.6" fill="#4a4a4a" text-anchor="end" stroke="#4a4a4a" stroke-width="0.16" textLength="15.5" lengthAdjust="spacingAndGlyphs" transform="rotate(-90 308.27 642.30)">SBS42</text>
<text x="313.53" y="642.30" font-size="4.6" fill="#4a4a4a" text-anchor="end" stroke="#4a4a4a" stroke-width="0.16" textLength="15.5" lengthAdjust="spacingAndGlyphs" transform="rotate(-90 313.53 642.30)">SBS43</text>
<text x="318.78" y="642.30" font-size="4.6" fill="#4a4a4a" text-anchor="end" stroke="#4a4a4a" stroke-width="0.16" textLength="15.5" lengthAdjust="spacingAndGlyphs" transform="rotate(-90 318.78 642.30)">SBS44</text>
<text x="324.04" y="642.30" font-size="4.6" fill="#4a4a4a" text-anchor="end" stroke="#4a4a4a" stroke-width="0.16" textLength="15.5" lengthAdjust="spacingAndGlyphs" transform="rotate(-90 324.04 642.30)">SBS45</text>
<text x="329.29" y="642.30" font-size="4.6" fill="#4a4a4a" text-anchor="end" stroke="#4a4a4a" stroke-width="0.16" textLength="15.5" lengthAdjust="spacingAndGlyphs" transform="rotate(-90 329.29 642.30)">SBS46</text>
<text x="334.55" y="642.30" font-size="4.6" fill="#4a4a4a" text-anchor="end" stroke="#4a4a4a" stroke-width="0.16" textLength="15.5" lengthAdjust="spacingAndGlyphs" transform="rotate(-90 334.55 642.30)">SBS47</text>
<text x="339.80" y="642.30" font-size="4.6" fill="#4a4a4a" text-anchor="end" stroke="#4a4a4a" stroke-width="0.16" textLength="15.5" lengthAdjust="spacingAndGlyphs" transform="rotate(-90 339.80 642.30)">SBS48</text>
<text x="345.06" y="642.30" font-size="4.6" fill="#4a4a4a" text-anchor="end" stroke="#4a4a4a" stroke-width="0.16" textLength="15.5" lengthAdjust="spacingAndGlyphs" transform="rotate(-90 345.06 642.30)">SBS49</text>
<text x="350.31" y="642.30" font-size="4.6" fill="#4a4a4a" text-anchor="end" stroke="#4a4a4a" stroke-width="0.16" textLength="15.5" lengthAdjust="spacingAndGlyphs" transform="rotate(-90 350.31 642.30)">SBS50</text>
<text x="355.57" y="642.30" font-size="4.6" fill="#4a4a4a" text-anchor="end" stroke="#4a4a4a" stroke-width="0.16" textLength="15.5" lengthAdjust="spacingAndGlyphs" transform="rotate(-90 355.57 642.30)">SBS51</text>
<text x="360.83" y="642.30" font-size="4.6" fill="#4a4a4a" text-anchor="end" stroke="#4a4a4a" stroke-width="0.16" textLength="15.5" lengthAdjust="spacingAndGlyphs" transform="rotate(-90 360.83 642.30)">SBS52</text>
<text x="366.08" y="642.30" font-size="4.6" fill="#4a4a4a" text-anchor="end" stroke="#4a4a4a" stroke-width="0.16" textLength="15.5" lengthAdjust="spacingAndGlyphs" transform="rotate(-90 366.08 642.30)">SBS53</text>
<text x="371.34" y="642.30" font-size="4.6" fill="#4a4a4a" text-anchor="end" stroke="#4a4a4a" stroke-width="0.16" textLength="15.5" lengthAdjust="spacingAndGlyphs" transform="rotate(-90 371.34 642.30)">SBS54</text>
<text x="376.59" y="642.30" font-size="4.6" fill="#4a4a4a" text-anchor="end" stroke="#4a4a4a" stroke-width="0.16" textLength="15.5" lengthAdjust="spacingAndGlyphs" transform="rotate(-90 376.59 642.30)">SBS55</text>
<text x="381.85" y="642.30" font-size="4.6" fill="#4a4a4a" text-anchor="end" stroke="#4a4a4a" stroke-width="0.16" textLength="15.5" lengthAdjust="spacingAndGlyphs" transform="rotate(-90 381.85 642.30)">SBS56</text>
<text x="387.10" y="642.30" font-size="4.6" fill="#4a4a4a" text-anchor="end" stroke="#4a4a4a" stroke-width="0.16" textLength="15.5" lengthAdjust="spacingAndGlyphs" transform="rotate(-90 387.10 642.30)">SBS57</text>
<text x="392.36" y="642.30" font-size="4.6" fill="#4a4a4a" text-anchor="end" stroke="#4a4a4a" stroke-width="0.16" textLength="15.5" lengthAdjust="spacingAndGlyphs" transform="rotate(-90 392.36 642.30)">SBS58</text>
<text x="397.61" y="642.30" font-size="4.6" fill="#4a4a4a" text-anchor="end" stroke="#4a4a4a" stroke-width="0.16" textLength="15.5" lengthAdjust="spacingAndGlyphs" transform="rotate(-90 397.61 642.30)">SBS59</text>
<text x="402.87" y="642.30" font-size="4.6" fill="#4a4a4a" text-anchor="end" stroke="#4a4a4a" stroke-width="0.16" textLength="15.5" lengthAdjust="spacingAndGlyphs" transform="rotate(-90 402.87 642.30)">SBS60</text>
<text x="408.12" y="642.30" font-size="4.6" fill="#4a4a4a" text-anchor="end" stroke="#4a4a4a" stroke-width="0.16" textLength="15.5" lengthAdjust="spacingAndGlyphs" transform="rotate(-90 408.12 642.30)">SBS84</text>
<text x="413.38" y="642.30" font-size="4.6" fill="#4a4a4a" text-anchor="end" stroke="#4a4a4a" stroke-width="0.16" textLength="15.5" lengthAdjust="spacingAndGlyphs" transform="rotate(-90 413.38 642.30)">SBS85</text>
<text x="418.63" y="642.30" font-size="4.6" fill="#4a4a4a" text-anchor="end" stroke="#4a4a4a" stroke-width="0.16" textLength="15.5" lengthAdjust="spacingAndGlyphs" transform="rotate(-90 418.63 642.30)">SBS86</text>
<text x="423.89" y="642.30" font-size="4.6" fill="#4a4a4a" text-anchor="end" stroke="#4a4a4a" stroke-width="0.16" textLength="15.5" lengthAdjust="spacingAndGlyphs" transform="rotate(-90 423.89 642.30)">SBS87</text>
<text x="429.14" y="642.30" font-size="4.6" fill="#4a4a4a" text-anchor="end" stroke="#4a4a4a" stroke-width="0.16" textLength="15.5" lengthAdjust="spacingAndGlyphs" transform="rotate(-90 429.14 642.30)">SBS88</text>
<text x="434.40" y="642.30" font-size="4.6" fill="#4a4a4a" text-anchor="end" stroke="#4a4a4a" stroke-width="0.16" textLength="15.5" lengthAdjust="spacingAndGlyphs" transform="rotate(-90 434.40 642.30)">SBS89</text>
<text x="439.65" y="642.30" font-size="4.6" fill="#4a4a4a" text-anchor="end" stroke="#4a4a4a" stroke-width="0.16" textLength="15.5" lengthAdjust="spacingAndGlyphs" transform="rotate(-90 439.65 642.30)">SBS90</text>
<text x="444.91" y="642.30" font-size="4.6" fill="#4a4a4a" text-anchor="end" stroke="#4a4a4a" stroke-width="0.16" textLength="15.5" lengthAdjust="spacingAndGlyphs" transform="rotate(-90 444.91 642.30)">SBS91</text>
<text x="450.16" y="642.30" font-size="4.6" fill="#4a4a4a" text-anchor="end" stroke="#4a4a4a" stroke-width="0.16" textLength="15.5" lengthAdjust="spacingAndGlyphs" transform="rotate(-90 450.16 642.30)">SBS92</text>
<text x="455.42" y="642.30" font-size="4.6" fill="#4a4a4a" text-anchor="end" stroke="#4a4a4a" stroke-width="0.16" textLength="15.5" lengthAdjust="spacingAndGlyphs" transform="rotate(-90 455.42 642.30)">SBS93</text>
<text x="460.67" y="642.30" font-size="4.6" fill="#4a4a4a" text-anchor="end" stroke="#4a4a4a" stroke-width="0.16" textLength="15.5" lengthAdjust="spacingAndGlyphs" transform="rotate(-90 460.67 642.30)">SBS94</text>
<rect x="480.10" y="559.70" width="7.90" height="41.60" fill="url(#gE)"/>
<text x="479.60" y="546.20" font-size="6.6" fill="#2e2e2e" text-anchor="start" stroke="#2e2e2e" stroke-width="0.16" textLength="20.2" lengthAdjust="spacingAndGlyphs">Cosine</text>
<text x="479.60" y="553.50" font-size="6.6" fill="#2e2e2e" text-anchor="start" stroke="#2e2e2e" stroke-width="0.16" textLength="23.9" lengthAdjust="spacingAndGlyphs">distance</text>
<text x="491.30" y="563.40" font-size="6.6" fill="#2e2e2e" text-anchor="start" stroke="#2e2e2e" stroke-width="0.16" textLength="12.4" lengthAdjust="spacingAndGlyphs">1.00</text>
<line x1="480.10" y1="561.00" x2="481.60" y2="561.00" stroke="#ffffff" stroke-width="0.5"/>
<line x1="486.50" y1="561.00" x2="488.00" y2="561.00" stroke="#ffffff" stroke-width="0.5"/>
<text x="491.30" y="573.33" font-size="6.6" fill="#2e2e2e" text-anchor="start" stroke="#2e2e2e" stroke-width="0.16" textLength="12.4" lengthAdjust="spacingAndGlyphs">0.75</text>
<line x1="480.10" y1="570.93" x2="481.60" y2="570.93" stroke="#ffffff" stroke-width="0.5"/>
<line x1="486.50" y1="570.93" x2="488.00" y2="570.93" stroke="#ffffff" stroke-width="0.5"/>
<text x="491.30" y="583.26" font-size="6.6" fill="#2e2e2e" text-anchor="start" stroke="#2e2e2e" stroke-width="0.16" textLength="12.4" lengthAdjust="spacingAndGlyphs">0.50</text>
<line x1="480.10" y1="580.86" x2="481.60" y2="580.86" stroke="#ffffff" stroke-width="0.5"/>
<line x1="486.50" y1="580.86" x2="488.00" y2="580.86" stroke="#ffffff" stroke-width="0.5"/>
<text x="491.30" y="593.19" font-size="6.6" fill="#2e2e2e" text-anchor="start" stroke="#2e2e2e" stroke-width="0.16" textLength="12.4" lengthAdjust="spacingAndGlyphs">0.25</text>
<line x1="480.10" y1="590.79" x2="481.60" y2="590.79" stroke="#ffffff" stroke-width="0.5"/>
<line x1="486.50" y1="590.79" x2="488.00" y2="590.79" stroke="#ffffff" stroke-width="0.5"/>
<text x="491.30" y="603.12" font-size="6.6" fill="#2e2e2e" text-anchor="start" stroke="#2e2e2e" stroke-width="0.16" textLength="12.4" lengthAdjust="spacingAndGlyphs">0.00</text>
<line x1="480.10" y1="600.72" x2="481.60" y2="600.72" stroke="#ffffff" stroke-width="0.5"/>
<line x1="486.50" y1="600.72" x2="488.00" y2="600.72" stroke="#ffffff" stroke-width="0.5"/>
<rect x="0.5" y="0.5" width="519" height="667" fill="none" stroke="#4e4e4e" stroke-width="1"/>
</svg>
</body></html>
